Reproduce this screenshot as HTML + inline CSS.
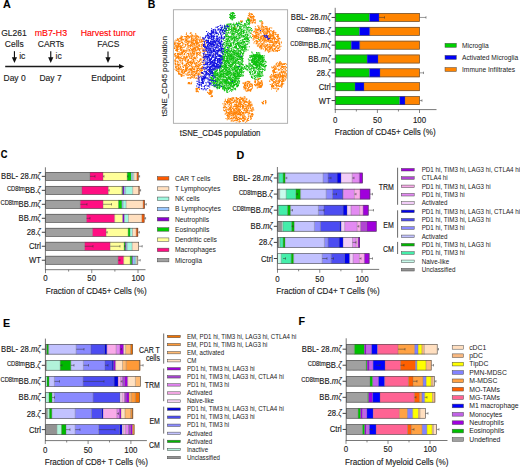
<!DOCTYPE html>
<html><head><meta charset="utf-8"><style>
html,body{margin:0;padding:0;background:#fff;}
svg{display:block;font-family:"Liberation Sans", sans-serif;}
text{stroke:currentColor;stroke-width:0.12px;paint-order:stroke;}
</style></head><body>
<svg width="520" height="467" viewBox="0 0 520 467">
<rect width="520" height="467" fill="#fff"/>
<text transform="matrix(1 0 0 1.0 2.90 7.60)" font-size="10.8" text-anchor="start" fill="#000" color="#000" font-weight="bold" >A</text>
<text transform="matrix(1 0 0 1.06 13.90 35.60)" font-size="8.5" text-anchor="middle" fill="#1a1a1a" color="#1a1a1a" >GL261</text>
<text transform="matrix(1 0 0 1.06 14.30 46.60)" font-size="8.5" text-anchor="middle" fill="#1a1a1a" color="#1a1a1a" >Cells</text>
<text transform="matrix(1 0 0 1.06 50.90 35.60)" font-size="8.85" text-anchor="middle" fill="#ff0000" color="#ff0000" >mB7-H3</text>
<text transform="matrix(1 0 0 1.06 50.90 46.60)" font-size="8.5" text-anchor="middle" fill="#1a1a1a" color="#1a1a1a" >CARTs</text>
<text transform="matrix(1 0 0 1.06 108.20 35.60)" font-size="8.8" text-anchor="middle" fill="#ff0000" color="#ff0000" >Harvest tumor</text>
<text transform="matrix(1 0 0 1.06 108.30 46.60)" font-size="8.5" text-anchor="middle" fill="#1a1a1a" color="#1a1a1a" >FACS</text>
<text transform="matrix(1 0 0 1.06 14.60 81.30)" font-size="8.5" text-anchor="middle" fill="#1a1a1a" color="#1a1a1a" >Day 0</text>
<text transform="matrix(1 0 0 1.06 50.50 81.30)" font-size="8.5" text-anchor="middle" fill="#1a1a1a" color="#1a1a1a" >Day 7</text>
<text transform="matrix(1 0 0 1.06 108.00 81.30)" font-size="8.5" text-anchor="middle" fill="#1a1a1a" color="#1a1a1a" >Endpoint</text>
<text transform="matrix(1 0 0 1.06 19.20 59.00)" font-size="8.5" text-anchor="start" fill="#1a1a1a" color="#1a1a1a" >ic</text>
<text transform="matrix(1 0 0 1.06 55.60 59.00)" font-size="8.5" text-anchor="start" fill="#1a1a1a" color="#1a1a1a" >ic</text>
<line x1="14.45" y1="51.20" x2="14.45" y2="59.00" stroke="#111" stroke-width="1.15"/>
<path d="M11.85,57.30 L17.05,57.30 L14.45,63.00 Z" fill="#111"/>
<line x1="50.75" y1="51.20" x2="50.75" y2="59.00" stroke="#111" stroke-width="1.15"/>
<path d="M48.15,57.30 L53.35,57.30 L50.75,63.00 Z" fill="#111"/>
<line x1="108.00" y1="51.40" x2="108.00" y2="59.00" stroke="#111" stroke-width="1.15"/>
<path d="M105.40,57.30 L110.60,57.30 L108.00,63.00 Z" fill="#111"/>
<line x1="5.20" y1="66.45" x2="119.00" y2="66.45" stroke="#1a1a1a" stroke-width="1.35"/>
<path d="M119.0,64.1 L124.4,66.45 L119.0,68.8 Z" fill="#111"/>
<text transform="matrix(1 0 0 1.0 147.80 7.70)" font-size="10.5" text-anchor="start" fill="#000" color="#000" font-weight="bold" >B</text>
<defs><filter id="tb" x="0" y="0" width="1" height="1"><feGaussianBlur stdDeviation="0.3"/></filter><clipPath id="tc"><rect x="173.9" y="10.2" width="113.3" height="112.6"/></clipPath></defs><g clip-path="url(#tc)"><g filter="url(#tb)" fill="none" stroke-width="1.05" stroke-linecap="square"><path stroke="#ff8000" d="M250.5 108.1h0m-51.8-43.8h0m81.2-19.6h0m-82.3 4.3h0m56.1-29.8h0m-72.3 53h0m-.1-24.7h0m64.2 35.7h0m22-52.4h0m12.2 47.1h0m-41.6 27.2h0m30.1-66.2h0m18.6 35.5h0m-89.4-5.2h0m1.5-19.9h0m78.7 1.1h0m-2.2-8.3h0m-20.6-.5h0m-80 2.7h0m15.1 14.1h0m-14.6-2.8h0m52.3 47.9h0m-38.7-49.5h0m-12.6 12.6h0m10.5-15.4h0m12.7 38.2h0m74.6-40.3h0m-1.9 37.9h0m7.2-4.5h0m-28.9 36.7h0m-65.3-45.2h0m48.6 24h0m-41.4-55.6h0m43.8 72.6h0m25.6-29h0m-18.5 27.2h0m-61.1-42.8h0m14.1 1.4h0m75.4-4.8h0m-77.1-22.8h0m71.6-14.6h0m-14.9 60.2h0m-63.3-19.1h0m80.8-32.5h0m-90.4 19.8h0m82.4 29.5h0m-25.1 28.4h0m-8.2-1h0m17.8-10.5h0m24.4-72.9h0m-38.8 84.3h0m-34.7-24.6h0m-9.1-43.2h0m76.6 53.2h0m13.5-59.7h0m.6 42h0m-46.3 27.3h0m37.8-74.3h0m-42.8 71.2h0m26.9-75.8h0m-67.9 12.6h0m61.8 75h0m-68.7-66.1h0m19.5 20.8h0m-6.4-24.6h0m-14.6 .5h0m8 10.4h0m87.9 17.8h0m-23.6-59.2h0m11.4 67.6h0m18.4-40.7h0m-11.7-12.8h0m-24.4 49.9h0m-55.5-5.1h0m72.8-35.9h0m-24.1 66.5h0m11.1 4.2h0m-49.8-41h0m47.7 10.7h0m27.9-2.6h0m-81.8-42.6h0m1.5 7h0m-15.4 5.2h0m82.2-2.7h0m-5.1-9.9h0m-61.4 34.6h0m-14.9-16.8h0m61.2 46.3h0m43.2-34.2h0m-87.4-2.5h0m47 51.8h0m-63.5-59.3h0m25.2 6.9h0m81.6 9.1h0m-44.8-52.1h0m25.1 27.8h0m-74.9-15.7h0m78.4 9.9h0m-64.7 8h0m-24.9 7.2h0m2.8 1h0m61.7 58.1h0m26.1-37.8h0m-8.6-33.1h0m-16.9 56.2h0m-50.1-27.9h0m40-45.7h0m41.8 56.1h0m-47.6 30.6h0m44.9-27h0m-65.5-17.3h0m47.7-27.3h0m.9 35.7h0m-75.3-20.7h0m88.5 18.6h0m11.9-1.6h0m-6-29h0m-24.2 64.4h0m-25.3 1.8h0m34.7-86.3h0m-10.5-9.2h0m-56.3 40.9h0m76.8-23.2h0m-67.9 20.9h0m-11.2-4.6h0m89.4 20h0m-22.7-30.2h0m23.1 44.9h0m-17.6-38.9h0m-66.8 13.4h0m-15.3-18.5h0m75.8 36.3h0m-60.4-8h0m-23.6-10h0m64.5 43.5h0m33.4-23.5h0m-84.7-12.5h0m53.7 38.3h0m-2.6 3.6h0m-32.4-55.6h0m-9.9-17.6h0m55.8 47.5h0m-3.7 18.1h0m2.3 13.9h0m-65.2-57.1h0m62.5 22.3h0m-7.3 23.7h0m34.5-55.1h0m-23.1 59.8h0m14.7-81.4h0m-5.4 56.9h0m-68-25.7h0m79.4-24.3h0m-71.9 17.1h0m-6.6 14.9h0m54 53h0m15.7-81h0m-66 10.7h0m61.9-2.2h0m12.6-2.2h0m-93.7 21.6h0m92.1-29.9h0m-25.4 60.7h0m-51.3-39.6h0m41 41.6h0m43.5-23.3h0m-32.6 6h0m-62.9-9h0m-.4-1.1h0m6.7-15.5h0m-6.9-14.7h0m21.9 6.8h0m63.3-7.9h0m-34.1-11.3h0m13.7 80.5h0m24.4-36h0m-42.2 39.3h0m19.5-23.8h0m-18.4 9.3h0m52.1-24.4h0m-99.7-31.6h0m79-19.2h0m-72 12.9h0m71.3-9.2h0m14 61h0m-.3-39.3h0m-34.3 64.9h0m-52.6-78.4h0m71.9-2.6h0m-71.1 9.4h0m56.9 58.9h0m1.8-17.7h0m8.5-52.3h0m14.1 9.3h0m-69.9 1.2h0m67.7-13.2h0m-79.2 43.2h0m52.3 31h0m41.1-27.6h0m-32-56.4h0m.9 98.6h0m-61.5-67.5h0m64.2-29.3h0m-7.1 81.3h0m-64.2-48.6h0m94.4-17.2h0m-45.4 74.6h0m44.2-42.4h0m-86.8 13.8h0m14.8-31h0m-27.5 16.3h0m12.6-31.2h0m97.9 30.9h0m-94.2-22.5h0m38.7 68.6h0m27.7-28.6h0m-59.1-31.5h0m-.6-8.1h0m-6.7 22.2h0m66.1 14.3h0m11.2-30.8h0m.8-13h0m10.9 43.4h0m-12.1-41.5h0m-73.5 35.8h0m20.1-6.9h0m61.5 9.3h0m-4.7-39.3h0m8.8 42.5h0m-90.1-42.1h0m40.6 67.9h0m-40.3-66.2h0m-7 15.7h0m46.9 41.6h0m-35.2-8.7h0m-15.2-47.4h0m63.2 42.3h0m25.7-8h0m-38.3 34.8h0m14.4-20.4h0m-57.1-44.9h0m10 6.6h0m45.2 34.8h0m-39.1-36.2h0m45.1 35.3h0m-70.7-45.2h0m83.9 7.6h0m-3.2 34.5h0m-76.2-25.7h0m96.7 27.6h0m-42.6 29.5h0m-5.1-16.1h0m-47.6-61.9h0m11.5 31.8h0m71.3-31.1h0m-34.1 80.3h0m-42.9-72.9h0m44.5 69.7h0m36.1-79.6h0m-89.1 4h0m46.6 69.1h0m43.5-36.5h0m-74.4-6.8h0m52.9-47h0m-48.3 27.7h0m63.4 .7h0m10.2 32.9h0m-16-33.6h0m-21.2 55.3h0m-1.4 9.6h0m38.2-69.1h0m-2.4-5.1h0m-41.3 72.2h0m12.6-7.7h0m-58.2-50.1h0m6.4 2.9h0m6.8 10.7h0m77.8-28.4h0m-49.6 74.4h0m53.4-44h0m-31.9-49.8h0m28.8 65.2h0m-28.6 22.5h0m-67.2-60.5h0m72.7-13.8h0m-77.3 42h0m18.7-8.4h0m42.9 51.6h0m-57.8-67.5h0m14.2 22.8h0m-11.8 2h0m57.4 31.9h0m8.6-20.5h0m-10.4 22.9h0m23.1-60.6h0m-19.2 58.1h0m-42.8-33.7h0m28.5 46.3h0m13.2 4.2h0m32.7-52.2h0m-77.1-30.9h0m-19.8 21.2h0m105.3 7.5h0m-46.5 52.9h0m27.3-72.4h0m13.7 36.3h0m-42 36.8h0m-58.8-48.9h0m72.9 36.5h0m-63.8-33.5h0m11.1-21.7h0m51.6 48.8h0m-74.6-52.9h0m19.4 23h0m80 10.4h0m-27.5 19.6h0m12.7-61.6h0m-11.6 51h0m25.4-45.8h0m-23 45.8h0m-.9-8h0m-54.5-30h0m82 35.2h0m-80.7-51.3h0m-20.2 3.2h0m12 32.5h0m81.7 8.6h0m-15.5-49.4h0m-50.5 28.2h0m46.8-42.3h0m-16.3 96.6h0m-52-50.6h0m3.6-6h0m42.2 61.2h0m44.6-85.2h0m-35.4 65.3h0m-27-4.9h0m43.7-50.9h0m-17.1 55h0m-36.8-23.2h0m26 43.6h0m48.1-81.5h0m-77.4 51.9h0m15.2 7.7h0m33-13.4h0m-39.5-36.5h0m20.6 58.2h0m-50.5-58.9h0m4.7 16.2h0m58 40.6h0m4.9 14.1h0m40.6-48.3h0m-42.7 34.1h0m12.1-63.9h0m20 47.6h0m1.2-54.1h0m-1.8 10.5h0m1.5-5h0m-29.7 64.7h0m-6.5 10.9h0m-37.7-59.4h0m60.8 28.8h0m-2.3-53.1h0m23.9 49.3h0m-34.7 9.8h0m-53.8-53h0m62.4-.8h0m-18.8 67.9h0m13.8-69.5h0m24.1 39.2h0m-4.9-37.7h0m6.9 48.7h0m-3-15.3h0m-93 6.3h0m-4.3-25.7h0m9.3-15.7h0m90.7 55.9h0m-36.5 25.6h0m31.1-67.6h0m.5 20.9h0m1.1-.5h0m-17.4-30.8h0m-59 2.1h0m-13.1 1.3h0m.1 11.3h0m2.5 6.3h0m91.7 19.2h0m-29.9 6.4h0m-67-33.1h0m10.7-12.4h0m46.5 75.9h0m-46.8-39.4h0m83 2.7h0m-63.5 16.4h0m25.3 20h0m12.1-.1h0m-12.5 7h0m10.1-20.6h0m-50-36.6h0m-17.9-7.1h0m7.8 14.6h0m77.2-24.4h0m-17.3 41.4h0m11.7-1.7h0m-9.1-66.6h0m13.4 25.3h0m14.1 6h0m-77-7.7h0m-12.3-6.4h0m-12.4 18.3h0m4.3-9.4h0m100.3 37.4h0m-82.8-46.7h0m73.4-1.7h0m-12.2 4h0m16.7 5.4h0m-92.9 28.4h0m3.3-6.4h0m46.1 42.3h0m1.1-2.3h0m17.2-4.6h0m-62.6-61.9h0m45.3 60.6h0m-31.6-28h0m69.3-27.4h0m-78.8-8.5h0m-14.6 25.9h0m69.4 22.2h0m9.9 1h0m-24.1 22.1h0m39.4-59.1h0m-30.8 64.7h0m-45.5-59.8h0m50 53.4h0m-52.4-71.3h0m80.3 52.4h0m-36.5-60.2h0m13.8 79.6h0m7.8-65.7h0m-78.8 8.1h0m53.7 69.3h0m20.2-84.1h0m-62.8 48.5h0m13-16.3h0m81.5 2h0m-30.1-32h0m-.3-17.8h0m.2 91.2h0m-13.8-8.4h0m2.9-1.2h0m19.4-15.4h0m-11.7 20.9h0m-33.2-61.7h0m-30.8-3.9h0m45.3 71.9h0m12.6 6.5h0m-48.2-67.9h0m28.6 55.2h0m58.7-25.7h0m-43 23.2h0m11.4 2.1h0m5.4-67.2h0m-71.8 19.9h0m86.7 25.6h0m2.7-14.8h0m-77.2-.7h0m-23-26.2h0m77.1 68.5h0m-12.9 3.7h0m4.8 5.7h0m23.5-75.3h0m.5-15.6h0m5.6 3.3h0m-95 12.1h0m53.7 53.4h0m-50-55.6h0m97.9 6.9h0m-43.5 54.7h0m23-63.2h0m18.6 25h0m-27.7 51.2h0m-46.2-47.7h0m-15.2-32.5h0m38.5 65.8h0m38.1-.6h0m-5.1-16.2h0m-2.4-49.5h0m-15.9 72.7h0m38.9-38.7h0m-6.3-32.5h0m-35.1 68.7h0m-4.3-1.7h0m-7.7-5.2h0m31.3-14.3h0m-71.5-21.6h0m72.7-31.4h0m-78.6 20.9h0m-5.7-2.8h0m60.5 66.6h0m21.5-37h0m-75.1-10.2h0m-.3-17.2h0m69.8 63.6h0m-68-44.3h0m91.9 13.2h0m-37.8 34.3h0m-59.9-78.3h0m87.3 61.5h0m-40.6 11.5h0m54.2-63.6h0m-3.5 18.9h0m-17.5-32.5h0m-66.2 5h0m90.9 37.6h0m-25.3 2.6h0m14.7-40.4h0m-37.7 71.3h0m5.1 8.4h0m42.9-44.7h0m-25.6-46.7h0m-53.2 18.6h0m-9.2 8.5h0m83 20.7h0m-83.3-1.9h0m76.8 1.2h0m-31.2 37.1h0m-12.7 1.3h0m8.5-10.5h0m32-63.9h0m-20.5 69.6h0m-59.1-48.4h0m84.6-23.6h0m-93.8 14.9h0m104.1 21.9h0m-83.7-.7h0m31.1 32h0m-38.3-70.5h0m1.1 38.8h0m55.3 38.1h0m-17.9-13.3h0m-28.9-54.2h0m-18.6 21.8h0m-5.7-27.6h0m0 14.6h0m96.7 24.7h0m-22.3 5.7h0m-62.1-19.3h0m7.5-22.4h0m14.6 47.2h0m-18.5-41.2h0m83 37h0m-89.6-17.6h0m7.8-7.6h0m-8.8-20.6h0m-5.9 23.9h0m6.5-.8h0m82.1-27.2h0m-16.1 .1h0m-7.3 76.2h0m-57.4-66.7h0m10.8-.8h0m-14.5 12.2h0m72.6-13.8h0m-12.1 76.4h0m21.4-77.7h0m-37.6 76.2h0m-40.9-75.2h0m80.8-11.3h0m-44.3 75.5h0m11.4 .7h0m-43.3-67.7h0m17.7 51.8h0m-8.2-16.2h0m.8-32.2h0m-18.1 28.7h0m72.3 12h0m-7.2-64.5h0m-19.1 83.1h0m-36.4-63.4h0m63.1 44.9h0m-28.8 24.3h0m-41.1-70.9h0m6.5 10.3h0m67.6-17.4h0m24 35.5h0m-19.3-25.8h0m-76.5 31.2h0m40.9 29.9h0m32.6 1.3h0m-76.3-62.6h0m-11.5 16.1h0m65.7 55.9h0m-61.9-39.4h0m8.9-12.3h0m-4.6-8.6h0m82.6 48.7h0m-24.7 3.6h0m-43.5-33.9h0m70.2-23.3h0m-82.4 22.2h0m8.2-15.6h0"/><path stroke="#ff8000" d="M185.4 39.9h0m91.3 45.3h0m-25.1 28.9h0m-69.6-76.5h0m65.5 48.4h0m-71.9-32.6h0m95.9 33.1h0m1.8-14.7h0m-94.6-27.6h0m64.1 70.1h0m-50.5-47h0m85.7 6.8h0m-84.6-33.4h0m-2.1 3.2h0m.8 33.6h0m65-41.6h0m12.4 10.7h0m-82.9 22.5h0m58 33.8h0m3.6 11.9h0m-60.8-52.7h0m9-18.1h0m-2.3 1.6h0m-1.9-10.2h0m1 4.4h0m61.4-19.8h0m19.5 22.4h0m-25.1-24.1h0m-46.2 33h0m26.3 68h0m-48.1-49.5h0m15.3 20.9h0m32.7 22h0m36.4-79.6h0m-31.2 79.5h0m28.6-68.7h0m-2.8-3.4h0m-9.1 61.6h0m-45.6-48.2h0m54.7-16.4h0m-23.4 80.6h0m4.1-8.9h0m-43.4-51.4h0m74.4-29.8h0m-17.8-7.9h0m7.9 9.3h0m-25.6 92.9h0m31.6-74.4h0m-39.8 66.7h0m-33.9-59.8h0m69.1-24.7h0m10.8 12.6h0m-95.3 4.5h0m65.3 68.3h0m38.6-30.8h0m-91.1-14.1h0m87.6-7h0m-94.3 1.3h0m17.6 4.4h0m-11.1-2.7h0m35.4 40.8h0m50.7-56h0m-23.6-31.2h0m-3.2-3h0m-12.5 89.8h0m-38.5-57h0m-22.7-4.6h0m104.5 35.8h0m-7.1-35.9h0m-46.8 71h0m51.1-67.8h0m-77.3-3.8h0m-9.3 26.6h0m-10.7-35.4h0m74.9 2.1h0m16.4-1.3h0m-80.3 12.6h0m2.5 25.2h0m57.7-57.7h0m-54.7 71.6h0m4.3-41.2h0m52.3-10.6h0m23.5 8.9h0m-97.6 29h0m23.3-19.5h0m-21 11.2h0m91.4 20.7h0m-39.3 14h0m38.1-19.9h0m-42.6 27.8h0m-46.4-35.3h0m-8.6-10.3h0m7.2-9.9h0m17.1 12.5h0m46.8 17.1h0m-57.8-28.6h0m6.1 13.9h0m5.1-19.6h0m69.8-19h0m-32.8 72.9h0m34.6-64.1h0m-30.8 63.5h0m7.4 5.1h0m30.4-26.7h0m-95.6-25.4h0m41.5 51.8h0m41.4-4.2h0m-40.3 2h0m-31.2-65.7h0m91.9 37.8h0m-12.2-34.3h0m-92.7 10.6h0m101 12.4h0m-101.6-17h0m16.7 40.9h0m31.1 9.1h0m19.7-8.6h0m-33.8-35.5h0m-32.4-17h0m70.9-14.5h0m-.5 65.5h0m10-5h0m-37.6-22.9h0m42.6-31h0m-78.3 40.1h0m54.4 43.5h0m32-31.1h0m-78.9 9.5h0m60.7-52.8h0m-33 66.6h0m48.7-71h0m-11.4 11.5h0m-70.2 12.2h0m67.4-30.2h0m-28.5 83.4h0m42.8-60.6h0m-7.3-.3h0m13 25.5h0m-99.1-34.3h0m82.6 5.9h0m-69.9 9.6h0m52.8 31.6h0m-45-22.9h0m-6.6 6.3h0m-4.5-34.3h0m58.9 72.7h0m10.4-71.6h0m-78.5 29.6h0m13 .4h0m66.5 15.9h0m-47.3 11.2h0m56.1-64.5h0m-92.1 27.2h0m81.7-32.4h0m-75 38.2h0m50.4 49.3h0m4.3 6.9h0m-47.2-74.8h0m71.7-9.5h0m-81.3 11.5h0m56 59h0m33.2-57.3h0m-81.9 18.3h0m72.7 15.4h0m-83.1-39.4h0m13.8 30.1h0m4.7-27.9h0m-9.9 19.9h0m84.8-16.4h0m-70.9 18.8h0m-12-26.3h0m95.9 33.5h0m-75.4 17.6h0m47.9-60.3h0m-10.7 54.2h0m-11.2 14.4h0m4.1-2.6h0m-57.7-49.8h0m93.7 20.5h0m-77.6-22h0m71.6-9.1h0m-80.3 .5h0m86.9-4.1h0m1.5 16h0m-84.4-.3h0m56.8 39.7h0m-59.3-34h0m66.7-20.6h0m-20.2 62.9h0m-50.4-58.4h0m45.6 73.5h0m-40.9-66.7h0m79.5-.5h0m-73.6 31.8h0m-3.7-1.8h0m-1.4-2.1h0m54.1 8.2h0m20.1-44.2h0m-19.8 50.5h0m-10.5 22.5h0m-37.8-19.6h0m46.3-4.6h0m-50.3-25.3h0m83.3 15.1h0m-86.1-28.2h0m65.7-7.9h0m6.4-9.7h0m-80.5 31.7h0m60.7 50h0m-56.2-63.6h0m7.4-4.3h0m87.1 26.7h0m-102.1-26.1h0m6 1.2h0m73-.7h0m-69.5 16.9h0m-4.5-3.4h0m40.6 43.9h0m-30.2-26.1h0m-5.6 5.6h0m6.4-9.3h0m74.8-45.6h0m-14.1 8.3h0m-60.9 15.1h0m78.9 31.1h0m5.5-19.4h0m-20.8-34h0m-10.7 61.5h0m-58.9-49.1h0m.6 41.7h0m10.9-22.9h0m63.8-23.6h0m-75.4 27.4h0m-2.7-29.4h0m83.4-.6h0m-8.6-12.2h0m-17.5 83.8h0m-12.3-4.7h0m23.7-19.9h0m-74.2-26h0m10.4 8.2h0m-6.8-9.7h0m15.1-13.2h0m45.3 45h0m37-12.6h0m-89.7-34.2h0m74.9 7h0m-80.7-7.6h0m64.9-17.4h0m-56.4 43.2h0m54 53h0m-70.9-51.3h0m76-48.9h0m-70.6 35.1h0m96.8-12.7h0m-17.7-3.2h0m-5 45.2h0m-26.7 30.3h0m21.5 4h0m-60.9-69.5h0m10.4 18.8h0m-21 2.5h0m16.1-14.4h0m-9.4-11.6h0m-.5 28.5h0m14.7-2.2h0m-13.1-2.7h0m83.8-15.8h0m-72.7-7.6h0m-12.6 .4h0m68.1-4.1h0m29.9 37.3h0m-105.4-6h0m46.5 38.8h0m47.9-28h0m-36.9 32.7h0m43.9-43.8h0m-19.4-21.5h0m-14.5 34.6h0m-13.5 16.6h0m38.3-19.1h0m-27.9 9.9h0m-34.6 1.5h0m70.7-4.4h0m-94-21.4h0m-5-6.2h0m12.8-7h0m84.2-9.4h0m3.3 21.3h0m-6-21.7h0m3.8 28.3h0m-100.5-14h0m12.8 8.5h0m-13.2-18.2h0m.3-3.1h0m53.4 77.7h0m17.5-20.5h0m-49.7-50.6h0m53.1-32.6h0m-73.9 39.9h0m66.4 32.9h0m9.7-9.1h0m-74.7-26.3h0m13.6 22.7h0m-8-10.7h0m59.9 39.7h0m33.5-61.6h0m-89.3 5.6h0m-11.9-3.6h0m98.8 35.1h0m-100.6-32.1h0m20.6 17.3h0m88.1 8.8h0m-17-34.3h0m-79.6 19.2h0m-4.4-16.7h0m2.2 6.8h0m85.9 29.5h0m-93.7-12.1h0m87.4-37h0m-13.4 56.7h0m-73.8-18.2h0m104.9 6.1h0m-24.9-47.9h0m-68.9 29h0m85.9 20.3h0m-28.5 43h0m-15.5-17.4h0m-31.9-47.2h0m78.5 9.8h0m-31.5 33.6h0m-2.7 16.6h0m-55.2-74.7h0m43.4 71.3h0m-26.7-70.7h0m66.1 44h0m-15.4-43.8h0m19.5 32.8h0m-6.4-27.9h0m14.6 31.9h0m-99.6-13.5h0m45.6 33.9h0m19.3-79.2h0m10.8 19.7h0m-80.4 7.3h0m68.7 62h0m26.2-33.2h0m-38.4 22h0m-40.4-23.7h0m82.9-35.2h0m-24.5-1.7h0m-3.6 68.1h0m29.8-28.5h0m-102.2-12.2h0m67.9 37.6h0m-68.8-51.4h0m17.5-13.7h0m-14.5 33h0m98.5-28.9h0m-84.8 16.7h0m-12.9-11.3h0m77.9-11.1h0m-84.6 9h0m100.5 31h0m-4.3-26.7h0m-90.2 9h0m63.3 42.7h0m-20.3 7.7h0m-32.4-62.1h0m74.3-19.3h0m-20.9 59.1h0m9.3-47.6h0m25.7 .6h0m-87.6 4.6h0m61.4-3.2h0m29.3 41.5h0m-84.1-1.6h0m66.7-28.8h0m16.1 15.9h0m-5.4 21h0m-30.8 .3h0m-1.7-5h0m36.2-2.3h0m-82.4-27.3h0m29.3 59.2h0m3.6-7.4h0m34.1-59.8h0m11.1 37.5h0m-31.7 37.8h0m17.4-89h0m-59.6 27h0m48.5 23.1h0m-7.2 38.5h0m23.6-78.8h0m-15 42.8h0m32.5-20.4h0m-42.7 33.8h0m27.4-62.4h0m-78.3 15.1h0m46.9 58.6h0m-33.8-47.2h0m70.4-29.2h0m-24.9-13.4h0m-55.1 40.2h0m49.1 56.1h0m10.2-6.8h0m24.6-71.1h0m-88.8-1.7h0m83.5 48h0m-16.7-62h0m9.9 26.1h0m.5-10h0m9.7 .2h0m-11.9-3h0m-62.6 5.9h0m66.8 5h0m-89 23.6h0m63.3-48.8h0m21.1 18.6h0m-1.3 4h0m-22.9 67.5h0m-9.9-12.1h0m36.2-50h0m4.8-3.7h0m-41.2 68.3h0m8.3-6.7h0m-51.8-36.2h0m8.8-7.5h0m-17.7-14.2h0m64.5 52.9h0m29.8-53.1h0m-35.6 63.7h0m1.2-7.9h0m32.4-74.9h0m-34.1 84.4h0m-43.1-73.1h0m61.4-19.3h0m-73.1 37.7h0m8.9-9.6h0m63.4 65.2h0m25-66.2h0m-17.6 37.6h0m-62.5-44.3h0m36.2 64.8h0m18.7-84.6h0m25.9 63.8h0m-24.9-50.9h0m7.2 11.2h0m-83.8 2.6h0m106.1 27.5h0m-45.2 41.7h0m17.7-87.3h0m6.1-5.8h0m-1.4 6.1h0m-4.9-11h0m-59.7 28.4h0m-19.8 17.4h0m59.2 54.6h0m-32.7-72h0m.1 8h0m-15.5-.1h0m-4.8-16.7h0m91 46.2h0m5.4-17h0m-100-11h0m67.8 50.6h0m-48.8-67.6h0m37.9 69h0m15.8-5.4h0m16.7-64.9h0m-19.2 78.6h0m-49-45.2h0m-.1 15.6h0m45.5 21.4h0m-53.3-26.4h0m59 18.3h0m33.7-25.9h0m-83.8-3.5h0m-17.6-36.2h0m-2.6 31.3h0m19.9-29.9h0m33.6-8.8h0m11.5 90.1h0m18.8-90.9h0m-67.1 42.4h0m57.2-50.5h0m-60 46.2h0m-7.1-.6h0m9.7-.2h0m54.8 20.6h0m28-7h0m-77.5-37.7h0m-25.5 8.7h0m23.8 8.8h0m61.1-36.8h0m-19.8 89.4h0m-43.1-63h0m40.5 68.7h0m7.3-5.9h0m4.2-95h0m-61.9 43.1h0m73.2-11.3h0m-6.3 34.5h0m-16.4 30.3h0m-50-29.6h0m97.5-8.1h0m-89.8-3.4h0m-10.9-4.7h0m-1.4-15.4h0m45.1 49.3h0m-27.8-39h0m70.9-11.3h0m-75.3 4.1h0m2.4 5h0m68-12.3h0m-18.4 39.6h0m-57.7-28.8h0m12.4 .9h0m-18.2 9.2h0m97.3 8.9h0m-13.7-42.2h0m-7.1 49.6h0m-79.5-24.6h0m95.5-25.7h0m4.3 46.2h0m-29.7-64.2h0m-15.6 82.6h0m-59.4-37.8h0m18.2-23.8h0m46.4 75.8h0m-60.7-71.2h0m52.1 70.3h0m28.5-9.8h0m-30.9 8.9h0m42.8-72.5h0m-50 71.5h0m4.9 6.5h0m43-85.4h0m-11.9 4.6h0m-67 39.6h0m7-27.1h0m84.7 24.2h0m-76.3 20.9h0m-9-47.6h0m-1.5 20.5h0m-16.9-16.5h0m82.2 51.3h0m-86.2-54h0m88.2-10.1h0m-59.8 7.7h0m20.1 68.2h0m54.3-40.3h0m-91.9-34.3h0m61.4 64h0m23.8-71.2h0m-77.1 14.8h0m34 68.5h0m-31.3-36.7h0m31 24.9h0m-52.1-46.6h0m96.5-7.3h0m-77-6.2h0m5.7 1.7h0m54.3 38.7h0m-63.5-5.3h0m62 7.8h0m-24.1 29.7h0m46.2-67h0m-44.6 69.1h0m48.8-34.7h0m-92.9-33.4h0m55.2 59.3h0m16.5-23.1h0m-31.7 31.6h0m35.1-83h0m-15.1 69.5h0m-13.3 14.1h0m-39-29h0m-1.8-39.3h0m70.8-17.6h0m-29.8 88.4h0m16.2-6.2h0m-56.9-47.8h0m28.9 35.4h0m-44.3-44h0m17.3-21.6h0m-21.2 34.3h0m22.4-16.1h0m78.4-19.9h0m-5 6.4h0m-29.4 57.3h0m-31.7-6.9h0m-35.8-36.5h0m1 2.8h0m83.8 29.2h0m19.1-20h0m-15.2-28.4h0m-61 19.4h0m-20.6 13.6h0m87.1-29.5h0m-36.5 58.3h0"/><path stroke="#ff8000" d="M273.8 37.4h0m-86.4 22.5h0m51.3 47.1h0m31.8-66.6h0m-89.5-3.5h0m10.3 19.8h0m51.8 49.9h0m-15-80.6h0m-31.3 18.6h0m-2.4-.7h0m-3.5 24.6h0m-10.3-27.6h0m71.8-26.6h0m-15.9 97.7h0m-35.3-71.1h0m44.5 44.1h0m24.3-45.5h0m-19.1 45.5h0m-64.4-15h0m6.4-19.8h0m35.9 62.4h0m-36.6-44.1h0m-8-13.9h0m62.6 57.5h0m-65.5-51.1h0m47.6 38.9h0m15.3-12.5h0m-.2-1h0m-53.3-23h0m90.7 18.1h0m-3.4-40.8h0m-21.2 44.1h0m-11.5 17.1h0m32.9-65.9h0m-20.5-5.7h0m-76.9 8.6h0m90.7 50h0m-13.8-5.1h0m22.3-6.9h0m-4.6-32.9h0m-18.2-7.4h0m-56.1 5.8h0m-23.8 7.2h0m1.8 8.7h0m14-14.3h0m56.9 69.7h0m-54.4-79.9h0m62.2 .6h0m17.4 11.7h0m-82.8 6.2h0m71.5-23h0m-24 72.3h0m-46.9-48.4h0m80.6 32.6h0m-15-55.7h0m-68.7 53.3h0m16.3-31.9h0m26.6 46.3h0m48.2-25h0m-15.5-33.5h0m-69.5 49.8h0m57.2 25.6h0m7.1-69.2h0m-2.3-3.8h0m15.3-3.2h0m-83.7 24h0m-1.2 .5h0m94.3 11.8h0m-2.3-9.8h0m-102.8-.9h0m24.8 6.5h0m75-27.9h0m-80.6 10.7h0m45.9 48.7h0m-2.9 3.9h0m-46.8-46.6h0m80.1-13.1h0m-25.7 63.9h0m19-64.7h0m-72.5 22.7h0m-5.9-22h0m73.3 40.7h0m-86.8-38.3h0m70.7 70.7h0m10.6-85.6h0m-58.2 19.9h0m76.8-8.4h0m-92-5.5h0m-4.2 14.3h0m16.1-6.5h0m16.2 43.2h0m75.7-12.8h0m-12.7-27.2h0m-79 21.4h0m-.8-22.7h0m71.7-20.6h0m-22 77.4h0m4.6-22.4h0m-10.7 23.2h0m35.4-36.5h0m3.8 13.3h0m-65.3 8.4h0m-15.4-20.5h0m69.8-45h0m-90.4 34.5h0m61.1 36.5h0m10.6-6.5h0m15.1-42.4h0m.1 53.6h0m-67.8-58.5h0m-3.4-1.2h0m86.8 34.6h0m-4.2-39.6h0m-29.6 83.3h0m-11.7-12.5h0m41.6-39h0m-26.3 15.9h0m-.6 27h0m-54.2-61.6h0m-11.5 3.8h0m15.3 33.6h0m54.9-68h0m-72.1 31.8h0m20.3 8.9h0m40.8 49.5h0m-37.2-64.8h0m66.1-13.8h0m-39.2 79.9h0m10.6 1.2h0m10.4-93.5h0m-52.7 49h0m-12.8-2.5h0m81.5-16.5h0m-23.6 63.5h0m32.3-27.7h0m-95-46.9h0m74.7 43.8h0m-58.2-42h0m67-2.4h0m-1.8 2.8h0m-13.6-26.7h0m-10.2 98h0m-51.3-58.3h0m-5.1 9.7h0m65.6 55.3h0m-72.5-57.6h0m15.3-12.7h0m2.7 1.5h0m82.5-15.3h0m-20.3 51h0m-57.8-48.4h0m46.3 64.5h0m16.7-15.2h0m-9.8-65h0m-2.2 83.4h0m-4.6-6.3h0m-4.9 22.3h0m-54.8-48.3h0m9.4-22.8h0m32.5 51.9h0m41.2-70.9h0m3.6 47.6h0m-10.1-29.3h0m-18.5 68.8h0m-66.7-61.6h0m98.5-15.2h0m-78.7 37.4h0m56.8-63.9h0m-77.1 49.1h0m104.2 1.9h0m4.1 18.4h0m-99-26.9h0m8.1-16.8h0m40.4-11h0m-1.9 75.7h0m50.7-20.9h0m-.7-40.8h0m-48.4 70.3h0m43.9-37.6h0m-1.6 1.2h0m-43 22.7h0m22.9-62.1h0m-57.9 28.8h0m35.8 49.3h0m41.2-66.9h0m-2.5-1.9h0m-38.3 71.9h0m22.9-87.1h0m-63.8 21h0m66.7-9.1h0m-82.8 26.9h0m66.3 47h0m36.2-74h0m-41.1 66.2h0m4.9 9h0m-46.8-60.4h0m35.2 54.9h0m42.2-42.6h0m-80-20.6h0m62-21.3h0m-2.8 79.2h0m25.4-18.2h0m-77.5-30.7h0m-18.3 15.9h0m-4.3-35.1h0m10.5 3.9h0m76.1-9.2h0m-15.1 48.1h0m-51.1-20.4h0m72.2-25.8h0m-80.4 47.6h0m-.7-11.3h0m89.3 13.4h0m-55.7 17.7h0m20.7 14.1h0m25.9-89.5h0m2.6 56.3h0m-39 32.4h0m-49.6-47.5h0m85.4-29h0m-87.7 28.2h0m68.4 12.9h0m-5.9 35.6h0m7.9-8.2h0m-2.1 4.2h0m-51.9-77.3h0m76.4 5.8h0m-83 16.6h0m93.7 14.3h0m-54.5 30.9h0m-47.2-51.8h0m16.5-6.8h0m-13.4 19.1h0m57.1 36.7h0m-48.2-52.6h0m45 56.3h0m-50.1-39.7h0m-1.7 10.6h0m59.4 29.8h0m-9.2 3.8h0m-46.5-55.8h0m81.3 30.3h0m-25.8 27.3h0m28.8-46.8h0m-19.8-27.1h0m2.1 50.2h0m-65.3-49.1h0m87.4 42.5h0m-91-43.2h0m72.1 44.6h0m-2.5 .3h0m-60.8-14.3h0m-15.9-7.6h0m-.4 15.5h0m62.4 9.9h0m30-46.9h0m-87.1 4.9h0m-7.9 .4h0m72.4-27.5h0m-64.6 46.4h0m92.1-19.5h0m-17.8-6.8h0m-59.4 12.1h0m34.1 64.4h0m3 7.5h0m28.3-89h0m-28.7 74.4h0m-9 7.8h0m23.8-96.7h0m-73.7 31.8h0m1.3-8.9h0m10.4 20.1h0m-16.9-14.1h0m59.3-18.7h0m14.3 54.2h0m-10.7 17.8h0m-60.9-58.9h0m15.9 25.8h0m8.6 7.2h0m74.8-8.4h0m-99.3-18h0m51.3 57.7h0m-36.9-32.4h0m62.1-37.2h0m-57.2 53.4h0m88.8-17.3h0m-40.9 28.8h0m22-59.7h0m1-11.4h0m.4 15.6h0m-74.6 18.7h0m-11.9 11.9h0m14.5-11.3h0m50.9 37.4h0m-71.1-47.8h0m86.8-24.8h0m15.5 37.8h0m-88.9-12.9h0m6.7-15.2h0m-11.8 27.6h0m17.7-19.4h0m-16.3 24.9h0m10.6-5.8h0m41.7 45.1h0m-45.6-61h0m-12.4-6.5h0m94.2 32.5h0m5.4-1.4h0m-18.6-28.4h0m-68.1 16.1h0m8.1-25.1h0m-6.2 10.7h0m-9.5 17.8h0m12.6 4.9h0m85.6-3.1h0m-28.2-36h0m-67 7.7h0m93.7 24.1h0m-13.3-23.7h0m-28.6 63h0m12.9-79.4h0m-59.9 47.3h0m48.1 43h0m9.5-99h0m7.4 73.6h0m22.1-45.8h0m-87.9-5.3h0m79.5 14.1h0m-27 61.1h0m-47.9-52h0m1.7 9h0m76.7 2h0m-83.1-28.4h0m55.5 78.4h0m-48.5-43.9h0m32.9 26.9h0m17.5 3.9h0m0-4.3h0m15.7-62.5h0m-87.5 5h0m105.8 18.4h0m-5.3-27.9h0m1.7 10.7h0m-2.3 33.9h0m-96-20.1h0m83.2-33.8h0m-66.9 16.3h0m40.6 67.7h0m15.8-90.9h0m-20.1 89.9h0m13.8-23.9h0m38-7h0m-7.9-33.3h0m-99.9 15.6h0m56.4 44.9h0m-36.6-66.7h0m1.2 3.4h0m-2.3 29.8h0m69.7 28.8h0m-84.6-25.3h0m51.1 37.6h0m8.8 5.4h0m22.1-83.4h0m-3.9 42.6h0m-31.3 23.6h0m-49.5-37h0m86.6-19h0m-3.7-9.1h0m2.3 1.6h0m-18.7 79.6h0m23.3-77.7h0m-82.6 10.4h0m10.8 4.7h0m83.8 18.3h0m-1.9 14.5h0m-52.7 20.8h0m24.8-18.7h0m19.3-57.1h0m9.7 43.2h0m4.2 .3h0m-45.4 29.3h0m-49.6-64.7h0m4.5 18.6h0m80.7 8.6h0m-34.8 34.9h0m-52.4-35.8h0m9.5 3.6h0m74.6-27.2h0m-12.8-12.5h0m-12 80.7h0m35.5-29.7h0m-50.7 16.8h0m10.2 18.6h0m22.9-87.2h0m-29.1 86.7h0m41-73.9h0m-18.5 2h0m-70.7-9.4h0m-2.4 14.6h0m88.4 34.3h0m-.4-53.2h0m-32 82.5h0m-1.4-4.7h0m28.6-79.5h0m-8.4-3.7h0m10.5 24.8h0m-27.5 54.7h0m31.8-55h0m-31 66.7h0m4.4-11.9h0m-11-.6h0m30.9-68.3h0m-87.5 26.9h0m83.7-33.9h0m-68.1 12.1h0m41.5 75.3h0m39.8-26.6h0m-4.7-52.9h0m-13.2-3.4h0m15.6 35.7h0m-40.1-42.6h0m33.1 5.1h0m8.7 34.5h0m-72-26h0m65.9 5.7h0m-81.2 19.2h0m-10.5-27.4h0m97.6 28.1h0m-.9 17.3h0m-97.5-45.6h0m14.4-4.6h0m34.7 77.3h0m-37.5-41.7h0m14.6-15.4h0m-5.5 11.7h0m37.6-36.5h0m-6.1 77.7h0m31.6-26.6h0m-70.4-25.4h0m57.2-37.8h0m-69.4 55.8h0m104 0h0m-15.9-24.9h0m-76 29.6h0m-3.5-33.8h0m79.8-4.1h0m-27.1 57.8h0m-1.8 7.3h0m-47.4-51.6h0m84.6 23h0m-90-7.2h0m50 35.2h0m-25.6-11.5h0m-24-24.8h0m-2.3-17.9h0m64.6 30.8h0m5.1 28.6h0m-12.9 1.2h0m39.8-36.3h0m-98.4-22.6h0m45.7 60.6h0m53.8-35.8h0m-101.4-38.1h0m103.2 41.5h0m-106.9-38h0m20.4 .2h0m1.7 5.8h0m68.1-14.8h0m-86.5 4.9h0m82.2 45.2h0m-3.8-39.4h0m-67.8 17.1h0m87.4-21.2h0m-79.4 33.8h0m48.7 34.4h0m0-17.3h0m.7 11.8h0m-53.9-33.4h0m-16.9 .4h0m68.6 15.7h0m-11.2 34.7h0m-35.5-53.8h0m-6.8-3.7h0m33.6 41.1h0m53.1-18.4h0m-15.4-48h0m-29.8 65h0m13.8 3.7h0m9.7-76.8h0m-81.3 35.2h0m51 37.2h0m9.3 16.8h0m50.6-54.2h0m-27.4-37.1h0m11.1 57.4h0m-40.3 27.4h0m55.5-35.2h0m-107.4-14.2h0m68.3 46.3h0m-2.7-5.5h0m33.6-40.7h0m-48 46.7h0m36.7-74.1h0m-77 42.7h0m93 7h0m-42.4 14.5h0m-47.8-29.6h0m58.9 35.7h0m-17.3 11.7h0m9.5 3.7h0m-8.6-20h0m-56.8-52.3h0m15 13.5h0m68.5-26h0m-21.8 64.3h0m-51.1-22.8h0m81.9-40.4h0m5.9 10.2h0m-15.6-7.6h0m-81.9 29.1h0m5.2-10.3h0m86-26.1h0m-25.5 64.5h0m39.5-17.1h0m-85.1-6.1h0m36.9 39.8h0m-29.9-69.6h0m19.4 66.8h0m52.4-75.1h0m-94.4 27.5h0m74.7-21.9h0m-.5-11.5h0m-70.6 41h0m89.3-38.3h0m-39.8 68.2h0m10.9 1.3h0m-51-62.2h0m44.2 61h0"/><path stroke="#10c010" d="M255.6 59.7h0"/><path stroke="#ff8000" d="M176.4 57.0h0"/><path stroke="#10c010" d="M240.1 54.4h0m-20.1 22.2h0m6-7.4h0"/><path stroke="#ff8000" d="M261.9 23.7h0"/><path stroke="#10c010" d="M254.5 79.0h0m-25.6 .5h0m25.7-18.1h0"/><path stroke="#ff8000" d="M276.7 75.0h0"/><path stroke="#10c010" d="M246.4 31.9h0m-8.7 23h0"/><path stroke="#ff8000" d="M259.9 28.8h0"/><path stroke="#10c010" d="M258.3 64.7h0m-32.9 19.1h0"/><path stroke="#ff8000" d="M249.2 105.2h0"/><path stroke="#10c010" d="M238.5 25.1h0"/><path stroke="#ff8000" d="M249.2 112.1h0"/><path stroke="#10c010" d="M232.8 34.9h0m31.6 24.9h0m-22.1 8.5h0m19.9 .3h0"/><path stroke="#ff8000" d="M193.7 55.1h0"/><path stroke="#10c010" d="M229.2 87.8h0m14.3-15h0m-19.6-14.9h0m15.9-21.9h0m14 21.1h0"/><path stroke="#ff8000" d="M282.6 64.2h0m-4.7-25.1h0m-52.6 61.7h0"/><path stroke="#10c010" d="M247.2 20.2h0m-32.5 56.5h0m19.6-47.4h0"/><path stroke="#ff8000" d="M260.6 86.9h0m22.7-16h0"/><path stroke="#10c010" d="M235.1 58.3h0m17.8 2.7h0m-22.3-5.2h0m.5 20h0"/><path stroke="#ff8000" d="M273.5 73.2h0m6.4-26.3h0m-85.3 22.7h0"/><path stroke="#10c010" d="M264.3 63.3h0m-32 .5h0m-16.6 11.6h0m5.1-8.3h0m40.9-3.9h0m-34.1-11.5h0"/><path stroke="#ff8000" d="M230.1 110.0h0m50.1-34.6h0m-32.3 35.3h0m-53.1-53h0m-7.3-22h0"/><path stroke="#10c010" d="M240.6 69.4h0"/><path stroke="#ff8000" d="M257.7 84.2h0"/><path stroke="#10c010" d="M249.5 69.7h0"/><path stroke="#ff8000" d="M256.9 32.4h0"/><path stroke="#10c010" d="M238.3 53.6h0m-.2 20.1h0m-3.6-55.6h0m-.6 57.4h0m-.7-19.6h0m-.3 26.6h0"/><path stroke="#ff8000" d="M266.0 40.3h0m1.8 10.1h0m-75.4 4.6h0m4.3 36.7h0"/><path stroke="#10c010" d="M225.8 77.8h0"/><path stroke="#ff8000" d="M241.1 21.7h0"/><path stroke="#10c010" d="M245.9 27.9h0m-15.8 54h0"/><path stroke="#ff8000" d="M231.6 117.8h0m-56.6-48.5h0"/><path stroke="#10c010" d="M251.8 51.9h0"/><path stroke="#ff8000" d="M198.5 70.5h0m-15.5-26.6h0m49 70.3h0m-34.9-59.2h0"/><path stroke="#10c010" d="M258.1 69.8h0m-31.9-16.6h0m1.2 7h0m4-43.5h0"/><path stroke="#ff8000" d="M272.1 76.2h0m-72.8-11.1h0m85.8 6.2h0m-50.7 46.1h0"/><path stroke="#10c010" d="M250.4 27.8h0"/><path stroke="#ff8000" d="M179.7 73.7h0m13.8-3.9h0"/><path stroke="#10c010" d="M243.8 44.3h0m-20.8 19.4h0"/><path stroke="#ff8000" d="M174.9 44.0h0m15.4 17.4h0m-4.6-2.2h0"/><path stroke="#10c010" d="M235.0 31.1h0m4.8 24.9h0m15.9 19.8h0m-29.7 7.1h0"/><path stroke="#ff8000" d="M277.3 45.4h0m-7.2 1.6h0m-74.8 2.2h0"/><path stroke="#10c010" d="M252.6 77.3h0"/><path stroke="#ff8000" d="M278.0 36.5h0m-79 13.2h0"/><path stroke="#10c010" d="M234.3 26.5h0"/><path stroke="#ff8000" d="M196.5 39.4h0"/><path stroke="#10c010" d="M260.5 75.8h0"/><path stroke="#ff8000" d="M279.4 72.8h0"/><path stroke="#10c010" d="M254.9 59.6h0m-27.1 27.5h0m-11-3.7h0"/><path stroke="#ff8000" d="M201.3 44.8h0"/><path stroke="#10c010" d="M232.0 30.7h0"/><path stroke="#ff8000" d="M180.6 50.2h0m91.3-2.6h0"/><path stroke="#10c010" d="M212.7 70.7h0"/><path stroke="#ff8000" d="M276.9 74.8h0m-38.4 42.8h0"/><path stroke="#10c010" d="M252.6 62.0h0m-6.6 6.7h0m-13.9-30.2h0"/><path stroke="#ff8000" d="M267.9 28.5h0m14.4 55.5h0m-87.7-8.5h0m89.5 .6h0m-13.3-39.9h0m9.6 25.5h0"/><path stroke="#10c010" d="M227.6 74.2h0m7.5-13h0"/><path stroke="#ff8000" d="M252.0 18.0h0"/><path stroke="#10c010" d="M223.3 86.7h0m-1.1-2.6h0m11.2-33.2h0m-16.2 19.2h0m1.8 18.3h0m3.9-29.2h0m29.7-1.9h0m-28-.7h0m28.3-2.5h0"/><path stroke="#ff8000" d="M263.3 103.7h0m-66.4-62.1h0"/><path stroke="#10c010" d="M247.4 37.8h0m-21.9 30.3h0"/><path stroke="#ff8000" d="M202.6 38.8h0"/><path stroke="#10c010" d="M258.7 55.7h0m-3.6 5.5h0m-20.6-21.8h0"/><path stroke="#ff8000" d="M237.8 108.4h0m8.2 9.4h0"/><path stroke="#10c010" d="M230.9 44.7h0"/><path stroke="#ff8000" d="M234.1 109.7h0"/><path stroke="#10c010" d="M242.5 56.2h0m-11.2-30.1h0m-9.7 48.4h0m-6.1 5.2h0m39.5-19.9h0m-39.6 20.9h0m27.6-22.2h0"/><path stroke="#ff8000" d="M189.6 62.1h0m66.6-29.5h0"/><path stroke="#10c010" d="M233.2 70.3h0"/><path stroke="#ff8000" d="M246.7 109.8h0"/><path stroke="#10c010" d="M231.0 84.9h0m2.1-37.4h0"/><path stroke="#ff8000" d="M250.8 106.1h0m-57.6-53h0"/><path stroke="#10c010" d="M247.1 66.4h0m9.6-4.3h0"/><path stroke="#ff8000" d="M255.4 26.8h0m-69.9 40.2h0"/><path stroke="#10c010" d="M236.1 39.1h0m-17 28.1h0m5.1 16.2h0"/><path stroke="#ff8000" d="M175.0 41.0h0"/><path stroke="#10c010" d="M259.9 58.2h0m-27.2-44.5h0"/><path stroke="#ff8000" d="M246.7 107.1h0m-9.4-5.6h0m-5-.8h0"/><path stroke="#10c010" d="M233.8 13.2h0"/><path stroke="#ff8000" d="M195.6 49.0h0m41.3 51h0m21.8-73.9h0m-10.5 80.7h0m33.8-23.5h0"/><path stroke="#10c010" d="M225.3 72.7h0m12.1-5.8h0"/><path stroke="#ff8000" d="M199.9 54.0h0"/><path stroke="#10c010" d="M228.8 39.3h0m-5.1 15h0"/><path stroke="#ff8000" d="M271.1 41.7h0m-36.2 69.9h0"/><path stroke="#10c010" d="M260.3 61.9h0"/><path stroke="#ff8000" d="M194.6 48.3h0"/><path stroke="#10c010" d="M233.4 13.1h0m4.1 44.8h0m-6.6 17.4h0m-6.9-18.5h0"/><path stroke="#ff8000" d="M245.8 110.5h0"/><path stroke="#10c010" d="M249.3 20.5h0"/><path stroke="#ff8000" d="M262.7 26.8h0"/><path stroke="#10c010" d="M250.2 72.5h0"/><path stroke="#ff8000" d="M258.8 83.7h0"/><path stroke="#10c010" d="M236.0 45.7h0m1.7 32.9h0m-6.5-19.5h0"/><path stroke="#ff8000" d="M281.6 79.2h0m-92.5-32h0m84.3 20.1h0m-76.2-19.8h0m49.5 51.6h0"/><path stroke="#10c010" d="M229.3 77.7h0"/><path stroke="#ff8000" d="M198.0 42.4h0"/><path stroke="#10c010" d="M217.4 74.6h0"/><path stroke="#ff8000" d="M186.3 54.9h0"/><path stroke="#10c010" d="M231.3 66.4h0"/><path stroke="#ff8000" d="M262.4 36.7h0m-60.9 34.6h0"/><path stroke="#10c010" d="M229.0 74.6h0m-2.5 11.3h0"/><path stroke="#ff8000" d="M256.0 38.2h0"/><path stroke="#10c010" d="M217.1 83.3h0"/><path stroke="#ff8000" d="M180.7 47.0h0m16.3 28.1h0"/><path stroke="#10c010" d="M240.5 54.1h0m8-26.8h0"/><path stroke="#ff8000" d="M190.4 62.5h0"/><path stroke="#10c010" d="M254.2 60.3h0m2.7 1.3h0m-17-26.1h0m-19.8 42.4h0"/><path stroke="#ff8000" d="M282.7 77.0h0"/><path stroke="#10c010" d="M217.8 73.1h0"/><path stroke="#ff8000" d="M240.7 115.4h0m-44.5-79.4h0"/><path stroke="#10c010" d="M232.6 14.9h0m2.5 58.3h0"/><path stroke="#ff8000" d="M279.2 38.4h0m5.9 41.9h0m-93-30.2h0"/><path stroke="#10c010" d="M220.3 63.4h0"/><path stroke="#ff8000" d="M195.3 47.3h0"/><path stroke="#10c010" d="M236.3 78.6h0m-9.3-25.7h0"/><path stroke="#ff8000" d="M262.5 31.6h0m21.9 32.9h0"/><path stroke="#10c010" d="M235.1 15.4h0"/><path stroke="#ff8000" d="M234.3 115.0h0"/><path stroke="#10c010" d="M223.4 87.1h0"/><path stroke="#ff8000" d="M259.0 84.8h0"/><path stroke="#10c010" d="M230.5 71.7h0m10.7-4.5h0m20.9 6h0"/><path stroke="#ff8000" d="M249.6 104.0h0"/><path stroke="#10c010" d="M239.7 53.7h0m-9.8 11h0"/><path stroke="#ff8000" d="M250.3 89.5h0"/><path stroke="#10c010" d="M214.9 77.0h0"/><path stroke="#ff8000" d="M181.3 38.2h0m-3 29.9h0m70 20.2h0"/><path stroke="#10c010" d="M238.7 37.0h0"/><path stroke="#ff8000" d="M231.0 106.2h0"/><path stroke="#10c010" d="M230.4 23.8h0"/><path stroke="#ff8000" d="M274.6 71.9h0m-22.7 42.6h0m-1.4-93.3h0m31.8 57.8h0"/><path stroke="#10c010" d="M244.5 67.0h0m-24.1 8.5h0"/><path stroke="#ff8000" d="M250.5 107.9h0m22.8-70.7h0"/><path stroke="#10c010" d="M233.8 60.5h0m17.8 8.2h0m-10.9-11.2h0"/><path stroke="#ff8000" d="M260.5 46.1h0m14.1-6.6h0"/><path stroke="#10c010" d="M237.4 86.6h0m-3.8-28.8h0"/><path stroke="#ff8000" d="M273.7 85.6h0m-8.9-50.8h0"/><path stroke="#10c010" d="M221.3 73.2h0m10.7-17.2h0m-6.2 17.6h0"/><path stroke="#ff8000" d="M251.7 104.2h0m-66.7-54h0m9 4h0m56.2 56.2h0"/><path stroke="#10c010" d="M232.8 57.8h0"/><path stroke="#ff8000" d="M184.2 47.3h0m92.3-.4h0m-98 26.3h0"/><path stroke="#10c010" d="M238.9 57.1h0m-27.3 24.7h0m23.1-64.3h0m-8.3 50.1h0"/><path stroke="#ff8000" d="M196.3 54.3h0m46.4 44.1h0"/><path stroke="#10c010" d="M265.1 66.5h0m-34.7-2.2h0m-.6-47.1h0"/><path stroke="#ff8000" d="M275.8 80.5h0"/><path stroke="#10c010" d="M223.3 65.6h0"/><path stroke="#ff8000" d="M249.7 102.3h0"/><path stroke="#10c010" d="M257.6 65.3h0m-8.8-23.6h0"/><path stroke="#ff8000" d="M201.5 68.2h0m-14-11.3h0"/><path stroke="#10c010" d="M258.6 52.8h0m-35.9 26.3h0m20-18.8h0"/><path stroke="#ff8000" d="M183.4 51.0h0m17.9 17.8h0m-9.6-29.8h0m77.2-7.6h0"/><path stroke="#10c010" d="M241.0 69.1h0"/><path stroke="#ff8000" d="M251.2 88.7h0m-16.6-60.4h0m-44.8 42.7h0m81.8-24.8h0"/><path stroke="#10c010" d="M259.7 56.7h0"/><path stroke="#ff8000" d="M245.8 106.3h0"/><path stroke="#10c010" d="M250.2 29.9h0"/><path stroke="#ff8000" d="M262.7 23.4h0"/><path stroke="#10c010" d="M237.7 25.7h0"/><path stroke="#ff8000" d="M249.5 13.0h0m-62.3 45h0m8.2-16.7h0"/><path stroke="#10c010" d="M226.6 44.1h0"/><path stroke="#ff8000" d="M237.1 106.9h0m21.9-62.1h0m-73.9-6h0m41.7 63.9h0m-28.8-29.6h0m31.6 28h0m5.2 16.3h0m-40.6-76.8h0"/><path stroke="#10c010" d="M229.6 69.0h0"/><path stroke="#ff8000" d="M282.8 63.9h0m-4.6-23.2h0"/><path stroke="#10c010" d="M234.0 69.6h0"/><path stroke="#ff8000" d="M242.6 107.6h0"/><path stroke="#10c010" d="M241.0 34.5h0"/><path stroke="#ff8000" d="M194.2 53.8h0m85.3 27.7h0"/><path stroke="#10c010" d="M241.1 29.2h0"/><path stroke="#ff8000" d="M234.8 27.5h0"/><path stroke="#10c010" d="M249.7 64.9h0"/><path stroke="#ff8000" d="M274.5 66.0h0m-27 44.1h0"/><path stroke="#10c010" d="M237.4 26.7h0"/><path stroke="#ff8000" d="M201.4 70.2h0"/><path stroke="#10c010" d="M228.8 28.1h0m13.3 28.5h0m-19.7-4.6h0m9.5 37.7h0"/><path stroke="#ff8000" d="M244.7 85.6h0"/><path stroke="#10c010" d="M253.0 74.1h0"/><path stroke="#ff8000" d="M253.0 20.7h0m-14.9 101.2h0m-46.5-83.2h0m49.3 60.8h0"/><path stroke="#10c010" d="M223.5 43.9h0m14.1 19h0m-10.7-34.5h0"/><path stroke="#ff8000" d="M282.1 69.4h0m-33.7-53.8h0"/><path stroke="#10c010" d="M247.2 24.7h0m-22.9 42.5h0m2.2-30.7h0"/><path stroke="#ff8000" d="M273.6 33.0h0m-34.6 81.3h0"/><path stroke="#10c010" d="M239.1 30.2h0m-6.9 28.8h0m-14.6 23h0m.5 .1h0m10.4-46h0m30.2 24.7h0"/><path stroke="#ff8000" d="M279.9 79.0h0m-80.2-39.1h0m73.7 4h0m-44.6 56.7h0"/><path stroke="#10c010" d="M225.4 87.7h0m26.5-20.9h0m3.5-2.8h0"/><path stroke="#ff8000" d="M198.0 46.1h0"/><path stroke="#10c010" d="M223.4 77.3h0"/><path stroke="#ff8000" d="M269.8 81.3h0"/><path stroke="#10c010" d="M232.4 14.9h0"/><path stroke="#ff8000" d="M258.1 87.0h0"/><path stroke="#10c010" d="M261.7 65.0h0"/><path stroke="#ff8000" d="M242.1 112.7h0m-43.6-76h0m81.9 38.2h0"/><path stroke="#10c010" d="M252.3 30.3h0"/><path stroke="#ff8000" d="M271.2 47.7h0m-54.2 39.4h0m41.2-41.1h0m-28.7 58.5h0m-26.9-31.6h0m-17.8-36.4h0"/><path stroke="#10c010" d="M237.3 60.4h0"/><path stroke="#ff8000" d="M246.7 111.3h0"/><path stroke="#10c010" d="M232.2 29.1h0m-1.5-15.8h0"/><path stroke="#ff8000" d="M264.2 29.8h0"/><path stroke="#10c010" d="M243.0 50.3h0m3.6 15.1h0m-12-22.6h0m-6.9 30h0"/><path stroke="#ff8000" d="M248.3 117.0h0m25.3-83.3h0"/><path stroke="#10c010" d="M236.0 81.1h0"/><path stroke="#ff8000" d="M275.6 41.5h0"/><path stroke="#10c010" d="M258.6 39.3h0"/><path stroke="#ff8000" d="M272.7 39.1h0m-62.4 55.2h0"/><path stroke="#10c010" d="M229.2 50.9h0"/><path stroke="#ff8000" d="M253.3 19.1h0"/><path stroke="#10c010" d="M253.8 68.8h0"/><path stroke="#ff8000" d="M235.9 118.6h0"/><path stroke="#10c010" d="M243.4 49.7h0"/><path stroke="#ff8000" d="M185.0 58.8h0m82.7-25.9h0m-5.6 10.7h0"/><path stroke="#10c010" d="M224.8 49.0h0m-8.6 24.9h0m31.3-30h0m-20.8 21.4h0"/><path stroke="#ff8000" d="M181.7 69.2h0"/><path stroke="#10c010" d="M251.4 76.3h0m-10.3-49.7h0"/><path stroke="#ff8000" d="M252.0 116.5h0"/><path stroke="#10c010" d="M233.6 49.1h0"/><path stroke="#ff8000" d="M177.2 64.0h0m50.8 49.1h0m-48.1-47.2h0"/><path stroke="#10c010" d="M228.4 56.9h0"/><path stroke="#ff8000" d="M232.2 119.3h0"/><path stroke="#10c010" d="M257.6 74.0h0m-31.8-38.5h0m-3.7 40.9h0m33-5h0"/><path stroke="#ff8000" d="M250.6 23.0h0"/><path stroke="#10c010" d="M226.6 88.9h0"/><path stroke="#ff8000" d="M174.7 54.3h0m104.5 15.3h0m-11.9-33.6h0"/><path stroke="#10c010" d="M263.9 64.7h0m-40.9-3.8h0"/><path stroke="#ff8000" d="M250.0 105.7h0m-7-6.7h0m-40.4-31.6h0m53.9-31.3h0"/><path stroke="#10c010" d="M220.7 75.2h0m26.1-46.2h0"/><path stroke="#ff8000" d="M241.9 99.4h0m-37.7-36.4h0m-9.3-17.1h0m-17.3 .5h0"/><path stroke="#10c010" d="M211.7 84.7h0"/><path stroke="#ff8000" d="M268.0 31.0h0"/><path stroke="#10c010" d="M217.5 73.4h0"/><path stroke="#ff8000" d="M185.0 50.4h0"/><path stroke="#10c010" d="M220.8 74.4h0m22.8-46.5h0"/><path stroke="#ff8000" d="M224.1 108.0h0"/><path stroke="#10c010" d="M226.0 82.1h0m1.5-1.3h0m11.6-45.4h0m-5.8-7.6h0m-4 19.5h0"/><path stroke="#ff8000" d="M245.8 108.4h0"/><path stroke="#10c010" d="M230.8 64.9h0m-9.5 12.2h0m10.3 14.2h0"/><path stroke="#ff8000" d="M267.2 30.6h0"/><path stroke="#10c010" d="M212.8 78.9h0m19.3 3.8h0"/><path stroke="#ff8000" d="M279.0 43.3h0m-51.3 57.1h0m-41-32.5h0m16.2-28.1h0m69.8-4.3h0"/><path stroke="#10c010" d="M223.3 44.2h0"/><path stroke="#ff8000" d="M219.5 50.7h0m38-8.4h0"/><path stroke="#10c010" d="M238.2 63.7h0"/><path stroke="#ff8000" d="M279.1 64.8h0"/><path stroke="#10c010" d="M262.1 57.0h0"/><path stroke="#ff8000" d="M244.8 96.7h0m-49.5-38.1h0m49.1 51.3h0"/><path stroke="#10c010" d="M230.3 79.4h0m13.6-7.9h0"/><path stroke="#ff8000" d="M252.0 111.3h0"/><path stroke="#10c010" d="M236.6 23.1h0"/><path stroke="#ff8000" d="M240.2 121.4h0m31.3-73.6h0"/><path stroke="#10c010" d="M237.8 67.2h0"/><path stroke="#ff8000" d="M285.7 68.1h0m-21.1-35h0m-80.6 24.7h0"/><path stroke="#10c010" d="M241.3 22.4h0"/><path stroke="#ff8000" d="M181.3 37.3h0m14.5 10.5h0m66.4 34.5h0"/><path stroke="#10c010" d="M246.2 49.4h0"/><path stroke="#ff8000" d="M175.3 43.7h0m74.9 42.7h0m-21.9 19.8h0m-38.3-40.7h0m2.4 6.5h0m35.2 45.8h0"/><path stroke="#10c010" d="M220.9 83.2h0"/><path stroke="#ff8000" d="M201.6 39.7h0m43.2 44.2h0"/><path stroke="#10c010" d="M227.8 54.2h0m12.3 18h0"/><path stroke="#ff8000" d="M211.9 92.0h0m27.6 19.3h0m42.8-33.2h0m-43.5 25.7h0"/><path stroke="#10c010" d="M244.0 47.1h0m-11.3 17.4h0"/><path stroke="#ff8000" d="M194.4 43.6h0"/><path stroke="#10c010" d="M262.0 64.7h0"/><path stroke="#ff8000" d="M230.3 118.5h0"/><path stroke="#10c010" d="M217.8 75.2h0"/><path stroke="#ff8000" d="M247.8 85.8h0m32.1-21.6h0m-102.6-6.7h0m14.1-2.7h0m42.8 51.3h0m49.5-34.4h0"/><path stroke="#10c010" d="M228.6 83.1h0m-.8-12.3h0m3.8-6.3h0m28.7 14.1h0"/><path stroke="#ff8000" d="M193.0 42.6h0m57.2-22h0"/><path stroke="#10c010" d="M259.7 71.7h0"/><path stroke="#ff8000" d="M234.6 109.9h0"/><path stroke="#10c010" d="M226.7 57.3h0m-2.5 16.6h0m13.1-14.7h0m-10.5-7.6h0m27.8 13.2h0"/><path stroke="#ff8000" d="M237.5 114.2h0m38.7-45.6h0"/><path stroke="#10c010" d="M238.3 80.2h0m-24.1 6.2h0"/><path stroke="#ff8000" d="M257.2 32.7h0m8.4 71.1h0"/><path stroke="#10c010" d="M263.4 64.4h0"/><path stroke="#ff8000" d="M286.8 73.5h0"/><path stroke="#10c010" d="M225.7 28.4h0m8.5 11.9h0"/><path stroke="#ff8000" d="M251.7 110.3h0m24.1-33.7h0"/><path stroke="#10c010" d="M231.0 36.8h0m17 13.1h0"/><path stroke="#ff8000" d="M276.9 72.1h0m-34.9-50.8h0"/><path stroke="#10c010" d="M242.2 29.2h0m-10.6-1.5h0m-1.6 18.1h0m1.8-28.6h0m-2.5 8.8h0m20.5 34.1h0m-11.3 8.7h0"/><path stroke="#ff8000" d="M192.6 46.3h0"/><path stroke="#10c010" d="M263.0 59.5h0m-37.8-13.5h0"/><path stroke="#ff8000" d="M190.2 33.4h0m-5.1 3.2h0m43.4 79.6h0"/><path stroke="#10c010" d="M240.3 24.1h0"/><path stroke="#ff8000" d="M191.3 39.7h0"/><path stroke="#10c010" d="M226.6 39.5h0m1.7 37.1h0m25.7-21.7h0"/><path stroke="#ff8000" d="M265.1 34.7h0"/><path stroke="#10c010" d="M263.4 60.2h0"/><path stroke="#ff8000" d="M262.3 44.8h0m-33.5 73.5h0m-29.3-67.7h0"/><path stroke="#10c010" d="M229.7 25.3h0"/><path stroke="#ff8000" d="M175.2 59.5h0"/><path stroke="#10c010" d="M224.5 66.3h0m12.6-34h0"/><path stroke="#ff8000" d="M193.2 71.7h0m70.3 31.5h0"/><path stroke="#10c010" d="M231.4 86.2h0"/><path stroke="#ff8000" d="M251.6 14.6h0m22.8 62.1h0"/><path stroke="#10c010" d="M223.9 78.9h0"/><path stroke="#ff8000" d="M233.0 98.7h0m39.6-53.8h0m-4.6 6.2h0"/><path stroke="#10c010" d="M245.3 68.6h0m5.2-3.6h0"/><path stroke="#ff8000" d="M191.4 83.5h0m48.2 25.9h0m-.2 3.7h0m29-77.7h0m-71.7 42.5h0"/><path stroke="#10c010" d="M224.0 88.1h0m22.3-20.3h0"/><path stroke="#ff8000" d="M279.4 62.1h0m-19.9 22.4h0m-78.7-39h0m53.9 60.5h0m39.1-24.2h0m-33.1 31.6h0m40.7-49.1h0"/><path stroke="#10c010" d="M246.5 27.0h0"/><path stroke="#ff8000" d="M270.2 36.2h0m9 6.7h0"/><path stroke="#10c010" d="M227.0 42.6h0m29.9 10.3h0m-18.6 27.3h0"/><path stroke="#ff8000" d="M201.7 40.3h0m29.4 80.7h0"/><path stroke="#10c010" d="M241.6 72.2h0"/><path stroke="#ff8000" d="M234.2 112.3h0m-42.8-50.3h0"/><path stroke="#10c010" d="M225.3 40.7h0m22.1 25.5h0"/><path stroke="#ff8000" d="M177.9 51.8h0m11.1 0h0m60.7 33.8h0"/><path stroke="#10c010" d="M234.2 33.7h0"/><path stroke="#ff8000" d="M285.3 69.6h0m-85.5-4.4h0m-6.2-21.8h0m57.8 45.8h0"/><path stroke="#10c010" d="M236.0 43.5h0"/><path stroke="#ff8000" d="M187.6 65.9h0m65.9 42.1h0"/><path stroke="#10c010" d="M224.5 66.3h0"/><path stroke="#ff8000" d="M269.5 49.3h0"/><path stroke="#10c010" d="M212.5 82.9h0"/><path stroke="#ff8000" d="M236.5 117.0h0"/><path stroke="#10c010" d="M220.9 73.0h0"/><path stroke="#ff8000" d="M249.9 90.6h0"/><path stroke="#10c010" d="M231.7 82.1h0m26-5.1h0m-12.8-29.4h0"/><path stroke="#ff8000" d="M210.1 93.6h0m-13.6-20.2h0"/><path stroke="#10c010" d="M262.9 56.1h0m-33.9-2.8h0"/><path stroke="#ff8000" d="M236.2 111.3h0"/><path stroke="#10c010" d="M224.4 90.6h0"/><path stroke="#ff8000" d="M177.2 47.7h0m100 35.3h0m-5.2-42.2h0m-89.7 9.1h0"/><path stroke="#10c010" d="M260.3 65.0h0m-31.7-14h0"/><path stroke="#ff8000" d="M273.7 82.5h0"/><path stroke="#10c010" d="M249.7 71.8h0m-35.8 10.6h0m28.5-28.3h0"/><path stroke="#ff8000" d="M175.9 45.3h0m76.5 40.1h0m-70.4-32.5h0m60.6 52.5h0m-51.1-28.7h0"/><path stroke="#10c010" d="M259.2 55.1h0"/><path stroke="#ff8000" d="M190.0 54.2h0"/><path stroke="#10c010" d="M247.9 19.8h0"/><path stroke="#ff8000" d="M279.9 62.6h0m-20.5 23.3h0m-59.7-16.5h0"/><path stroke="#10c010" d="M247.7 18.9h0m-10 25.8h0"/><path stroke="#ff8000" d="M264.6 39.1h0m-28.6 64.9h0"/><path stroke="#10c010" d="M246.8 69.6h0m-6 2.5h0"/><path stroke="#ff8000" d="M245.5 122.4h0"/><path stroke="#10c010" d="M253.4 56.5h0m-31.5 13.4h0m-8.4 8.6h0"/><path stroke="#ff8000" d="M244.8 109.1h0m-14 9.9h0m.9-.5h0m43.1-46.4h0"/><path stroke="#10c010" d="M226.1 35.0h0"/><path stroke="#ff8000" d="M259.6 87.5h0m-73.7-25.9h0"/><path stroke="#10c010" d="M231.1 31.8h0"/><path stroke="#ff8000" d="M251.4 14.0h0m-3.9 106h0"/><path stroke="#10c010" d="M238.1 84.7h0m-3.2-56.2h0m-2.4 45.5h0"/><path stroke="#ff8000" d="M280.8 63.6h0"/><path stroke="#10c010" d="M252.1 61.9h0m-25.8 13.6h0m7.3-13.3h0m-7.7 20.7h0m-6.4 1.7h0m10.3-39.2h0"/><path stroke="#ff8000" d="M231.4 103.3h0m2.6 10.3h0m22-73.3h0m-73.5 23.1h0"/><path stroke="#10c010" d="M227.0 82.5h0m2.1-36.9h0"/><path stroke="#ff8000" d="M259.1 83.3h0"/><path stroke="#10c010" d="M238.9 43.9h0m23 20.8h0m-.7-7.2h0"/><path stroke="#ff8000" d="M188.2 83.6h0m-9-12.3h0m83.5-48.4h0"/><path stroke="#10c010" d="M217.5 75.0h0"/><path stroke="#ff8000" d="M275.3 82.3h0m-14.6-44.7h0m-79 8.7h0"/><path stroke="#10c010" d="M255.0 56.7h0"/><path stroke="#ff8000" d="M187.6 68.1h0"/><path stroke="#10c010" d="M235.4 88.3h0m-18.1-15h0"/><path stroke="#ff8000" d="M240.3 107.5h0"/><path stroke="#10c010" d="M226.9 73.4h0"/><path stroke="#ff8000" d="M211.6 94.0h0"/><path stroke="#10c010" d="M222.5 57.1h0m17.1-19.1h0"/><path stroke="#ff8000" d="M212.1 96.2h0"/><path stroke="#10c010" d="M236.6 54.7h0"/><path stroke="#ff8000" d="M254.1 39.1h0m-42.1 52.1h0m16.8 18.1h0"/><path stroke="#10c010" d="M245.7 34.9h0"/><path stroke="#ff8000" d="M230.3 112.7h0"/><path stroke="#10c010" d="M243.4 33.5h0m-10.8 22.4h0m-4.8-19.7h0"/><path stroke="#ff8000" d="M191.1 62.3h0"/><path stroke="#10c010" d="M233.4 35.1h0"/><path stroke="#ff8000" d="M276.3 43.4h0m-.1 41.8h0m-36.5 29.3h0"/><path stroke="#10c010" d="M259.3 57.3h0"/><path stroke="#ff8000" d="M227.9 101.5h0"/><path stroke="#10c010" d="M222.1 65.2h0m-8.3 9.4h0"/><path stroke="#ff8000" d="M180.9 74.0h0m94.9-22.8h0m-24.6 64.8h0"/><path stroke="#10c010" d="M231.0 39.5h0m5.8 23.7h0m-4.4 17.8h0"/><path stroke="#ff8000" d="M270.7 47.8h0m-13.5-15.5h0"/><path stroke="#10c010" d="M251.8 62.1h0m-24.2-.3h0"/><path stroke="#ff8000" d="M285.0 63.8h0m-82.4 9.7h0m-15.9-31.3h0m65.8 44.1h0m10.9-43.6h0m13.5 34.9h0m-96.4-10.9h0"/><path stroke="#10c010" d="M222.6 66.6h0"/><path stroke="#ff8000" d="M286.5 70.7h0m-15.8-35.3h0"/><path stroke="#10c010" d="M212.6 80.6h0m17.2-3.2h0"/><path stroke="#ff8000" d="M266.5 45.5h0m-83.1-6.1h0"/><path stroke="#10c010" d="M221.1 55.6h0"/><path stroke="#ff8000" d="M193.2 41.1h0m56.7 69.9h0"/><path stroke="#10c010" d="M257.4 69.2h0"/><path stroke="#ff8000" d="M263.4 26.7h0"/><path stroke="#10c010" d="M241.9 49.7h0m-12-35.3h0m.7 52.7h0"/><path stroke="#ff8000" d="M201.8 60.0h0"/><path stroke="#10c010" d="M238.1 50.3h0"/><path stroke="#ff8000" d="M266.3 35.9h0"/><path stroke="#10c010" d="M229.3 68.5h0m25.8-10.8h0m3.8 19.1h0m0-12.8h0"/><path stroke="#ff8000" d="M258.4 37.4h0"/><path stroke="#10c010" d="M251.7 67.2h0"/><path stroke="#ff8000" d="M183.9 75.6h0"/><path stroke="#10c010" d="M217.5 80.0h0m42.2-26.9h0"/><path stroke="#ff8000" d="M174.6 47.7h0"/><path stroke="#10c010" d="M226.0 51.8h0m3.9 3.2h0m-5.1-17.1h0"/><path stroke="#ff8000" d="M271.8 34.9h0m4.9 4.5h0m-92.6 32.9h0m58.6 34.1h0m-5.8-7.8h0"/><path stroke="#10c010" d="M257.1 74.1h0"/><path stroke="#ff8000" d="M283.9 81.1h0m-56.1 21h0m26.7-17.5h0m4.3-.3h0m22.4 .5h0m-6-9.7h0m-20.6 6.8h0"/><path stroke="#10c010" d="M242.0 41.0h0"/><path stroke="#ff8000" d="M275.2 38.0h0"/><path stroke="#10c010" d="M229.2 88.5h0"/><path stroke="#ff8000" d="M193.1 59.4h0m52.7 27.5h0"/><path stroke="#10c010" d="M260.0 55.0h0"/><path stroke="#ff8000" d="M281.4 72.3h0m-22.4-42.7h0"/><path stroke="#10c010" d="M217.8 81.2h0m12.3-34.9h0"/><path stroke="#ff8000" d="M185.6 40.9h0m88.4 26.4h0"/><path stroke="#10c010" d="M247.0 34.7h0m-8.4 20.6h0m-5 18.5h0m-2-47.8h0"/><path stroke="#ff8000" d="M183.7 47.3h0m90.3 30.4h0"/><path stroke="#10c010" d="M219.4 87.5h0"/><path stroke="#ff8000" d="M225.9 108.0h0m-41.2-66.3h0"/><path stroke="#10c010" d="M260.1 74.7h0m-39.3-16.6h0"/><path stroke="#ff8000" d="M174.9 42.9h0m23.5 32.2h0"/><path stroke="#10c010" d="M228.2 82.6h0"/><path stroke="#ff8000" d="M279.7 63.2h0m-89.2 6.4h0m-10.8 4.1h0"/><path stroke="#10c010" d="M256.3 62.6h0"/><path stroke="#ff8000" d="M229.3 114.8h0"/><path stroke="#10c010" d="M231.8 16.9h0"/><path stroke="#ff8000" d="M271.4 40.9h0"/><path stroke="#10c010" d="M232.0 53.3h0m10.9 8.2h0m-14.8-8.7h0m-3.4 23.3h0"/><path stroke="#ff8000" d="M198.3 74.4h0"/><path stroke="#10c010" d="M231.7 59.6h0m-9.4-6.4h0"/><path stroke="#ff8000" d="M262.9 103.8h0"/><path stroke="#10c010" d="M234.1 89.0h0m-1.7-19.5h0"/><path stroke="#ff8000" d="M200.4 51.9h0"/><path stroke="#10c010" d="M239.4 28.2h0"/><path stroke="#ff8000" d="M229.5 102.1h0m-31.4-40.2h0m82.8 24.3h0"/><path stroke="#10c010" d="M238.8 22.1h0m-11.6 55.8h0m3.4 2.2h0m-12.7-2.2h0"/><path stroke="#ff8000" d="M282.3 69.6h0m-103.8-29.7h0m85.9 .3h0"/><path stroke="#10c010" d="M241.6 69.3h0"/><path stroke="#ff8000" d="M192.6 75.0h0"/><path stroke="#10c010" d="M233.1 63.2h0"/><path stroke="#ff8000" d="M273.4 35.5h0"/><path stroke="#10c010" d="M219.8 73.7h0"/><path stroke="#ff8000" d="M270.2 42.5h0"/><path stroke="#10c010" d="M238.4 53.1h0"/><path stroke="#ff8000" d="M235.4 106.5h0m25.8-64.9h0"/><path stroke="#10c010" d="M246.8 38.3h0"/><path stroke="#ff8000" d="M243.8 106.9h0m-6.5 7.5h0m44-47.4h0m-93.9-31h0m16.3 4h0m65.1 10h0"/><path stroke="#10c010" d="M234.9 79.9h0"/><path stroke="#ff8000" d="M196.5 62.4h0m-18.3 8.8h0"/><path stroke="#10c010" d="M246.3 41.0h0m-3.9 9h0m-25.6 35.3h0m27.8-48.8h0m-19.3 51.8h0"/><path stroke="#ff8000" d="M256.2 84.0h0m-79.2-15.2h0"/><path stroke="#10c010" d="M256.8 58.2h0"/><path stroke="#ff8000" d="M182.1 48.1h0"/><path stroke="#10c010" d="M240.5 63.8h0m2.7-18.6h0"/><path stroke="#ff8000" d="M237.0 118.4h0m-35.2-78.3h0"/><path stroke="#10c010" d="M226.0 60.4h0"/><path stroke="#ff8000" d="M193.9 62.1h0"/><path stroke="#10c010" d="M212.5 79.9h0"/><path stroke="#ff8000" d="M277.9 65.2h0"/><path stroke="#10c010" d="M233.7 23.2h0m-3.7 55.8h0"/><path stroke="#ff8000" d="M177.9 66.6h0"/><path stroke="#10c010" d="M235.2 78.7h0"/><path stroke="#ff8000" d="M188.4 56.0h0m87.2 26.5h0"/><path stroke="#10c010" d="M258.5 57.3h0"/><path stroke="#ff8000" d="M284.8 73.2h0m-11.3-39.1h0m-86.3 10.5h0"/><path stroke="#10c010" d="M228.9 82.3h0m1.3-36.3h0m-8.2 37.2h0m2.9-6.1h0m8.9-15.1h0m24.8 13.3h0"/><path stroke="#ff8000" d="M274.4 46.1h0m-34.4 57.5h0m33.9-60.1h0m-39.7 66.9h0m48.2-32.9h0m-34.6 6.2h0"/><path stroke="#10c010" d="M234.5 54.6h0"/><path stroke="#ff8000" d="M231.0 112.7h0"/><path stroke="#10c010" d="M221.9 76.1h0"/><path stroke="#ff8000" d="M247.3 110.2h0"/><path stroke="#10c010" d="M238.2 33.2h0"/><path stroke="#ff8000" d="M251.0 13.5h0"/><path stroke="#10c010" d="M259.2 76.2h0"/><path stroke="#ff8000" d="M281.6 87.1h0"/><path stroke="#10c010" d="M217.4 74.2h0"/><path stroke="#ff8000" d="M180.3 60.5h0m93.1 12.2h0"/><path stroke="#10c010" d="M229.2 55.1h0m15.6-27.4h0m-30.5 52.8h0"/><path stroke="#ff8000" d="M186.9 36.9h0"/><path stroke="#10c010" d="M240.1 53.9h0m-2 9.6h0m18.3-.9h0m-36.5 4.2h0"/><path stroke="#ff8000" d="M177.7 69.3h0m4.7-8.4h0"/><path stroke="#10c010" d="M230.9 55.1h0m1.3 12.5h0"/><path stroke="#ff8000" d="M266.9 28.9h0m-31.8 87.5h0"/><path stroke="#10c010" d="M231.9 62.9h0"/><path stroke="#ff8000" d="M248.5 105.4h0"/><path stroke="#10c010" d="M247.6 38.5h0m-30.1 47.5h0"/><path stroke="#ff8000" d="M189.5 65.7h0"/><path stroke="#10c010" d="M237.1 67.5h0"/><path stroke="#ff8000" d="M266.8 26.6h0"/><path stroke="#10c010" d="M247.1 69.8h0"/><path stroke="#ff8000" d="M190.5 44.7h0"/><path stroke="#10c010" d="M214.0 73.3h0"/><path stroke="#ff8000" d="M255.2 28.9h0"/><path stroke="#10c010" d="M262.8 57.9h0m-22.6-14.4h0m15.5 18.6h0"/><path stroke="#ff8000" d="M243.2 108.7h0"/><path stroke="#10c010" d="M238.7 69.3h0m16.2-6.7h0m-5.9 1.5h0"/><path stroke="#ff8000" d="M177.3 43.1h0"/><path stroke="#10c010" d="M237.6 75.7h0m10.3-34.2h0m-13.3 43.1h0"/><path stroke="#ff8000" d="M191.0 74.8h0m48.3 35.9h0m-28.7-19.9h0"/><path stroke="#10c010" d="M258.0 55.8h0"/><path stroke="#ff8000" d="M234.1 101.6h0m3.4 3.7h0m-39.9-15h0"/><path stroke="#10c010" d="M225.0 44.8h0m10.7 40h0"/><path stroke="#ff8000" d="M279.4 80.3h0m-40.3 28.2h0m31.6-74.4h0"/><path stroke="#10c010" d="M235.0 46.6h0"/><path stroke="#ff8000" d="M200.9 55.7h0m47.3-37.5h0m-61.1 42.8h0m81.1-29.9h0m-7.2 7.7h0"/><path stroke="#10c010" d="M254.2 69.9h0"/><path stroke="#ff8000" d="M210.9 91.3h0m-14.9-23.6h0m-11.4 3h0m19.6-1.5h0m32.8 42.4h0"/><path stroke="#10c010" d="M241.0 59.5h0"/><path stroke="#ff8000" d="M276.6 63.7h0m-81.7-15.4h0m48.3 51h0m-66.1-55.3h0m11.1 30.1h0"/><path stroke="#10c010" d="M241.7 70.6h0m-7.5-17.3h0"/><path stroke="#ff8000" d="M184.4 72.4h0m10.9-28.6h0"/><path stroke="#10c010" d="M229.2 63.4h0"/><path stroke="#ff8000" d="M174.7 43.2h0m74.8-22.4h0"/><path stroke="#10c010" d="M229.5 71.0h0m3.9-29.9h0m-5.7 46.8h0m-11.1-4.1h0"/><path stroke="#ff8000" d="M190.3 40.9h0m20.2 50.7h0m33.4 18.8h0"/><path stroke="#10c010" d="M257.1 75.4h0m-28-28.1h0m22.7 8.5h0m-32.6 10.4h0"/><path stroke="#ff8000" d="M223.5 110.0h0m-34.6-67.3h0"/><path stroke="#10c010" d="M211.5 81.7h0"/><path stroke="#ff8000" d="M184.5 54.3h0m1.2-9.3h0"/><path stroke="#10c010" d="M235.6 64.6h0m-10.4 5.5h0m5.7-25.5h0m-4.9 39.5h0m35.5-18.9h0m-34-4.8h0m28.6-4.9h0"/><path stroke="#ff8000" d="M191.9 55.9h0"/><path stroke="#10c010" d="M255.3 57.3h0"/><path stroke="#ff8000" d="M262.3 39.3h0m11 47h0m-9-55.1h0m2.9 13.1h0m6.9 31.1h0m-4.9-25.6h0m-76.2-3.6h0"/><path stroke="#10c010" d="M233.1 17.3h0m-20.5 62.4h0"/><path stroke="#ff8000" d="M200.6 63.0h0m46.4 21.8h0"/><path stroke="#10c010" d="M234.0 74.9h0m-1.9-35.9h0m26.9 24.4h0"/><path stroke="#ff8000" d="M251.7 84.1h0m-16.4 18.2h0"/><path stroke="#10c010" d="M250.2 35.9h0m-27 3.5h0"/><path stroke="#ff8000" d="M183.4 51.4h0m-5.5 6.2h0m83.2-10.6h0m-32.9 54.7h0"/><path stroke="#10c010" d="M245.1 37.4h0m-26.8 41.8h0m10.9-27.9h0"/><path stroke="#ff8000" d="M226.7 102.5h0"/><path stroke="#10c010" d="M233.1 36.3h0m-15.1 37.6h0"/><path stroke="#ff8000" d="M230.2 107.6h0m44-35h0m-92.5-23.1h0"/><path stroke="#10c010" d="M234.1 58.6h0m.9-8h0m1.2-4h0m23.3 16.6h0"/><path stroke="#ff8000" d="M283.0 72.0h0m-16.5-39.7h0"/><path stroke="#10c010" d="M242.1 71.8h0m4.5-39.5h0"/><path stroke="#ff8000" d="M254.3 35.4h0"/><path stroke="#10c010" d="M230.6 37.0h0"/><path stroke="#ff8000" d="M188.4 82.5h0"/><path stroke="#10c010" d="M221.5 71.4h0m.8-.6h0"/><path stroke="#ff8000" d="M226.9 115.3h0m5.7-12.6h0"/><path stroke="#10c010" d="M238.1 52.8h0"/><path stroke="#ff8000" d="M198.2 47.4h0m30.3 65.7h0"/><path stroke="#10c010" d="M217.2 87.4h0"/><path stroke="#ff8000" d="M187.6 61.8h0m53.3 40.2h0"/><path stroke="#10c010" d="M237.3 40.7h0m-9.9 28.2h0"/><path stroke="#ff8000" d="M251.5 118.8h0"/><path stroke="#10c010" d="M227.8 67.9h0m-4.2 1.9h0"/><path stroke="#ff8000" d="M249.1 104.7h0m-62.5-34.2h0m49.4 33.9h0m40.3-61.9h0"/><path stroke="#10c010" d="M250.2 36.9h0m-10.2 32.7h0m-12.7-14.9h0"/><path stroke="#ff8000" d="M199.3 45.0h0m64.5-12h0"/><path stroke="#10c010" d="M226.7 77.8h0"/><path stroke="#ff8000" d="M194.4 75.9h0"/><path stroke="#10c010" d="M223.7 60.4h0"/><path stroke="#ff8000" d="M276.3 42.8h0m-71.7 16.9h0"/><path stroke="#10c010" d="M226.2 88.6h0"/><path stroke="#ff8000" d="M178.5 56.2h0m11.6 21.4h0m83.7-47h0"/><path stroke="#10c010" d="M227.7 40.4h0m15 .2h0"/><path stroke="#ff8000" d="M251.5 17.0h0"/><path stroke="#10c010" d="M226.5 81.5h0m25.5-19.1h0"/><path stroke="#ff8000" d="M248.5 87.6h0m3.6-66.5h0m-63.9 26.8h0m95.4 33.4h0"/><path stroke="#10c010" d="M234.1 81.0h0m1.6-10.7h0"/><path stroke="#ff8000" d="M190.7 32.9h0m80.7 9.5h0m-44.7 67.7h0m26.4-91h0m29 47.7h0"/><path stroke="#10c010" d="M228.8 28.5h0m29.9 27.2h0"/><path stroke="#ff8000" d="M235.6 113.2h0"/><path stroke="#10c010" d="M227.1 38.4h0m-7.5 32h0m-4.7 14.4h0"/><path stroke="#ff8000" d="M273.3 44.9h0"/><path stroke="#10c010" d="M210.4 72.6h0m42.6-4h0"/><path stroke="#ff8000" d="M193.0 58.0h0"/><path stroke="#10c010" d="M231.3 56.2h0m12-5.4h0"/><path stroke="#ff8000" d="M210.9 93.3h0m-33.5-39.8h0"/><path stroke="#10c010" d="M227.4 53.8h0m-5.9 12h0"/><path stroke="#ff8000" d="M283.0 77.6h0m-26.3-48.5h0"/><path stroke="#10c010" d="M229.5 30.0h0m29.7 37.6h0m-31.1-14h0"/><path stroke="#ff8000" d="M229.4 112.0h0m-50.5-38.9h0m99.8 10.8h0m-13.3 16.6h0m-19.9 11.4h0m-58.9-74.7h0"/><path stroke="#10c010" d="M241.9 70.1h0m16.8-14.9h0"/><path stroke="#ff8000" d="M259.7 83.1h0m-26.6 25.7h0m.4 5.3h0"/><path stroke="#10c010" d="M234.5 82.5h0"/><path stroke="#ff8000" d="M269.2 48.0h0m-79.5 21h0m15-12.4h0m66.8 22.9h0"/><path stroke="#10c010" d="M244.0 32.4h0"/><path stroke="#ff8000" d="M257.0 43.8h0"/><path stroke="#10c010" d="M221.0 72.3h0"/><path stroke="#ff8000" d="M273.9 76.4h0"/><path stroke="#10c010" d="M235.6 69.0h0m21.3-3.3h0m2.7-10.9h0"/><path stroke="#ff8000" d="M194.8 62.8h0m60.3-39.6h0"/><path stroke="#10c010" d="M230.0 51.3h0"/><path stroke="#ff8000" d="M194.8 72.1h0m35.8 38h0m2.9 1.8h0"/><path stroke="#10c010" d="M241.4 72.1h0"/><path stroke="#ff8000" d="M189.4 37.7h0"/><path stroke="#10c010" d="M236.2 47.1h0m1 22.5h0"/><path stroke="#ff8000" d="M249.9 89.8h0m-51.6-50h0m58.4 3h0"/><path stroke="#10c010" d="M255.1 55.0h0"/><path stroke="#ff8000" d="M199.3 61.4h0"/><path stroke="#10c010" d="M225.2 66.8h0m-5.9 5.3h0m8-12.2h0m7.5-19.5h0m8 13.1h0"/><path stroke="#ff8000" d="M180.6 46.7h0"/><path stroke="#10c010" d="M231.2 74.0h0"/><path stroke="#ff8000" d="M234.4 104.3h0m-44.1-52.1h0m89.3 34.2h0m-78.7-15.8h0m55.1-38.1h0"/><path stroke="#10c010" d="M220.1 82.8h0"/><path stroke="#ff8000" d="M225.5 106.8h0"/><path stroke="#10c010" d="M230.0 78.2h0"/><path stroke="#ff8000" d="M205.6 49.2h0m-9.7-11.5h0"/><path stroke="#10c010" d="M234.7 55.0h0m-1.8-3.3h0m6.5-25.1h0m.7 18.7h0"/><path stroke="#ff8000" d="M273.6 44.7h0m-18.2 36.9h0m23.1-17.7h0m-95.2-7.1h0"/><path stroke="#10c010" d="M233.7 82.0h0"/><path stroke="#ff8000" d="M262.3 84.3h0"/><path stroke="#10c010" d="M244.1 26.2h0m-12.2-12.4h0m-4.8 10.8h0"/><path stroke="#ff8000" d="M176.5 58.0h0"/><path stroke="#10c010" d="M229.2 62.9h0m-12.9 21h0"/><path stroke="#ff8000" d="M189.1 45.5h0m-2.1 29.8h0m59.1 29.6h0m-54.5-59.2h0m-16.5 16.3h0"/><path stroke="#10c010" d="M213.6 80.0h0"/><path stroke="#ff8000" d="M193.8 51.2h0m71.5-23h0"/><path stroke="#10c010" d="M219.9 76.2h0m38.8-17.8h0m-33.3-11.6h0"/><path stroke="#ff8000" d="M212.2 96.5h0"/><path stroke="#10c010" d="M255.9 67.3h0m5.8 6.6h0"/><path stroke="#ff8000" d="M185.9 58.9h0m96.5 8h0m-53.7 35.9h0m-46.6-50.8h0m52.2 56.9h0"/><path stroke="#10c010" d="M218.8 85.7h0"/><path stroke="#ff8000" d="M227.3 109.2h0m-31.4-67.8h0m39.9 67.1h0m-45-66.8h0m42.7 67.6h0m9 3.4h0"/><path stroke="#10c010" d="M231.1 62.0h0"/><path stroke="#ff8000" d="M265.1 46.3h0"/><path stroke="#10c010" d="M236.0 29.3h0m-14.4 44.6h0"/><path stroke="#ff8000" d="M264.0 43.6h0m-54.5 50.6h0"/><path stroke="#10c010" d="M224.2 82.0h0"/><path stroke="#ff8000" d="M236.8 113.1h0"/><path stroke="#10c010" d="M230.5 18.7h0"/><path stroke="#ff8000" d="M236.8 101.5h0m4-79.9h0"/><path stroke="#10c010" d="M231.5 81.3h0"/><path stroke="#ff8000" d="M272.0 86.8h0m-2.3-49h0"/><path stroke="#10c010" d="M226.3 56.4h0m24.2 16.5h0"/><path stroke="#ff8000" d="M181.2 56.7h0"/><path stroke="#10c010" d="M222.8 86.0h0m-11.1-12.8h0"/><path stroke="#ff8000" d="M231.8 115.8h0"/><path stroke="#10c010" d="M236.7 27.9h0"/><path stroke="#ff8000" d="M233.2 114.9h0m25.6-80.7h0"/><path stroke="#10c010" d="M233.8 77.6h0m2.1-17.1h0m24.5 .9h0"/><path stroke="#ff8000" d="M224.1 107.2h0"/><path stroke="#10c010" d="M232.0 19.7h0m-2.3 26.2h0m12-12.3h0m7-2.5h0m-15.1-6.7h0m-9.8 34h0"/><path stroke="#ff8000" d="M196.7 50.7h0m78.5-16.9h0m-3.9-3h0m-78.5 17.1h0"/><path stroke="#10c010" d="M260.8 67.1h0"/><path stroke="#ff8000" d="M266.7 49.6h0m-33.2 65.6h0"/><path stroke="#10c010" d="M238.2 29.9h0m.2 4.3h0"/><path stroke="#ff8000" d="M262.2 40.8h0m-67.1 17.2h0m44.2 43.4h0"/><path stroke="#10c010" d="M254.5 57.4h0m-28.2 27.3h0m5.4-38.8h0m-1.3 20.2h0m-3.1 4.7h0"/><path stroke="#ff8000" d="M198.1 77.9h0m64.9-33.1h0m-3.7 33.7h0m-62.7 10.3h0m-13.8-49h0"/><path stroke="#10c010" d="M238.0 79.7h0m-19.2 4.4h0"/><path stroke="#ff8000" d="M177.0 55.4h0"/><path stroke="#10c010" d="M232.3 77.1h0"/><path stroke="#ff8000" d="M228.3 115.9h0m31.7-32.6h0m-4.1 2.4h0m20.5-4.7h0m-28.8 8.9h0"/><path stroke="#10c010" d="M234.8 28.3h0"/><path stroke="#ff8000" d="M268.0 44.9h0"/><path stroke="#10c010" d="M253.5 70.4h0m-21.8-19.8h0"/><path stroke="#ff8000" d="M270.2 30.6h0"/><path stroke="#10c010" d="M239.9 47.3h0m1.6 5.2h0"/><path stroke="#ff8000" d="M273.8 71.0h0"/><path stroke="#10c010" d="M214.3 83.7h0m19.5-31.8h0"/><path stroke="#ff8000" d="M278.6 50.3h0"/><path stroke="#10c010" d="M223.9 50.9h0"/><path stroke="#ff8000" d="M195.9 34.3h0"/><path stroke="#10c010" d="M238.8 56.2h0"/><path stroke="#ff8000" d="M197.1 46.7h0m-5.2 25.2h0m82.8-32.6h0"/><path stroke="#10c010" d="M239.7 42.1h0"/><path stroke="#ff8000" d="M195.2 50.5h0m75-8.7h0"/><path stroke="#10c010" d="M227.9 62.6h0m-.1-17.8h0m12.6 6.1h0m-2.3 .6h0m7.6-15.7h0"/><path stroke="#ff8000" d="M273.4 36.8h0"/><path stroke="#10c010" d="M226.4 60.9h0"/><path stroke="#ff8000" d="M192.0 77.3h0"/><path stroke="#10c010" d="M256.0 56.4h0m.6 4.1h0"/><path stroke="#ff8000" d="M266.4 33.7h0m-34.5 87.1h0m35.1-84.6h0m-81.4 9h0m4.3 23.7h0m44.9 31h0m6.6-1.4h0"/><path stroke="#10c010" d="M250.8 57.0h0m-23.5 16h0"/><path stroke="#ff8000" d="M261.9 39.0h0"/><path stroke="#10c010" d="M231.8 74.1h0m24-6.3h0"/><path stroke="#ff8000" d="M278.7 39.7h0m-15.1 1.2h0"/><path stroke="#10c010" d="M248.2 20.4h0m-11.2 24.1h0m-10.4 35.9h0"/><path stroke="#ff8000" d="M240.6 118.6h0"/><path stroke="#10c010" d="M243.9 27.2h0"/><path stroke="#ff8000" d="M177.6 49.7h0"/><path stroke="#10c010" d="M231.2 66.9h0"/><path stroke="#ff8000" d="M262.2 26.2h0"/><path stroke="#10c010" d="M214.5 76.0h0"/><path stroke="#ff8000" d="M275.5 74.6h0"/><path stroke="#10c010" d="M238.6 61.6h0m21.4 15.2h0"/><path stroke="#ff8000" d="M251.9 18.0h0"/><path stroke="#10c010" d="M229.0 83.9h0m-11.7 4.9h0"/><path stroke="#ff8000" d="M261.1 86.1h0m-34 29.1h0"/><path stroke="#10c010" d="M235.5 81.0h0m-12.2-4.2h0m-2.7-.9h0"/><path stroke="#ff8000" d="M239.5 112.1h0m1.7-13.1h0m-60-61.4h0"/><path stroke="#10c010" d="M216.4 74.3h0m19.8 9.1h0"/><path stroke="#ff8000" d="M275.7 66.7h0"/><path stroke="#10c010" d="M231.6 16.5h0"/><path stroke="#ff8000" d="M277.3 85.7h0"/><path stroke="#10c010" d="M240.4 69.5h0m9.7-14h0"/><path stroke="#ff8000" d="M233.2 111.3h0m38.8-31.7h0"/><path stroke="#10c010" d="M229.8 73.1h0"/><path stroke="#ff8000" d="M200.1 63.4h0m-23.4 7.2h0m17.6-19.6h0m67.8-22.1h0"/><path stroke="#10c010" d="M254.0 54.5h0m-31.4 11.7h0"/><path stroke="#ff8000" d="M248.7 120.5h0"/><path stroke="#10c010" d="M227.1 91.3h0m.7-41.7h0m8.4 5.9h0m-12 11.5h0m14-32.2h0m3.6 40.1h0m-19.3-13.9h0"/><path stroke="#ff8000" d="M254.1 16.8h0"/><path stroke="#10c010" d="M235.2 78.4h0"/><path stroke="#ff8000" d="M256.2 34.4h0m-55.3 35.9h0"/><path stroke="#10c010" d="M238.5 78.4h0"/><path stroke="#ff8000" d="M202.5 50.1h0m-10.3 24.7h0"/><path stroke="#10c010" d="M237.7 40.2h0"/><path stroke="#ff8000" d="M269.9 48.6h0m-7.5-26.8h0m16.1 15.2h0"/><path stroke="#10c010" d="M261.9 61.1h0m-21.3-4.8h0"/><path stroke="#ff8000" d="M197.1 44.8h0m-.5-1.3h0m42.9 75.1h0m-14.1-19.4h0"/><path stroke="#10c010" d="M251.2 70.7h0m10.9-1.2h0m-36.5 4.7h0m28.8-15.6h0m1.4 6.8h0m-25.3 17.9h0m-9.9-8.5h0"/><path stroke="#ff8000" d="M176.3 68.8h0m15.9-25.1h0m4-2.9h0m-5.5 30h0m48.9 51.4h0m10-107.7h0"/><path stroke="#10c010" d="M248.4 59.1h0m-13.3 14.3h0"/><path stroke="#ff8000" d="M255.3 80.0h0"/><path stroke="#10c010" d="M235.8 37.4h0m-17 40.7h0"/><path stroke="#ff8000" d="M227.5 101.4h0"/><path stroke="#10c010" d="M232.0 46.9h0"/><path stroke="#ff8000" d="M276.8 41.5h0m-26.5-25.4h0m30.7 30.1h0"/><path stroke="#10c010" d="M230.7 82.4h0m-16.9-2.5h0m17.7-21.6h0m-7.7 21.5h0m5.9-34.4h0m-14.3 34.5h0m20.8-14.1h0m30.1-.2h0"/><path stroke="#ff8000" d="M210.8 92.6h0m73.2-25.2h0"/><path stroke="#10c010" d="M219.5 66.6h0m28.6-36.6h0"/><path stroke="#ff8000" d="M192.3 49.1h0"/><path stroke="#10c010" d="M227.3 39.7h0"/><path stroke="#ff8000" d="M202.5 41.6h0m5.1 50.8h0m45.8-76.7h0"/><path stroke="#10c010" d="M239.2 37.7h0"/><path stroke="#ff8000" d="M260.7 32.1h0m-30.3 76.4h0m9.7 8.4h0m17.4-84.3h0"/><path stroke="#10c010" d="M230.4 43.2h0m-3.4 29.4h0m-16 4.9h0"/><path stroke="#ff8000" d="M258.3 33.3h0m-71.8 3.1h0"/><path stroke="#10c010" d="M229.7 71.6h0"/><path stroke="#ff8000" d="M242.5 100.2h0"/><path stroke="#10c010" d="M219.0 79.1h0m9.6-30.8h0m25.5 12.7h0"/><path stroke="#ff8000" d="M282.8 64.5h0"/><path stroke="#10c010" d="M227.3 49.2h0"/><path stroke="#ff8000" d="M192.2 35.8h0"/><path stroke="#10c010" d="M228.7 78.2h0"/><path stroke="#ff8000" d="M196.0 35.6h0m41.9 77h0m10-30.6h0"/><path stroke="#10c010" d="M258.7 74.5h0"/><path stroke="#ff8000" d="M185.9 42.6h0"/><path stroke="#10c010" d="M226.5 45.4h0m33.3 12.8h0"/><path stroke="#ff8000" d="M190.1 68.9h0"/><path stroke="#10c010" d="M233.0 64.1h0"/><path stroke="#ff8000" d="M182.5 52.5h0m99.7 31.9h0m-90.7-14.8h0m36.4 42.7h0m18.6-4.3h0m-51-67.5h0m1.4 24.1h0"/><path stroke="#10c010" d="M214.4 83.2h0m-2.2-4.3h0"/><path stroke="#ff8000" d="M275.8 74.3h0m-96.8-28h0m24.7 4.8h0"/><path stroke="#10c010" d="M239.1 81.3h0"/><path stroke="#ff8000" d="M185.7 38.9h0m71-3.1h0"/><path stroke="#10c010" d="M231.6 57.8h0"/><path stroke="#ff8000" d="M242.0 104.7h0m-41.6-36.2h0m-.6 .6h0m-6.5 4h0"/><path stroke="#10c010" d="M242.7 25.9h0"/><path stroke="#ff8000" d="M263.5 32.8h0"/><path stroke="#10c010" d="M259.9 21.1h0"/><path stroke="#ff8000" d="M245.0 113.2h0"/><path stroke="#10c010" d="M264.1 58.9h0"/><path stroke="#ff8000" d="M186.6 40.5h0m77.6 1.6h0"/><path stroke="#10c010" d="M225.9 34.2h0m15.7 12.3h0"/><path stroke="#ff8000" d="M275.9 78.0h0"/><path stroke="#10c010" d="M227.9 51.2h0m24.5 15.4h0"/><path stroke="#ff8000" d="M188.0 49.7h0m40.3 68.3h0"/><path stroke="#10c010" d="M233.1 13.2h0"/><path stroke="#ff8000" d="M272.0 39.7h0"/><path stroke="#10c010" d="M245.2 44.8h0m-13.4-29.2h0"/><path stroke="#ff8000" d="M181.8 71.6h0"/><path stroke="#10c010" d="M233.7 88.0h0m-4.8-45h0m25.1 26.2h0"/><path stroke="#ff8000" d="M181.6 39.1h0m77.1 42.6h0m-67 .6h0m5-25.5h0m75.4 19.2h0m-22.5 8.7h0m29.6-46.7h0m-96.5 7.4h0"/><path stroke="#10c010" d="M232.1 18.1h0"/><path stroke="#ff8000" d="M201.3 69.3h0"/><path stroke="#10c010" d="M244.2 42.7h0m-9.8 42.6h0m-9.1 .7h0"/><path stroke="#ff8000" d="M192.2 73.1h0"/><path stroke="#10c010" d="M248.7 20.4h0m-19 56.5h0m-9.6-2.5h0m2.5-18.3h0"/><path stroke="#ff8000" d="M283.4 66.5h0m-86 22h0"/><path stroke="#10c010" d="M237.5 54.4h0m-9.5 .7h0m14 6.3h0m-6 9.5h0"/><path stroke="#ff8000" d="M178.2 46.2h0m69.9 44.6h0m-38.3-1.4h0"/><path stroke="#10c010" d="M213.1 72.4h0"/><path stroke="#ff8000" d="M245.8 107.9h0m-2.1 10.5h0"/><path stroke="#10c010" d="M224.1 75.8h0m10-25.1h0m-11.9 .6h0m25.3-12.1h0"/><path stroke="#ff8000" d="M237.3 107.2h0"/><path stroke="#10c010" d="M227.4 43.9h0m31.4 11.8h0"/><path stroke="#ff8000" d="M278.5 70.1h0"/><path stroke="#10c010" d="M230.2 75.4h0"/><path stroke="#ff8000" d="M181.3 58.0h0m54.4 57.8h0m45.8-39.5h0m-71.7 15.8h0m54.1-54.5h0m-88 12.5h0"/><path stroke="#10c010" d="M233.9 85.5h0m27.3-64.7h0"/><path stroke="#ff8000" d="M255.3 32.9h0m-13.6 71.6h0m-61.3-60.9h0m82.8-16.2h0"/><path stroke="#10c010" d="M235.4 73.4h0m-19.9 4.2h0"/><path stroke="#ff8000" d="M179.6 54.4h0"/><path stroke="#10c010" d="M228.7 45.1h0"/><path stroke="#ff8000" d="M243.0 100.3h0m-53.4-25.7h0"/><path stroke="#10c010" d="M236.3 77.0h0m-10.4-15.4h0m15-11.9h0m-11.5-9.2h0m31 20.5h0m-39.7-31.5h0"/><path stroke="#ff8000" d="M176.3 47.8h0m98 23.6h0m-34.6 31.7h0"/><path stroke="#10c010" d="M243.6 51.8h0"/><path stroke="#ff8000" d="M241.2 119.3h0"/><path stroke="#10c010" d="M259.4 66.6h0m3.6-4.7h0"/><path stroke="#ff8000" d="M250.6 90.9h0"/><path stroke="#10c010" d="M249.8 55.9h0m-15.8 13.7h0"/><path stroke="#ff8000" d="M186.5 64.1h0m15.7 3.6h0m-6.2-18.5h0m15.9 42.9h0m-19.8-36.2h0"/><path stroke="#10c010" d="M252.1 52.8h0"/><path stroke="#ff8000" d="M182.1 70.4h0m73.3 11h0"/><path stroke="#10c010" d="M255.1 63.1h0m-26.3 7.8h0"/><path stroke="#ff8000" d="M194.7 48.6h0m5.6-9.4h0m-13.8 .8h0"/><path stroke="#10c010" d="M227.4 61.9h0m34.1 1.8h0m-34.8 10h0"/><path stroke="#ff8000" d="M269.8 46.2h0"/><path stroke="#10c010" d="M238.4 29.6h0"/><path stroke="#ff8000" d="M278.0 75.6h0"/><path stroke="#10c010" d="M239.5 59.1h0"/><path stroke="#ff8000" d="M249.2 87.0h0"/><path stroke="#10c010" d="M235.6 37.9h0"/><path stroke="#ff8000" d="M195.1 58.2h0"/><path stroke="#10c010" d="M256.5 52.6h0m2.1 9.3h0"/><path stroke="#ff8000" d="M268.5 47.0h0m-17.9 68.9h0m-1.7-.7h0"/><path stroke="#10c010" d="M228.7 72.7h0"/><path stroke="#ff8000" d="M260.8 44.0h0"/><path stroke="#10c010" d="M233.5 72.6h0"/><path stroke="#ff8000" d="M193.9 57.2h0m91.3 6.2h0m-48.8 46.4h0"/><path stroke="#10c010" d="M241.9 21.9h0"/><path stroke="#ff8000" d="M273.3 35.4h0m4.8 45.4h0"/><path stroke="#10c010" d="M223.4 73.6h0"/><path stroke="#ff8000" d="M233.3 121.1h0"/><path stroke="#10c010" d="M260.6 69.4h0m-1.8 3.7h0"/><path stroke="#ff8000" d="M245.9 104.6h0"/><path stroke="#10c010" d="M231.6 23.9h0m8.5 1.1h0"/><path stroke="#ff8000" d="M254.2 22.5h0m-2.3 81.7h0m-12.5 15.1h0"/><path stroke="#10c010" d="M260.1 71.3h0m1.2 4.9h0m-25.2-5.1h0m.5 7.1h0"/><path stroke="#ff8000" d="M262.6 103.1h0"/><path stroke="#10c010" d="M227.5 55.2h0"/><path stroke="#ff8000" d="M177.8 61.3h0m34.2 34.6h0m-23.5-50.7h0"/><path stroke="#10c010" d="M221.3 79.8h0"/><path stroke="#ff8000" d="M274.9 32.2h0m3.7 56.5h0m-4.9-6.9h0m-97.5-35.7h0"/><path stroke="#10c010" d="M234.2 88.7h0m24.2-20.1h0"/><path stroke="#ff8000" d="M246.1 88.6h0m36.4-5.3h0"/><path stroke="#10c010" d="M239.4 76.3h0"/><path stroke="#ff8000" d="M189.0 83.1h0"/><path stroke="#10c010" d="M231.3 55.6h0"/><path stroke="#ff8000" d="M278.1 75.0h0"/><path stroke="#10c010" d="M231.1 82.3h0"/><path stroke="#ff8000" d="M196.7 53.2h0"/><path stroke="#10c010" d="M236.1 36.2h0m-5.5 15.6h0m-4.2 18.7h0"/><path stroke="#ff8000" d="M199.0 61.7h0m74.9 4.5h0"/><path stroke="#10c010" d="M236.1 67.2h0"/><path stroke="#ff8000" d="M266.8 34.6h0m-89.7 16.8h0"/><path stroke="#10c010" d="M255.4 58.8h0m-15.5-3.5h0m12.9 .8h0"/><path stroke="#ff8000" d="M257.5 29.5h0m-13.5 84.9h0"/><path stroke="#10c010" d="M233.3 75.1h0m-2.2-18.5h0"/><path stroke="#ff8000" d="M255.2 82.2h0"/><path stroke="#10c010" d="M237.2 74.8h0m-2.8-49.6h0m-7.4 5.3h0m24.7 30h0m-20.3-3.7h0"/><path stroke="#ff8000" d="M197.4 65.9h0"/><path stroke="#10c010" d="M255.2 77.5h0"/><path stroke="#ff8000" d="M194.0 39.7h0"/><path stroke="#10c010" d="M216.1 84.0h0m32.7-56.9h0"/><path stroke="#ff8000" d="M271.6 36.2h0m-22-21.1h0"/><path stroke="#10c010" d="M225.4 50.5h0m24.6 16h0"/><path stroke="#ff8000" d="M193.4 69.3h0"/><path stroke="#10c010" d="M226.3 80.0h0m15.1-49.9h0m-13.2-3.3h0m5.3 56.2h0"/><path stroke="#ff8000" d="M255.4 35.6h0m25.2 39.4h0"/><path stroke="#10c010" d="M233.9 37.5h0m-2.9 28.7h0"/><path stroke="#ff8000" d="M265.5 47.8h0m-24.8 49.6h0"/><path stroke="#10c010" d="M255.8 54.8h0m-18.2 16.5h0m-.5-30.2h0m-8.3-12.2h0m1.6 59.3h0"/><path stroke="#ff8000" d="M283.6 72.1h0m-10.4 16.1h0m-29 13h0"/><path stroke="#10c010" d="M238.1 72.7h0m-15.1 2.2h0"/><path stroke="#ff8000" d="M180.3 53.1h0m61.1 61.5h0"/><path stroke="#10c010" d="M263.8 66.6h0m-30.5-13.5h0m8.3-23.2h0"/><path stroke="#ff8000" d="M265.1 44.6h0"/><path stroke="#10c010" d="M219.5 88.4h0"/><path stroke="#ff8000" d="M234.6 101.3h0"/><path stroke="#10c010" d="M233.2 73.6h0"/><path stroke="#ff8000" d="M190.4 75.8h0"/><path stroke="#10c010" d="M226.3 56.7h0m17.5-9.7h0m-19.2 9.8h0"/><path stroke="#ff8000" d="M260.7 47.7h0m-76.9 2.1h0"/><path stroke="#10c010" d="M226.5 49.5h0m34.5 22.1h0m-25.4 18.2h0m24.6-22.8h0m-38.2 19.4h0m1.7-28.2h0"/><path stroke="#ff8000" d="M261.3 81.4h0m-68.8-18.8h0"/><path stroke="#10c010" d="M234.2 85.7h0m-4.1-28.8h0"/><path stroke="#ff8000" d="M180.6 48.9h0m54.8 71h0m-49.7-67.4h0m100 13.7h0"/><path stroke="#10c010" d="M254.3 63.4h0m2.5-3.4h0"/><path stroke="#ff8000" d="M236.5 108.0h0"/><path stroke="#10c010" d="M228.6 39.3h0m3.6-6.7h0m18.3 25.1h0m-16.2 21.1h0m-2.2-40.5h0"/><path stroke="#ff8000" d="M246.9 85.1h0m28.1-8.6h0"/><path stroke="#10c010" d="M239.0 23.2h0"/><path stroke="#ff8000" d="M267.0 27.4h0m-30 78.2h0m-55.3-29.9h0m73.2-56.2h0"/><path stroke="#10c010" d="M230.9 60.6h0m33.9 6h0"/><path stroke="#ff8000" d="M275.5 48.6h0"/><path stroke="#10c010" d="M243.9 31.1h0"/><path stroke="#ff8000" d="M211.1 96.6h0m64-18.9h0"/><path stroke="#10c010" d="M238.5 59.5h0"/><path stroke="#ff8000" d="M279.9 77.4h0m-9.1-1.6h0m10.6-33.7h0"/><path stroke="#10c010" d="M237.2 66.3h0m-25.4 12.5h0"/><path stroke="#ff8000" d="M283.2 71.6h0m-97.4-18.9h0"/><path stroke="#10c010" d="M234.5 50.7h0m-7.4 7.9h0m2.4 25.8h0"/><path stroke="#ff8000" d="M263.1 29.9h0m-82.9 18.8h0"/><path stroke="#10c010" d="M262.1 60.5h0"/><path stroke="#ff8000" d="M283.1 66.6h0m-97.5 4.9h0m44 42.8h0"/><path stroke="#10c010" d="M249.0 23.2h0"/><path stroke="#ff8000" d="M248.0 112.4h0"/><path stroke="#10c010" d="M236.7 67.0h0m-4.3 22.3h0m15.3-19.9h0m-7.9-32.5h0"/><path stroke="#ff8000" d="M244.8 116.2h0"/><path stroke="#10c010" d="M254.5 60.3h0m-10-9.2h0m-27.2 29.9h0m10.8 1h0m-4-41.5h0"/><path stroke="#ff8000" d="M188.4 55.2h0"/><path stroke="#10c010" d="M222.8 72.1h0"/><path stroke="#ff8000" d="M183.5 67.4h0m13.5-28.6h0"/><path stroke="#10c010" d="M235.9 31.5h0m14.9 38.1h0"/><path stroke="#ff8000" d="M262.4 25.2h0m14.4 60.2h0m-51.3 15.5h0"/><path stroke="#10c010" d="M225.2 79.8h0"/><path stroke="#ff8000" d="M282.0 67.2h0"/><path stroke="#10c010" d="M215.5 86.7h0"/><path stroke="#ff8000" d="M249.6 84.2h0m-52.4-37.5h0"/><path stroke="#10c010" d="M221.8 51.9h0m32.6 16.3h0m4.4-8.6h0"/><path stroke="#ff8000" d="M268.5 52.1h0m-89.5 22.4h0m71.9 43.4h0"/><path stroke="#10c010" d="M234.7 47.3h0"/><path stroke="#ff8000" d="M259.9 29.3h0"/><path stroke="#10c010" d="M234.8 54.5h0m1.4-9.1h0"/><path stroke="#ff8000" d="M273.3 75.8h0m-36.5 24.3h0"/><path stroke="#10c010" d="M238.2 84.8h0"/><path stroke="#ff8000" d="M273.5 86.6h0"/><path stroke="#10c010" d="M257.5 65.2h0m-27-9.2h0m23 11.6h0"/><path stroke="#ff8000" d="M184.8 71.8h0m14.6-.8h0"/><path stroke="#10c010" d="M240.8 66.7h0m-21.3 21.1h0m3.3-37.6h0"/><path stroke="#ff8000" d="M281.9 75.8h0"/><path stroke="#10c010" d="M235.9 55.4h0m-2 3.8h0m8.4-10.7h0m15.7 4.6h0"/><path stroke="#ff8000" d="M191.6 65.3h0"/><path stroke="#10c010" d="M228.3 50.5h0"/><path stroke="#ff8000" d="M261.8 38.4h0"/><path stroke="#10c010" d="M222.6 87.8h0m2.9-57.7h0"/><path stroke="#ff8000" d="M282.0 72.4h0m-89.5-8.6h0m6.6-17.7h0m61.1 36.3h0m-7.6 31.2h0m-10.1-5.6h0"/><path stroke="#10c010" d="M238.3 67.9h0m-8.8-30.8h0"/><path stroke="#ff8000" d="M185.1 60.4h0"/><path stroke="#10c010" d="M255.8 71.4h0"/><path stroke="#ff8000" d="M198.5 91.8h0"/><path stroke="#10c010" d="M231.3 48.5h0"/><path stroke="#ff8000" d="M284.1 63.5h0"/><path stroke="#10c010" d="M262.3 56.9h0m-25.4-18.1h0"/><path stroke="#ff8000" d="M194.7 53.2h0m71.8-15.7h0m5.8 1.1h0"/><path stroke="#10c010" d="M223.1 87.7h0m18.6-55.9h0"/><path stroke="#ff8000" d="M236.0 112.6h0"/><path stroke="#10c010" d="M232.9 33.7h0m5.9-3.1h0"/><path stroke="#ff8000" d="M264.8 36.3h0"/><path stroke="#10c010" d="M257.6 60.0h0"/><path stroke="#ff8000" d="M279.6 73.8h0"/><path stroke="#10c010" d="M231.0 43.4h0"/><path stroke="#ff8000" d="M182.8 58.5h0m72.5-21.6h0m-3.9 77.1h0"/><path stroke="#10c010" d="M221.8 82.0h0"/><path stroke="#ff8000" d="M247.9 18.5h0"/><path stroke="#10c010" d="M264.9 68.2h0"/><path stroke="#ff8000" d="M281.6 85.1h0"/><path stroke="#10c010" d="M259.0 75.5h0m-29.4-24.4h0"/><path stroke="#ff8000" d="M179.7 60.5h0"/><path stroke="#10c010" d="M249.2 68.0h0"/><path stroke="#ff8000" d="M187.3 73.8h0m52.3 25.6h0m-2 20.2h0m-60.2-63.1h0"/><path stroke="#10c010" d="M232.8 81.7h0m-2.8-48.6h0m6 35.8h0m-4.6-18h0m-20.2 27.8h0m19.6-49.1h0m24.4 34.9h0m-32.2 22.1h0"/><path stroke="#ff8000" d="M230.4 109.0h0"/><path stroke="#10c010" d="M234.4 75.6h0"/><path stroke="#ff8000" d="M235.1 100.7h0m-59.2-39.8h0m70.8 60.8h0m18.1-80.6h0"/><path stroke="#10c010" d="M225.0 66.5h0m35-10h0"/><path stroke="#ff8000" d="M175.2 64.2h0"/><path stroke="#10c010" d="M246.0 37.0h0"/><path stroke="#ff8000" d="M230.4 98.6h0"/><path stroke="#10c010" d="M214.0 82.2h0m38.3-22.7h0"/><path stroke="#ff8000" d="M255.7 30.0h0m-.6-9.9h0m-61.2 16.2h0m43.1 79.8h0m21.4-36.3h0"/><path stroke="#10c010" d="M227.2 50.2h0"/><path stroke="#ff8000" d="M261.8 80.8h0m-83.4-16.4h0"/><path stroke="#10c010" d="M246.8 23.9h0"/><path stroke="#ff8000" d="M190.7 78.3h0"/><path stroke="#10c010" d="M221.5 71.3h0m2.5 8.5h0"/><path stroke="#ff8000" d="M262.9 31.1h0m-37.9 79.5h0m23.5-7h0m-72.9-36.2h0"/><path stroke="#10c010" d="M242.4 59.2h0"/><path stroke="#ff8000" d="M183.3 71.0h0m11.3-1.3h0m77.9-20.1h0m-90.8 26.5h0"/><path stroke="#10c010" d="M229.9 45.8h0"/><path stroke="#ff8000" d="M261.2 33.7h0m-72.1 7.9h0m89 6h0m-101.9-.7h0m84.7-8.4h0m-84 26.4h0"/><path stroke="#10c010" d="M225.0 49.3h0"/><path stroke="#ff8000" d="M263.7 32.7h0"/><path stroke="#10c010" d="M258.7 79.3h0"/><path stroke="#ff8000" d="M230.0 101.5h0m50.6-32.7h0m-38.6 29.5h0"/><path stroke="#10c010" d="M238.9 44.3h0m12.6-15.9h0m-32.2 47.2h0m7.9-34.8h0m33.7 14.8h0"/><path stroke="#ff8000" d="M240.2 100.0h0m-62-54.6h0m65.2 62.4h0"/><path stroke="#10c010" d="M240.2 68.7h0"/><path stroke="#ff8000" d="M259.7 28.7h0"/><path stroke="#10c010" d="M232.9 54.4h0"/><path stroke="#ff8000" d="M260.1 83.9h0m-28.7 25.6h0m42-35.3h0"/><path stroke="#10c010" d="M217.5 81.9h0"/><path stroke="#ff8000" d="M227.2 119.8h0m18-3h0"/><path stroke="#10c010" d="M231.8 54.7h0"/><path stroke="#ff8000" d="M256.8 30.5h0"/><path stroke="#10c010" d="M219.0 80.0h0m16.8-13.4h0m17.6-3.1h0m-14.5-19.5h0m-16.6 35.3h0m7.1-5.7h0m1.9-3.3h0m2.1-38.6h0m17.8 24.9h0m6.4 5h0m-22.4 15.7h0m21.1-17.3h0m-39.1 19.7h0m8.3-14h0m13.7 10.9h0m-17-10.1h0m14.5-23.1h0m4.4 24.5h0m-11 18.7h0m25.9-28.3h0m-25-1.4h0m26.1-.4h0m-21.7 25.8h0m3.5-10.2h0m-8.6-14h0m-16.5 25.5h0m25.9-8.4h0m-21.9 9.8h0m13.6-1h0m-2.9-33.5h0m21.7 23.8h0m-9.1-47.4h0m-1.3 39.5h0m-.9-20h0m-5.7-18.9h0m21.2 35.6h0m-20.5-47.1h0m14.9 7.5h0m-27.3 5.3h0m15.9 30.4h0m-24.7 20h0m8.7-28.2h0m-5.4 30.4h0m10.3-19.7h0m1.5-3.5h0m15.9-5.3h0m-8.1-20.9h0m-1.1 41.3h0m-3.1-57.7h0m6.7 23.7h0m17.3 33.3h0m1.5-11.6h0m-20.4-36.9h0m19.5 44.3h0m-22.4-15.7h0m12.3 12.4h0m-11.7 14.8h0m3.7-20.4h0m2.4-21.6h0m2.6 30.5h0m11.4 7.8h0m-9.7-9.6h0m16.8-5.3h0m-29.4-43h0m24.4 39.7h0m-4.8 2.9h0m-24.4 29.7h0m-2.8-18.9h0m8.7 5.5h0m-3.5-8.3h0m-4.4 19.3h0m10.3-31h0m-22.8 22.7h0m9.6-12.8h0m14.4-30.5h0m-10.8 29h0m13.3-42.4h0m1.2 46.8h0m-2.2-13.4h0m14.3 15h0m-9.7-35.9h0m-8.4 16.9h0m3.5 21h0m11.1-10.5h0m-18.3-26.1h0m-3.3-11.2h0m2.9 53.4h0m10.7-48.2h0m-9.6 43.3h0m17.6-31.4h0m-11.3 23.7h0m13.8-28.8h0m-10.5-13.4h0m-18.6 45.9h0m-3.8 14.5h0m19.1-11.9h0m10.6-53.2h0m-13.3 59h0m10.5-33.4h0m-8.3-14.8h0m-1.4 16.2h0m4.8 4.1h0m1.1 16h0m7.9 1.3h0m7.9-10.3h0m-25.7 32.2h0m3.1-54.9h0m-10.2-4.2h0m11.3 47.2h0m-3.4-65.7h0m-15.1 66.1h0m-4 6.4h0m40-29.8h0m-19.1-18.2h0m-6.1 37.1h0m28.2-17.4h0m-27.9 12.9h0m7.4 14h0m-3.5 2.8h0m2.1-18h0m-23.5 10.7h0m21.7 7.8h0m-3.6 .7h0m-11.7 .2h0m8-17.7h0m6.3-36.6h0m25.2 22.1h0m-9.9-25.6h0m-18.1-.6h0m22.9 26.9h0m-32.4 13.8h0m14-11h0m-.1-15.8h0m2.1 41.4h0m9.7-45.5h0m-5.7 39.1h0m-3.8-15.1h0m-1.1-6.3h0m1.2 19.7h0m-1.1-38.3h0m4.4 19.2h0m-25 12.5h0m22.4-23.6h0m-10.8 16.3h0m-11 6.5h0m27.3-44.4h0m-26.7 51.7h0m13.7 1.4h0m33.2-5.1h0m-20-10.2h0m3.8-22.5h0m-15.3 14.5h0m11.9 4.3h0m2.7-24.5h0m11.4 27.1h0m-1.4 3.3h0m-11.3-17.4h0m-24.2 26.4h0m41.5-1.3h0m-1-16.6h0m-20-9h0m-6.8 38h0m3-55.8h0m2.7 15.9h0m-2.2-10.3h0m-1.9-1.3h0m25.3 22.3h0m-24 11.4h0m5.9-27.5h0m-14.9 36h0m12.1-19.5h0m.4 2h0m-13-22.7h0m5.7-20.1h0m-1.4 27.9h0m.9-11.6h0m6 44.2h0m-2.3 1.9h0m5.5-3.9h0m-4.7 13.1h0m-19.2-6.7h0m15.3-28.5h0m-4.5 15.4h0m-5.4-10.5h0m39.1 9h0m-26.9 10.8h0m-11.2-7.2h0m16.1-22.9h0m-2.7 40.2h0m21.3-29h0m-19.6 25.7h0m-3.1-35.7h0m15.9 9.5h0m2.4 5.5h0m-29.4-6.2h0m21.2-18.3h0m-22 51.3h0m33.4-22.9h0m-25.4 15.5h0m3.9-19.4h0m-11.5-5.9h0m8.2 30h0m4.9-3.9h0m2.1-31.6h0m-6 21.1h0m-8.6-46.5h0m9.4 24.8h0m-7.3 35.8h0m3.2-24.6h0m7-11.6h0m.2 27.1h0m-1.8-4.1h0m2.5-11.5h0m-16.6 6.8h0m4.3 3.3h0m-5.7 14.1h0m12.7-16.3h0m28.9 6.6h0m-25.1-28.4h0m-12.6 37.7h0m32.5-17.2h0m-36.1-.7h0m17.4 .5h0m-7.8-26.5h0m3.4-23.1h0m27.6 49.8h0m-33.5 11.5h0m11.8-12.5h0m-13.7-1.2h0m16.2-1.4h0m-30.5 12.9h0m42.2-7.1h0m-28-4.7h0m-1.7-4.5h0m18.1-3.7h0m-19.2 12.3h0m9.8 9.9h0m9.7-22.5h0m18.7 12.2h0m-17.4-32.9h0m.9 12.1h0m-2.8-1.1h0m11.7 15.5h0m1.6-7h0m-34.3 11.2h0m37.6-8.1h0m-17.7-15.9h0m-20.4 28.4h0m29.7-13.9h0m12.8 12.3h0m-18.5-39.8h0m-19 13.7h0m9.2-27.7h0m7.7 30.3h0m-2.7-12.6h0m-8.1 51.1h0m16.8-14.2h0m-16.3 9.9h0m33.3-11h0m-29.7-21.4h0m-7.5-11.6h0m10.2 7.3h0m.8 12.9h0m19.2 5.9h0m-33.9 25.2h0m33.7-23.7h0m-32.3-2.9h0m5.5 21.2h0m-18.2-7h0m31-50.3h0m-18.4 55.4h0m29.5-18.7h0m1.7 5.6h0m-19.8-14.3h0m3.6-18.6h0m-2.9 19.3h0m19.1 .2h0m-16.8 11.1h0m5.6 3.4h0m8.4-4.1h0m-5.9-25.1h0m-11.9 14.4h0m3.3 16.8h0m-8.1-57.7h0m26 41.7h0m8.3 11h0m-40.3 3.6h0m-1.9 3.6h0m9.2-38.7h0m1.6 3.7h0m25.6 34.9h0m-42.1 12.7h0m40.7-30.5h0m-1.2 20.6h0m-26.4-59.2h0m-4.3 50.3h0m1.6 16h0m28.7-20.1h0m-40.3 21.8h0m14.5 3.4h0m-5.2-20.4h0m38.1-5.9h0m-33.9 .5h0m22.9-3.5h0m-14.3 18.6h0m-12-16.7h0m28.3-1.5h0m-29.3-26.9h0m1.4 .5h0m-1.3 20.6h0m3.5 20.4h0m29.3-12.9h0m-15.3-23.8h0m-27.4 41.2h0m30.1-47.6h0m-5 40h0m13.5-14.8h0m-22.3 7h0m2.4-34.5h0m-9.9 34.7h0m4.2-24.7h0m13.9 6.3h0m-24.4 23.4h0m17.6 8.3h0m-4.1-35.9h0m9.9 24.7h0m14.9 2.8h0m-30.3-6.1h0m33.1-6.5h0m-38.6 27.1h0m9.3-33.4h0m-2.9 36.8h0m11.7-34.8h0m5.8-8.2h0m-1.9 11.2h0m-14.5 8.6h0m7.9 5.7h0m0-15.5h0m-11.2 37.6h0m14.9-61.3h0m-12.8 29.8h0m3.2-15.2h0m-2.3 4.7h0m8.3 15h0m-22.3 9.8h0m21.6-2.4h0m18.5-14.4h0m.2 1.2h0m-41.6 23h0m2.3-4.6h0m22.8-2.4h0m21.8-15.8h0m-24.8 23.6h0m-8.9-39.2h0m24.1 21.3h0m-8.2-2.8h0m10.4 11.7h0m-34.2 .7h0m15.8 10h0m-.9-4.8h0m1.6-64.3h0m2.4 18.8h0m-10.8 6.7h0m-9.3 40.1h0m21.8-12.7h0m-17.7 3.5h0m7.8-33.3h0m29.2 28.3h0m-24.6-37.1h0m-2.2 28.7h0m8.4-.5h0m23.3 1.5h0m-7.7 3.7h0m-34.9 25.8h0m39.5-12.3h0m-32.2 13.9h0m13.4-26.5h0m-8.1-47.9h0m.9 29.7h0m-7.7 2.9h0m5.7-16.9h0m-14 55h0m-.6-14.7h0m15.9 19.5h0m2.9-36.5h0m5.6-11h0m14.1 21h0m-26.5 3.6h0m7.6-9.1h0m16.4-2.3h0m-14.7-7h0m-9.1 .6h0m24.7 6.6h0m2.9 8.2h0m6 2h0m-28.4 10.5h0m26.9-19.8h0m-29.4-29.8h0m-11.7 39h0m4.2 19.8h0m31.5-6.2h0m-33.5-16.7h0m8-7.2h0m-5.5 2.7h0m27.8 19.8h0m-28-17h0m38.1 7.8h0m-20.9-37.1h0m-15.1 60.4h0m12.4-9.3h0m1.1-23.2h0m-.7 21.2h0m3-33.7h0m-20.1 26.9h0m13.9-12.9h0m18.1 15.2h0m-6.3-48.3h0m-26.5 54.3h0m5.8-47.6h0m13.3-6.8h0m19.6 27.3h0m-14.8-7.1h0m-4.5-18h0m23.8 37.1h0m-40.3-30.2h0m-1.2-7.7h0m7.7 24.1h0m31.8 22.2h0m-34.6-4.2h0m34-9.4h0m-17.9-23.5h0m-22 42.7h0m3.3-7.7h0m9.5-11.2h0m17.8-3.7h0m-32.9 7.9h0m15.7-34.4h0m1.6 35.9h0m-10.9-.1h0m29.4-4.2h0m-41.7 11h0m22.9 .6h0m.6-49.3h0m-14.1 48h0m13.1-3.7h0m21.4-14.2h0m-24.3 3.3h0m-12.9 23.9h0m10.9-34h0m-1.3-17.4h0m-9.4 44.1h0m3.4-7.5h0m13.7-15.3h0m-11.7 30.5h0m-14-4h0m18-35.5h0m4.1-3.1h0m-15.5 46.3h0m38.5-20.3h0m-18.5 14.4h0m-7.5-31.1h0m-2-4.8h0m4.4-10.9h0m2.3 49.2h0m3.9-7.5h0m-10.2-39.7h0m6.9 40.1h0m18.3-15.3h0m-20.8-7.7h0m-10 5.1h0m28.8 1h0m-28.7-9.1h0m-2.2 5.8h0m22.6-31.4h0m-5.7 39.2h0m-3.3 8.5h0m2.4-17h0m-21.7 15.4h0m10.7 10.3h0m-1.7 .2h0m6.2-22.6h0m10.3 7.9h0m-28.6 11.4h0m14.9-2.4h0m-3.3-28.1h0m3.7 26.8h0m-4.5-21.9h0m13.2-20.1h0m3.5 25h0m-7.6 16.7h0m1.1 6.9h0m1.4-10.1h0m24.1 2.4h0m-18.4-9h0m21.2-1.9h0m-8.2-1.2h0m-10.8 6.3h0m-9.9-30.2h0m-6.4 46h0m27.7-20.4h0m-17.8 4.5h0m-9.8-26.3h0m8 34.3h0m-11.8-24.6h0m36.8 4.7h0m-11 16.6h0m5.3-1.8h0m-26.7 11.5h0m28.8-20.1h0m1.3-4.4h0m-28.9 5.7h0m19.9-16.7h0m-33 36.7h0m12.5-.1h0m30.7-28.1h0m-24-10.7h0m-9.3 16.8h0m11.7-29.9h0m-7.2 54.4h0m19.4-25.7h0m-23.8-14.2h0m-1.6 13h0m6.1-8.2h0m-.2 26.1h0m-18.1-4.8h0m10.2 16.5h0m1.7-36.2h0m-.7 4.8h0m10.7-41.3h0m18.1 44.2h0m-19.3-5.1h0m3.9 28.3h0m5.4-41.1h0m-9.3 .7h0m-11 34.2h0m12.8-2.8h0m-5.9-50.5h0m-6.2 8.7h0m6.2 26.4h0m-1.4-13h0m4.4 22.8h0m-12.4 12h0m10 3.2h0m11.6-11.1h0m-16.2-44.8h0m34.4 40h0m-34.4-7.4h0m8.5 20.1h0m-23.2-3.6h0m47.3-5.1h0m-21.1-18.2h0m-9.2 13.7h0m-.3-34.1h0m3.2 36.8h0m24.4 3.2h0m-34.6-7.8h0m41.1-9.7h0m-38.8-25.6h0m25.3 4.9h0m-19.7-10.8h0m2.1 .2h0m12.6 21.8h0m-17.8 18.1h0m31.9-3.6h0m-44.3 14.6h0m31.6-44.4h0m-12.2 52.8h0m16.4-17.7h0m6.9-1.6h0m-40.9 16.5h0m25.7-24.5h0m-18 23.2h0m7.6-24.9h0m-1 33.6h0m13.1-44.8h0m-21.5 35.9h0m38.8-2.8h0m-32-46.3h0m19.3 13.9h0m-4.4 4.7h0m-11.6 36.1h0m5.4-24.4h0m-10.7 6.1h0m-5.5 20.4h0m15.3-19.9h0m-2.2 18.5h0m-6-16.4h0m6.7 17.4h0m19.6-25.8h0m-16.1-11.1h0m-2.4 34.4h0m-1.6-23.2h0m-5.5-33.8h0m28.8 42.7h0m-21.7 5.2h0m-8-33.8h0m1.6 1.7h0m24.5 19.3h0m6-5.8h0m-26.9-43.4h0m-3.8 43.9h0"/><path stroke="#10c010" d="M233.6 52.0h0m-7.5 14.8h0m10.9-28.7h0m-8.3 44.7h0m11.3-18.4h0m19.8-5h0m-34.9 3.9h0m5.7 17h0m-7.3-20.7h0m31.9 15.6h0m-30.4-19.2h0m13.7 12.7h0m7.5-19h0m11.4 16.2h0m-6-34.9h0m-1.2 32.8h0m9-5.7h0m-2.5 4.4h0m-19.1-19.9h0m-25.9 36.6h0m44.9-20.7h0m-26.9 7.5h0m2.9-46.3h0m-13.8 56.7h0m11.3-49.4h0m12.1 32.1h0m4.3-36.9h0m-18.1 23.2h0m4.3-11.5h0m20.9 30.7h0m-38.5 12.1h0m17.9-38.8h0m-13.9 42h0m21.2-17.9h0m-8.2-42.5h0"/><path stroke="#1010e0" d="M217.4 60.2h0"/><path stroke="#10c010" d="M228.2 60.3h0m3.8-29.9h0m30.5 25.2h0m-22.2 9.6h0"/><path stroke="#1010e0" d="M204.4 52.2h0"/><path stroke="#10c010" d="M229.5 57.2h0m-12.2 28.1h0m14.5-48.2h0m10.8 23.2h0m-7.2 20.3h0m-7.3-8.4h0m-11 15.7h0m39.6-24.6h0m-13.3 1.6h0m-20.5 24.2h0m2.6-12.9h0"/><path stroke="#1010e0" d="M213.6 41.2h0"/><path stroke="#10c010" d="M230.0 84.9h0"/><path stroke="#1010e0" d="M212.3 73.3h0m2-13.3h0m7.5-24.1h0"/><path stroke="#10c010" d="M235.2 79.9h0m24.7-24.3h0"/><path stroke="#1010e0" d="M210.3 56.0h0m9 10.5h0"/><path stroke="#10c010" d="M234.4 38.8h0"/><path stroke="#1010e0" d="M221.9 29.8h0"/><path stroke="#10c010" d="M235.7 59.5h0m2.4 .1h0m3.2 8.3h0m-14.3-15.1h0m6.4 15.3h0m-17.4 5.2h0m9.2 14.7h0m-10.7-7.6h0m11.3-9.8h0m-5.9 10.4h0"/><path stroke="#1010e0" d="M203.8 67.1h0"/><path stroke="#10c010" d="M215.4 82.8h0"/><path stroke="#1010e0" d="M213.0 46.7h0m-9.9 6.5h0"/><path stroke="#10c010" d="M232.2 51.8h0"/><path stroke="#1010e0" d="M201.2 77.7h0m5.3-37h0m4.6 22.2h0"/><path stroke="#10c010" d="M230.0 46.8h0m11-1.8h0m-2.1 5.2h0m-9.6 37.7h0m-5.7-6.2h0m36-17.1h0m-1.4-8.8h0m-29.7 .2h0m15.1-23.5h0m-21.9 43.3h0m30.5-15.4h0"/><path stroke="#1010e0" d="M209.3 48.7h0"/><path stroke="#10c010" d="M225.9 81.6h0"/><path stroke="#1010e0" d="M211.2 33.8h0"/><path stroke="#10c010" d="M234.2 62.8h0"/><path stroke="#1010e0" d="M210.4 66.6h0"/><path stroke="#10c010" d="M235.9 67.7h0m9-1h0m-20-4.2h0m10.6-31.6h0m7.6 16.4h0m-10.8-7.7h0m4.3 33.4h0m1.7-30.5h0"/><path stroke="#1010e0" d="M201.3 84.3h0"/><path stroke="#10c010" d="M213.5 81.9h0m23.7-43.5h0m-2.9 43.6h0m-19.5 .1h0m45.3-17.6h0"/><path stroke="#1010e0" d="M208.7 57.1h0"/><path stroke="#10c010" d="M235.7 69.0h0"/><path stroke="#1010e0" d="M221.7 59.0h0"/><path stroke="#10c010" d="M255.3 63.6h0m-13.5-34.3h0m-11.9 47.8h0m-6.4-7h0"/><path stroke="#1010e0" d="M210.8 63.7h0m-.7 6.6h0m-1.2 8.6h0"/><path stroke="#10c010" d="M243.0 72.0h0m4.3-33h0"/><path stroke="#1010e0" d="M205.5 68.0h0m1.7-19.9h0"/><path stroke="#10c010" d="M244.4 45.7h0m-28.6 34.3h0m17.3-2.4h0m-8.6 9.5h0m13-5.2h0m-11-18.4h0m7-6.5h0m26.3 16.2h0m-16.2-37.4h0m9.3 38h0"/><path stroke="#1010e0" d="M209.9 71.3h0"/><path stroke="#10c010" d="M250.1 66.1h0m-3.7-24.6h0m-25.1 6.8h0m3.6 6.1h0m34.2 14.6h0m-29.8-12.6h0m1.1-41.3h0m2 23.4h0m7-14.8h0m1.1 27.9h0"/><path stroke="#1010e0" d="M221.5 28.3h0"/><path stroke="#10c010" d="M239.2 50.9h0m2.4-8h0"/><path stroke="#1010e0" d="M220.8 42.6h0"/><path stroke="#10c010" d="M236.7 24.1h0m-10.7 39.5h0m-13.5 12.8h0"/><path stroke="#1010e0" d="M204.3 46.4h0"/><path stroke="#10c010" d="M237.5 72.4h0m-6.3 6h0m1.2-20.7h0"/><path stroke="#1010e0" d="M220.1 48.6h0"/><path stroke="#10c010" d="M226.7 67.8h0m10.3 2.6h0"/><path stroke="#1010e0" d="M205.9 47.3h0"/><path stroke="#10c010" d="M228.7 65.3h0"/><path stroke="#1010e0" d="M220.2 44.1h0"/><path stroke="#10c010" d="M255.5 61.8h0m5.1 14.2h0m-7-16h0m-.4-1.5h0"/><path stroke="#1010e0" d="M221.9 48.8h0"/><path stroke="#10c010" d="M243.1 25.7h0m-16.8 56.7h0m4.1-2.8h0m.4-23.3h0m23.6 3.1h0"/><path stroke="#1010e0" d="M213.3 35.7h0"/><path stroke="#10c010" d="M260.1 63.0h0m-20.3-30.5h0m2.2 14.1h0"/><path stroke="#1010e0" d="M218.0 29.2h0"/><path stroke="#10c010" d="M234.9 65.6h0m-12-6.6h0m26.6-37.9h0m-15.8 37.7h0"/><path stroke="#1010e0" d="M210.0 53.7h0"/><path stroke="#10c010" d="M244.6 39.5h0"/><path stroke="#1010e0" d="M210.6 63.1h0"/><path stroke="#10c010" d="M238.6 62.7h0m-5.3-25.7h0"/><path stroke="#1010e0" d="M205.9 64.0h0"/><path stroke="#10c010" d="M243.5 75.8h0m15.4-5.7h0"/><path stroke="#1010e0" d="M206.3 50.0h0"/><path stroke="#10c010" d="M235.7 64.9h0"/><path stroke="#1010e0" d="M212.5 41.7h0"/><path stroke="#10c010" d="M223.3 48.8h0m11.6 4.2h0m-1.2-36.2h0m-7.2 62.3h0m3.6-64.7h0m8 53.3h0"/><path stroke="#1010e0" d="M217.1 58.3h0"/><path stroke="#10c010" d="M232.1 86.5h0m2-54.9h0m14.6-8.1h0"/><path stroke="#1010e0" d="M201.5 72.6h0"/><path stroke="#10c010" d="M225.8 52.4h0m5.9-22.5h0m10.2 28.3h0m-22.6 29.1h0m11.3-35.5h0"/><path stroke="#1010e0" d="M221.9 41.6h0"/><path stroke="#10c010" d="M228.1 60.7h0"/><path stroke="#1010e0" d="M218.0 41.2h0"/><path stroke="#10c010" d="M231.7 89.4h0"/><path stroke="#1010e0" d="M219.7 50.5h0"/><path stroke="#10c010" d="M262.2 59.6h0m-44.9 26h0m6.2-29.5h0"/><path stroke="#1010e0" d="M206.2 40.1h0m2.1 33.7h0"/><path stroke="#10c010" d="M256.1 57.4h0"/><path stroke="#1010e0" d="M219.4 58.4h0m-16 2.1h0m2.1-23.1h0"/><path stroke="#10c010" d="M228.6 65.5h0m31.1-2.3h0"/><path stroke="#1010e0" d="M218.0 51.4h0"/><path stroke="#10c010" d="M243.1 41.2h0m-3.8 34h0"/><path stroke="#1010e0" d="M214.3 38.2h0"/><path stroke="#10c010" d="M252.5 59.8h0m7 .7h0m-17.6-7.2h0m-17.5 4.1h0m34.8 .5h0m-35.1-12.9h0"/><path stroke="#1010e0" d="M216.4 40.3h0"/><path stroke="#10c010" d="M231.6 28.5h0m21.5 32.7h0m-15.8 24.3h0m-.2-12.8h0m-8.6-17.2h0"/><path stroke="#1010e0" d="M220.1 61.9h0"/><path stroke="#10c010" d="M263.0 61.1h0"/><path stroke="#1010e0" d="M204.1 54.1h0"/><path stroke="#10c010" d="M240.6 74.4h0m-8.2-49.6h0m14.4 12h0m-23.8 9.7h0m32.9 16.5h0m-11-13.2h0m-20.8 15.6h0m14.6 10.6h0m-.4 9.4h0"/><path stroke="#1010e0" d="M215.2 63.7h0"/><path stroke="#10c010" d="M226.3 58.8h0"/><path stroke="#1010e0" d="M215.3 59.3h0"/><path stroke="#10c010" d="M233.8 85.9h0m4.2-23.7h0m-2.4-1.3h0m-12.2-6.4h0m6.9-37h0"/><path stroke="#1010e0" d="M211.2 58.7h0"/><path stroke="#10c010" d="M244.6 41.4h0m-10 33.6h0"/><path stroke="#1010e0" d="M202.3 80.9h0m14.3-17.3h0"/><path stroke="#10c010" d="M258.7 59.7h0"/><path stroke="#1010e0" d="M207.0 72.6h0"/><path stroke="#10c010" d="M258.4 66.2h0m-29.9-35.1h0m8.3 43.1h0m-3.2 11h0m7.5-27.4h0m14 6.7h0m-28.5-12.4h0"/><path stroke="#1010e0" d="M206.2 73.2h0"/><path stroke="#10c010" d="M233.0 63.8h0"/><path stroke="#1010e0" d="M225.1 27.3h0"/><path stroke="#10c010" d="M227.4 67.8h0m-4.1 7.6h0m37.5-12.4h0m-26.9 4.5h0"/><path stroke="#1010e0" d="M205.5 64.3h0"/><path stroke="#10c010" d="M239.6 69.4h0m5.9-34.7h0m-12.6-18.8h0m-13.8 60.8h0"/><path stroke="#1010e0" d="M216.8 75.4h0"/><path stroke="#10c010" d="M235.2 71.2h0m-8.3 18.4h0"/><path stroke="#1010e0" d="M215.2 43.9h0"/><path stroke="#10c010" d="M233.0 75.6h0m13-36.1h0m7.8 22h0m-15-9.5h0m.5-4.7h0m4.7-5.3h0"/><path stroke="#1010e0" d="M218.0 45.5h0"/><path stroke="#10c010" d="M216.2 80.2h0m-1.2-5.9h0m34.1-36.6h0"/><path stroke="#1010e0" d="M216.2 57.7h0"/><path stroke="#10c010" d="M219.9 66.1h0m36.2-10.7h0m-26.8 35.9h0m4-11.3h0m2.1-33.4h0"/><path stroke="#1010e0" d="M217.5 60.1h0"/><path stroke="#10c010" d="M258.9 58.6h0"/><path stroke="#1010e0" d="M207.0 56.4h0"/><path stroke="#10c010" d="M224.5 26.6h0m4.9 33.6h0m5.1 9.5h0m8.5-33.8h0"/><path stroke="#1010e0" d="M215.2 53.7h0"/><path stroke="#10c010" d="M229.2 26.8h0m15.3 19.9h0"/><path stroke="#1010e0" d="M206.2 84.0h0m13.9-52.9h0"/><path stroke="#10c010" d="M248.6 19.2h0m-6.6 44.4h0m.2 9.2h0m-10.9-27.2h0m15.7-17.6h0m-8.4 46.5h0m16.8-19.2h0"/><path stroke="#1010e0" d="M206.0 82.5h0"/><path stroke="#10c010" d="M224.1 56.5h0"/><path stroke="#1010e0" d="M220.2 61.7h0"/><path stroke="#10c010" d="M262.3 57.2h0m-24.6 16.4h0"/><path stroke="#1010e0" d="M222.7 53.1h0"/><path stroke="#10c010" d="M220.4 71.6h0m11.8-53.3h0m28.9 46.3h0m-46.9 18.9h0m18.8-70.4h0"/><path stroke="#1010e0" d="M227.6 80.2h0"/><path stroke="#10c010" d="M239.9 58.4h0m-3.8 .3h0m2 15.3h0m22.4-15.6h0"/><path stroke="#1010e0" d="M212.4 52.1h0"/><path stroke="#10c010" d="M235.4 29.7h0m21.8 47h0"/><path stroke="#1010e0" d="M217.1 51.3h0"/><path stroke="#10c010" d="M226.0 26.6h0m-10.5 44.8h0"/><path stroke="#1010e0" d="M207.6 58.5h0"/><path stroke="#10c010" d="M253.3 63.9h0m-17.2-12.1h0m-7.6 30.1h0"/><path stroke="#1010e0" d="M208.7 66.5h0"/><path stroke="#10c010" d="M259.5 65.6h0m-39-.1h0"/><path stroke="#1010e0" d="M206.0 62.6h0"/><path stroke="#10c010" d="M234.6 54.6h0"/><path stroke="#1010e0" d="M207.0 74.0h0"/><path stroke="#10c010" d="M239.3 63.7h0m8.3-40.9h0"/><path stroke="#1010e0" d="M210.0 52.4h0"/><path stroke="#10c010" d="M218.1 76.0h0m6.8-25.4h0m27.1 14.8h0m-35.6 10.3h0"/><path stroke="#1010e0" d="M207.9 69.7h0"/><path stroke="#10c010" d="M237.2 48.5h0m22.7 20.6h0m-23.1 15.8h0"/><path stroke="#1010e0" d="M217.4 39.0h0"/><path stroke="#10c010" d="M241.5 56.3h0"/><path stroke="#1010e0" d="M209.5 69.3h0m5.2-28.2h0m-3.9 38.8h0"/><path stroke="#10c010" d="M262.7 74.9h0m-5.9-7h0m-6.1 .8h0m-14.3 7.8h0"/><path stroke="#1010e0" d="M212.4 61.8h0m-8.9-15.7h0"/><path stroke="#10c010" d="M236.5 79.9h0m-5.2-63.8h0m8.3 54.8h0m-7.4-5.5h0m20.5 9.4h0m-11.1-6.4h0m1.8-25.1h0"/><path stroke="#1010e0" d="M214.0 75.9h0m6.4-32.4h0"/><path stroke="#10c010" d="M237.6 43.4h0"/><path stroke="#1010e0" d="M214.3 50.4h0"/><path stroke="#10c010" d="M227.3 61.0h0"/><path stroke="#1010e0" d="M211.5 75.4h0"/><path stroke="#10c010" d="M224.8 85.5h0m10-13.4h0m5.6-18.4h0m-23.6 27.8h0"/><path stroke="#1010e0" d="M209.6 46.9h0"/><path stroke="#10c010" d="M229.4 73.1h0"/><path stroke="#1010e0" d="M221.7 41.4h0m-3.6 26.2h0"/><path stroke="#10c010" d="M262.6 71.5h0m-35.4-41h0m29.3 33.9h0"/><path stroke="#1010e0" d="M219.8 39.3h0"/><path stroke="#10c010" d="M249.2 32.3h0"/><path stroke="#1010e0" d="M213.4 54.2h0"/><path stroke="#10c010" d="M252.7 58.5h0m-.5 6.6h0m-6.8-18.4h0m17.3 11.8h0m-31.9-40h0m5.3 19.2h0"/><path stroke="#1010e0" d="M209.4 33.6h0"/><path stroke="#10c010" d="M238.5 85.7h0"/><path stroke="#1010e0" d="M204.0 41.5h0"/><path stroke="#10c010" d="M240.1 48.0h0m-19.2 20.8h0m6.7 5.6h0m16-5h0"/><path stroke="#1010e0" d="M202.2 82.3h0m13.2-26.5h0"/><path stroke="#10c010" d="M234.9 63.5h0"/><path stroke="#1010e0" d="M212.5 68.3h0"/><path stroke="#10c010" d="M227.7 58.6h0"/><path stroke="#1010e0" d="M216.6 53.9h0"/><path stroke="#10c010" d="M230.3 88.9h0"/><path stroke="#1010e0" d="M205.9 78.6h0"/><path stroke="#10c010" d="M262.9 57.4h0m-38.2 2.8h0m-10.1 13.5h0m13.9-11.4h0m-1.6 25.8h0m18.4-44.3h0m-23.5 4.1h0m34.5 15.3h0"/><path stroke="#1010e0" d="M219.9 63.3h0"/><path stroke="#10c010" d="M237.8 73.6h0m-21.1 7.2h0m15.1-46.3h0m26.5 26.1h0m-23-36.2h0"/><path stroke="#1010e0" d="M210.6 41.4h0m-2.4 32.6h0m11.6-13.1h0m-10.5 19.3h0m-1.3-19.8h0m-4.6-2.8h0m17.3-1.1h0"/><path stroke="#10c010" d="M245.0 47.7h0"/><path stroke="#1010e0" d="M210.7 49.3h0"/><path stroke="#10c010" d="M219.9 85.2h0m38.7-22.6h0m-24.3-15.2h0m5.7-4.3h0m-2.7 38.4h0"/><path stroke="#1010e0" d="M217.9 53.8h0"/><path stroke="#10c010" d="M243.4 31.0h0m-19.5 28.4h0m22.3-33.2h0m-14.3 32.6h0"/><path stroke="#1010e0" d="M220.7 29.9h0"/><path stroke="#10c010" d="M255.2 57.2h0m-25.4-20.1h0m-1.4 52.3h0m26.4-21.9h0m-18.1-10.9h0"/><path stroke="#1010e0" d="M208.1 51.8h0"/><path stroke="#10c010" d="M238.9 83.1h0m3.1-24.6h0m-5 25.3h0m.9-17h0"/><path stroke="#1010e0" d="M211.0 52.2h0"/><path stroke="#10c010" d="M237.0 35.8h0m19.8 30.8h0"/><path stroke="#1010e0" d="M197.3 83.4h0"/><path stroke="#10c010" d="M221.6 66.6h0"/><path stroke="#1010e0" d="M220.5 60.2h0m-8 11.4h0"/><path stroke="#10c010" d="M246.2 47.9h0m-17.4 20.1h0m29.1-13.9h0m-14.5-7.2h0m22 14.6h0m-29.1-1h0m-11.7-31.8h0"/><path stroke="#1010e0" d="M208.0 44.7h0"/><path stroke="#10c010" d="M250.1 71.5h0m-18.1-12.9h0m-2.1-41.1h0m-3.3 60.7h0m27.5-2.4h0m-35.6 4.2h0m27.2-54.6h0m-26.1 57.4h0m-5.3 3.8h0m5.5-18.5h0m3.1-1.1h0m10 20.1h0"/><path stroke="#1010e0" d="M218.7 51.0h0"/><path stroke="#10c010" d="M230.6 45.9h0m22.1 13.5h0m-9.8 15.7h0m6-14.1h0m-33.3 20.4h0m11.5-55.5h0m9 54.3h0m-9.8-38.4h0m.1 14.7h0"/><path stroke="#1010e0" d="M202.4 80.2h0"/><path stroke="#10c010" d="M232.0 16.4h0"/><path stroke="#1010e0" d="M217.8 45.7h0"/><path stroke="#10c010" d="M229.7 83.8h0m-2.7-32.2h0"/><path stroke="#1010e0" d="M211.0 64.5h0"/><path stroke="#10c010" d="M223.3 48.8h0m8.3 34.6h0"/><path stroke="#1010e0" d="M219.9 46.5h0m-11.8-5.4h0"/><path stroke="#10c010" d="M226.4 43.4h0"/><path stroke="#1010e0" d="M210.8 54.1h0"/><path stroke="#10c010" d="M260.3 59.1h0m-35.8 12.6h0m23.9-47.4h0"/><path stroke="#1010e0" d="M211.9 31.4h0"/><path stroke="#10c010" d="M238.5 74.9h0m-2.2-3.5h0m8.9-45.5h0m8.8 41.3h0m6.4-4.1h0m-29.1 1.8h0m16.9-26.6h0m-10.5 4.8h0m26.6 12.7h0m-11.3 10.6h0"/><path stroke="#1010e0" d="M225.1 31.1h0"/><path stroke="#10c010" d="M231.3 35.7h0"/><path stroke="#1010e0" d="M266.5 35.3h0m-49.2 .9h0"/><path stroke="#10c010" d="M264.4 66.3h0"/><path stroke="#1010e0" d="M221.6 57.9h0"/><path stroke="#10c010" d="M237.6 71.0h0"/><path stroke="#1010e0" d="M213.0 43.7h0"/><path stroke="#10c010" d="M249.5 22.9h0m-19.3 44.4h0m-3.3 17.7h0m6.1-72h0m5.2 42.2h0m-1.6 4.7h0m3.6-26.6h0m-20.2 50.1h0m9.2-25.4h0m-14.4 10.8h0"/><path stroke="#1010e0" d="M214.2 62.8h0m-7.3 9.9h0m7.5-7h0m3.6-10.2h0"/><path stroke="#10c010" d="M242.2 31.6h0"/><path stroke="#1010e0" d="M218.8 52.0h0"/><path stroke="#10c010" d="M225.3 80.1h0m-1.9-25.9h0m-10.2 27.5h0"/><path stroke="#1010e0" d="M214.6 36.4h0"/><path stroke="#10c010" d="M230.4 64.8h0m10.3-33.5h0m-12 50h0m32.9-16.8h0"/><path stroke="#1010e0" d="M213.2 50.4h0m-6.9-1.9h0"/><path stroke="#10c010" d="M258.5 57.0h0m1.2 9.8h0m-26.4 13.5h0"/><path stroke="#1010e0" d="M213.1 75.7h0"/><path stroke="#10c010" d="M236.2 36.4h0"/><path stroke="#1010e0" d="M212.3 69.5h0m5.2-18.7h0"/><path stroke="#10c010" d="M229.1 72.9h0m1-20.3h0m17.2 13.7h0m-12.9 .3h0m16.5-2.1h0m-29.9 20.8h0m9.6-66.8h0m-14.6 51.5h0"/><path stroke="#1010e0" d="M212.8 39.4h0m-11.5 44.9h0m10.1-12.8h0"/><path stroke="#10c010" d="M237.7 23.8h0m-10.8 36h0m12 6.9h0m-6.2-49.4h0m-4.2 28.6h0"/><path stroke="#1010e0" d="M202.5 81.4h0"/><path stroke="#10c010" d="M216.0 73.2h0m30.3-52.4h0m-24.3 49.8h0m7.4 13.2h0m-17.1-3.4h0"/><path stroke="#1010e0" d="M208.7 50.5h0"/><path stroke="#10c010" d="M222.5 80.7h0m10.5-15.8h0m-3.4-35.9h0m25.9 27.8h0m2.9 3.3h0m-17.4-27.3h0m-7.4 50.9h0m2.6-40.1h0m-5.5 22.9h0m24.8-8.7h0m-15 14h0m1.7-24.7h0m-24.5 39.8h0m43.5-29.3h0m-15.8-33.3h0m-28.8 60.4h0m39.6-8.5h0"/><path stroke="#1010e0" d="M212.3 72.6h0"/><path stroke="#10c010" d="M222.4 84.9h0m15.8-53.7h0m-14.4 49.2h0"/><path stroke="#1010e0" d="M210.9 44.3h0"/><path stroke="#10c010" d="M233.1 54.7h0m-6-30.5h0m.9 32.6h0m12.4-4h0m8.4-33h0m-17.9 9.9h0m27.7 28.3h0m-28.5 1.6h0m31.9-1.3h0m-31.4-28.7h0m7.4 25.1h0m3.9-17.5h0m-.6-1h0m-6.3 40.6h0"/><path stroke="#1010e0" d="M215.4 53.8h0"/><path stroke="#10c010" d="M228.4 41.2h0m-3.8 48.2h0m16.4-38.2h0m-3.5 8.3h0m22.2 1.5h0m-32.6 19.4h0m-3.6-47.2h0m21.3-9.7h0m-6.3 21.9h0m12.7-15.1h0m-12.1 35.6h0m-4.3-39.1h0"/><path stroke="#1010e0" d="M209.6 87.0h0"/><path stroke="#10c010" d="M227.8 72.8h0m10.1-23.8h0"/><path stroke="#1010e0" d="M207.6 77.9h0"/><path stroke="#10c010" d="M224.5 47.9h0m37 8.7h0m-38.2 16.5h0"/><path stroke="#1010e0" d="M203.3 50.3h0"/><path stroke="#10c010" d="M230.6 75.2h0"/><path stroke="#1010e0" d="M213.4 50.6h0m-5.2-9.2h0m2.2 27.2h0"/><path stroke="#10c010" d="M225.1 82.6h0"/><path stroke="#1010e0" d="M218.6 50.9h0"/><path stroke="#10c010" d="M225.9 77.5h0m-9-2h0m41.9-6.9h0m-36.3-16.2h0m22-28.2h0m-5.8 14.8h0m-9.8 24.4h0m4-5.2h0m1-33.4h0m-9.7 61.3h0m8-29.8h0m15.3-21.9h0"/><path stroke="#1010e0" d="M220.6 57.1h0"/><path stroke="#10c010" d="M230.6 72.5h0m2.8-27.6h0m-8.4 32.1h0m0-40.3h0"/><path stroke="#1010e0" d="M209.0 58.1h0"/><path stroke="#10c010" d="M247.0 36.9h0m-14.9 43.3h0m30.8-19.7h0m-41.6-2.9h0"/><path stroke="#1010e0" d="M210.1 34.7h0"/><path stroke="#10c010" d="M238.3 29.9h0m6.6-6.3h0m-20.2 7.4h0m9.2 26.6h0"/><path stroke="#1010e0" d="M269.7 38.2h0"/><path stroke="#10c010" d="M219.1 85.0h0m29.8-51h0m-10.6 21h0m-5.4 25.7h0"/><path stroke="#1010e0" d="M218.0 30.3h0"/><path stroke="#10c010" d="M246.6 21.4h0"/><path stroke="#1010e0" d="M215.3 84.7h0m-.5-34.9h0"/><path stroke="#10c010" d="M237.8 76.8h0"/><path stroke="#1010e0" d="M207.9 62.5h0m12.8-17.7h0"/><path stroke="#10c010" d="M251.6 77.4h0"/><path stroke="#1010e0" d="M207.1 61.3h0m.6 6.2h0"/><path stroke="#10c010" d="M223.2 74.8h0"/><path stroke="#1010e0" d="M206.0 75.6h0"/><path stroke="#10c010" d="M219.7 69.6h0m17 2.4h0"/><path stroke="#1010e0" d="M205.7 61.0h0"/><path stroke="#10c010" d="M224.6 26.4h0m-6.4 48.5h0"/><path stroke="#1010e0" d="M202.6 37.8h0"/><path stroke="#10c010" d="M254.7 55.7h0"/><path stroke="#1010e0" d="M215.1 49.7h0"/><path stroke="#10c010" d="M238.1 33.4h0m-4.2-5h0"/><path stroke="#1010e0" d="M217.3 65.9h0m-9.7-2.1h0m16.3-31.2h0"/><path stroke="#10c010" d="M222.7 71.5h0m10.3-9.3h0"/><path stroke="#1010e0" d="M211.0 69.4h0"/><path stroke="#10c010" d="M223.3 76.4h0m3.1-44.4h0m3.3 34.1h0"/><path stroke="#1010e0" d="M206.4 71.6h0"/><path stroke="#10c010" d="M260.0 76.4h0m-45.2-4.9h0m44.6 .1h0m-35.3-29.1h0m37.6 18.9h0m-15.8-10.4h0"/><path stroke="#1010e0" d="M215.4 32.8h0"/><path stroke="#10c010" d="M228.9 84.1h0m6.2-46.6h0m7.9 16.8h0m-2.3-6.1h0"/><path stroke="#1010e0" d="M221.4 41.7h0"/><path stroke="#10c010" d="M255.1 58.6h0"/><path stroke="#1010e0" d="M220.3 63.7h0m-5.8-3.4h0m-4.9-.8h0"/><path stroke="#10c010" d="M211.3 71.7h0m23.1-5.5h0m-12.6 16.3h0m23.1-49.7h0"/><path stroke="#1010e0" d="M214.0 45.5h0m1 31.7h0m-9 11.9h0m2.2-32.3h0"/><path stroke="#10c010" d="M230.4 24.5h0"/><path stroke="#1010e0" d="M216.6 50.4h0"/><path stroke="#10c010" d="M231.0 79.2h0m-4.1-41.1h0"/><path stroke="#1010e0" d="M213.4 67.0h0"/><path stroke="#10c010" d="M233.3 56.4h0m-3.7 2.3h0"/><path stroke="#1010e0" d="M217.9 67.7h0m-7-21.9h0"/><path stroke="#10c010" d="M255.9 63.4h0"/><path stroke="#1010e0" d="M217.3 68.2h0"/><path stroke="#10c010" d="M223.3 44.5h0m6.2 27h0m-14.5-1.5h0m2.4-.2h0m16.8-44.2h0m-8.2 44.1h0m-1.5 3.9h0m13.4-15h0m-9.2-20.2h0m7.3 15.6h0m-4.8 11.9h0m-4.4-9.8h0m26.5 8h0m-33.1 18.9h0"/><path stroke="#1010e0" d="M219.2 67.9h0"/><path stroke="#10c010" d="M235.3 71.5h0m-6.1 5.6h0m25.9-4.2h0m-27.2-.9h0"/><path stroke="#1010e0" d="M215.7 69.7h0"/><path stroke="#10c010" d="M211.4 78.1h0"/><path stroke="#1010e0" d="M218.3 62.1h0"/><path stroke="#10c010" d="M241.0 75.2h0m-15.1-40.8h0"/><path stroke="#1010e0" d="M214.5 42.0h0m-.1 22.9h0"/><path stroke="#10c010" d="M234.3 76.3h0m15-53.9h0"/><path stroke="#1010e0" d="M209.5 74.5h0"/><path stroke="#10c010" d="M234.8 36.9h0m-10.7 10.9h0m9.3-18.6h0m22.8 25.3h0m-19.1 19.6h0m-10.7-43.8h0m19.9 7.9h0m5.4 38.2h0"/><path stroke="#1010e0" d="M212.9 45.0h0"/><path stroke="#10c010" d="M218.6 85.7h0m41.5-25.9h0"/><path stroke="#1010e0" d="M209.0 55.7h0m5.5 8.4h0m-9.7-4.3h0"/><path stroke="#10c010" d="M232.1 72.8h0"/><path stroke="#1010e0" d="M211.4 59.2h0"/><path stroke="#10c010" d="M234.6 25.7h0m-19.4 48.4h0"/><path stroke="#1010e0" d="M224.2 37.5h0"/><path stroke="#10c010" d="M226.5 91.0h0m13-43h0m4.7-12.8h0m-9 4.9h0m4.6 32.4h0m5.3-24.9h0"/><path stroke="#1010e0" d="M217.9 47.0h0m-12.8 27.7h0m-2.2 6.1h0m16.3-31.3h0m1.1 5.7h0"/><path stroke="#10c010" d="M236.5 23.3h0m29.6 38.8h0m-32.5 .9h0m-17.5 10h0m48.9-9.3h0"/><path stroke="#1010e0" d="M205.7 57.9h0"/><path stroke="#10c010" d="M226.6 72.1h0m2.1 6.4h0m4.5 8.7h0m-1.3-50.3h0"/><path stroke="#1010e0" d="M208.2 49.0h0"/><path stroke="#10c010" d="M233.3 38.8h0"/><path stroke="#1010e0" d="M220.8 29.6h0"/><path stroke="#10c010" d="M240.9 75.2h0m-3.4-16h0"/><path stroke="#1010e0" d="M209.0 81.0h0"/><path stroke="#10c010" d="M227.5 57.0h0m10.5-8h0m3.4 20.6h0"/><path stroke="#1010e0" d="M216.3 52.1h0"/><path stroke="#10c010" d="M234.6 61.2h0"/><path stroke="#1010e0" d="M207.4 46.7h0"/><path stroke="#10c010" d="M247.4 66.3h0m-4.4-10.7h0"/><path stroke="#1010e0" d="M203.4 78.8h0"/><path stroke="#10c010" d="M247.6 44.3h0"/><path stroke="#1010e0" d="M216.3 58.4h0"/><path stroke="#10c010" d="M229.0 26.9h0m22.7 41.5h0m-22.7-3.3h0m10.5 5h0m-25.5 10.3h0m39-19.6h0"/><path stroke="#1010e0" d="M211.5 61.6h0"/><path stroke="#10c010" d="M215.5 72.4h0"/><path stroke="#1010e0" d="M210.7 55.1h0"/><path stroke="#10c010" d="M246.8 38.2h0"/><path stroke="#1010e0" d="M213.0 35.7h0"/><path stroke="#10c010" d="M244.9 68.1h0m-2.9 2.1h0m-.3-34.8h0m-17.9 51h0m27.6-30h0"/><path stroke="#1010e0" d="M209.8 60.6h0"/><path stroke="#10c010" d="M212.7 77.3h0m42.7-22.4h0m-25.2 4.8h0m8.6-16.6h0"/><path stroke="#1010e0" d="M267.6 37.9h0m-47.6-7.2h0"/><path stroke="#10c010" d="M221.0 85.3h0m20.4-52.3h0m-20.9 40.9h0m10 9.4h0m14.4-41.6h0m-12.8 1h0m6.1-3.9h0m9.5-9.5h0m-18.2 24h0m12.7-6.1h0"/><path stroke="#1010e0" d="M213.1 55.5h0"/><path stroke="#10c010" d="M261.2 57.9h0"/><path stroke="#1010e0" d="M212.2 62.3h0"/><path stroke="#10c010" d="M223.9 80.0h0"/><path stroke="#1010e0" d="M207.7 65.0h0"/><path stroke="#10c010" d="M224.0 62.9h0"/><path stroke="#1010e0" d="M216.1 44.2h0"/><path stroke="#10c010" d="M236.8 83.9h0"/><path stroke="#1010e0" d="M216.8 63.7h0m-.5-27.4h0"/><path stroke="#10c010" d="M247.0 31.9h0"/><path stroke="#1010e0" d="M202.0 76.9h0"/><path stroke="#10c010" d="M219.4 83.4h0m15.6-38.7h0m.2-15.9h0m.1 48.7h0"/><path stroke="#1010e0" d="M212.8 32.4h0m.1 43.2h0m9.2-19.7h0m-17.1 15.7h0"/><path stroke="#10c010" d="M250.1 29.2h0m1.6 36.3h0m-10.9-32.8h0m17.5 26.8h0m-9.4-37.9h0m.4 18.9h0m-29.6 46h0"/><path stroke="#1010e0" d="M205.6 56.8h0"/><path stroke="#10c010" d="M233.5 13.5h0m-2.3 60.4h0m-2.4-2.1h0m4.6-29.1h0"/><path stroke="#1010e0" d="M220.1 38.3h0"/><path stroke="#10c010" d="M240.4 28.5h0m22.3 32h0m-27.2 14.4h0m26.4-13.3h0m-33.2 24h0"/><path stroke="#1010e0" d="M215.7 48.6h0"/><path stroke="#10c010" d="M247.2 41.6h0m-29.4 40.3h0m7.6-14.6h0m14.8-21.4h0m-8.2 15h0m28.5-3.1h0"/><path stroke="#1010e0" d="M213.5 68.8h0"/><path stroke="#10c010" d="M226.6 51.5h0m-2.6 27.9h0m1.3-23.8h0m18.1-24.2h0m-12.8 49.6h0m32.2-16.2h0m-35.7 13.3h0m29.1-14.3h0m-33 7.5h0m13.4-40.8h0m-15.5 44h0m-5.9-1.5h0m43.2 .8h0"/><path stroke="#1010e0" d="M217.0 47.2h0"/><path stroke="#10c010" d="M243.1 41.5h0"/><path stroke="#1010e0" d="M210.9 63.5h0m2.2 12.1h0"/><path stroke="#10c010" d="M229.7 40.4h0m20.9-7.3h0"/><path stroke="#1010e0" d="M211.8 31.2h0m9.4 24.9h0m-5.6-13.5h0m-8.6-2.2h0m14.5 23.5h0"/><path stroke="#10c010" d="M230.7 15.4h0m10.9 55.5h0"/><path stroke="#1010e0" d="M208.4 44.6h0"/><path stroke="#10c010" d="M254.3 78.5h0"/><path stroke="#1010e0" d="M215.2 54.6h0m3.9 1.5h0m-5.2 9h0m-9.6-20.6h0"/><path stroke="#10c010" d="M222.2 62.3h0m15.2 4.2h0"/><path stroke="#1010e0" d="M210.6 71.0h0"/><path stroke="#10c010" d="M240.3 45.5h0m21.1 13.8h0m-38-7.5h0m16.4-22h0"/><path stroke="#1010e0" d="M210.4 51.0h0m10.3 8.2h0"/><path stroke="#10c010" d="M225.9 88.1h0"/><path stroke="#1010e0" d="M199.3 87.2h0"/><path stroke="#10c010" d="M225.6 49.9h0"/><path stroke="#1010e0" d="M217.4 64.5h0"/><path stroke="#10c010" d="M248.5 39.6h0m-24.2 17.5h0"/><path stroke="#1010e0" d="M202.6 83.1h0"/><path stroke="#10c010" d="M227.8 67.7h0m-.5 11.7h0m-10.3-8.6h0"/><path stroke="#1010e0" d="M219.1 37.3h0"/><path stroke="#10c010" d="M229.8 69.7h0"/><path stroke="#1010e0" d="M210.8 55.2h0m2.3-12.2h0"/><path stroke="#10c010" d="M240.7 76.5h0m2.6-23.2h0m-13.5 24.1h0m-1.7-33.7h0"/><path stroke="#1010e0" d="M212.3 65.8h0"/><path stroke="#10c010" d="M262.9 57.9h0m-30.8-42.1h0"/><path stroke="#1010e0" d="M202.9 82.5h0"/><path stroke="#10c010" d="M252.7 60.0h0m-32.7 12.5h0"/><path stroke="#1010e0" d="M203.6 76.6h0m7.6-14.9h0"/><path stroke="#10c010" d="M237.7 53.8h0m19.3 10.8h0m-14.9 11.5h0m-2.9-42.5h0"/><path stroke="#1010e0" d="M221.1 52.6h0m-18.2 9.8h0m19.6-36.4h0"/><path stroke="#10c010" d="M233.4 16.9h0m-7.2 62.4h0m9.3-8.1h0m3.4-35.2h0m-10.9 25.1h0m9.3 15.7h0m-7.1-3.3h0m33.6-9h0m-42.6-.2h0m3.1-.1h0m-12.2 9.4h0m30-14.8h0m-22.3 18.2h0m6.1-16.1h0m36.9-.9h0m-17.8-21.3h0"/><path stroke="#1010e0" d="M204.4 43.8h0"/><path stroke="#10c010" d="M257.2 59.8h0m-27.4 22.8h0"/><path stroke="#1010e0" d="M219.2 66.5h0"/><path stroke="#10c010" d="M228.6 32.6h0"/><path stroke="#1010e0" d="M208.2 36.0h0"/><path stroke="#10c010" d="M234.0 28.4h0m-2.6 50.7h0"/><path stroke="#1010e0" d="M212.5 56.4h0m7.3 28.6h0m-.2-24.4h0m-.5-16.7h0"/><path stroke="#10c010" d="M251.8 59.6h0"/><path stroke="#1010e0" d="M203.6 44.6h0m10.4 12.3h0"/><path stroke="#10c010" d="M229.3 71.3h0m-1-17.6h0"/><path stroke="#1010e0" d="M220.4 59.1h0"/><path stroke="#10c010" d="M227.7 40.0h0"/><path stroke="#1010e0" d="M215.4 63.4h0m-3.6-30h0m9.5 3.5h0"/><path stroke="#10c010" d="M241.9 33.8h0m11.9 24.9h0m-6.9 7.4h0"/><path stroke="#1010e0" d="M210.4 62.7h0"/><path stroke="#10c010" d="M237.6 56.4h0m-12.6-29.9h0m10.5 62.2h0"/><path stroke="#1010e0" d="M196.7 86.0h0"/><path stroke="#10c010" d="M233.2 30.4h0m-10.1 51.8h0m-4.7-47.4h0"/><path stroke="#1010e0" d="M209.9 71.3h0"/><path stroke="#10c010" d="M210.3 80.7h0m45.1-15.4h0m-13.9-1.8h0m-4.2 6h0m-1.5-43.5h0m24.6 38.4h0"/><path stroke="#1010e0" d="M210.7 61.9h0"/><path stroke="#10c010" d="M264.9 60.9h0"/><path stroke="#1010e0" d="M213.6 49.5h0"/><path stroke="#10c010" d="M230.3 15.8h0"/><path stroke="#1010e0" d="M204.0 64.8h0"/><path stroke="#10c010" d="M223.8 69.3h0m32.5-13.5h0m-11.6-10.3h0m-4.9 26.2h0m-25.8 8.7h0m34-44.9h0m-.3 3.7h0m10.1 17.1h0m-19.6-30.9h0"/><path stroke="#1010e0" d="M221.9 56.4h0"/><path stroke="#10c010" d="M251.3 55.3h0"/><path stroke="#1010e0" d="M216.0 27.2h0"/><path stroke="#10c010" d="M234.3 32.9h0m-3.9 57.3h0m-14.1-8.1h0m-3.3-.1h0m8 4.7h0m28.4-62h0m-26.4 50h0"/><path stroke="#1010e0" d="M203.8 67.5h0m4.9-11h0"/><path stroke="#10c010" d="M225.4 54.4h0m5.3-9.3h0m16-11.2h0"/><path stroke="#1010e0" d="M219.2 40.6h0"/><path stroke="#10c010" d="M232.2 66.3h0"/><path stroke="#1010e0" d="M220.1 43.2h0"/><path stroke="#10c010" d="M227.2 64.7h0"/><path stroke="#1010e0" d="M214.9 60.8h0"/><path stroke="#10c010" d="M224.3 82.1h0m19.6-51.8h0m-9.2-14.9h0"/><path stroke="#1010e0" d="M208.0 42.4h0"/><path stroke="#10c010" d="M254.9 72.5h0"/><path stroke="#1010e0" d="M222.8 30.5h0"/><path stroke="#10c010" d="M224.5 80.9h0m10.4 8h0m23.4-33.1h0"/><path stroke="#1010e0" d="M208.9 49.0h0m-4.6-10.3h0"/><path stroke="#10c010" d="M229.1 59.1h0m-3-22.9h0m-1.8 27.7h0m10.3-34.5h0m1.1 52.3h0m7-17.1h0m-18.8 19.7h0m-2-26h0m.6 25.5h0m12.6-66.4h0m-1.3-1.1h0m3.7 69.2h0"/><path stroke="#1010e0" d="M213.2 48.5h0m2 10.2h0"/><path stroke="#10c010" d="M236.9 48.6h0m-4.4 15.6h0m-1.7-8.8h0m.3 17h0m3.8-42.9h0m22.6 27.2h0m1.8 .2h0m-32.7 17.3h0"/><path stroke="#1010e0" d="M237.5 24.8h0"/><path stroke="#10c010" d="M231.3 68.6h0m.4-14.5h0"/><path stroke="#1010e0" d="M224.8 26.4h0m-4.9 23.9h0"/><path stroke="#10c010" d="M259.9 62.7h0m.5 6.7h0m-35.7-5.2h0m14.8-1.9h0"/><path stroke="#1010e0" d="M203.6 73.7h0m4.2-27.2h0"/><path stroke="#10c010" d="M251.8 60.9h0m-34.6 24.8h0m17.9-23.8h0"/><path stroke="#1010e0" d="M202.5 82.0h0m4.3-27.4h0m2.6-16.4h0"/><path stroke="#10c010" d="M221.3 81.9h0"/><path stroke="#1010e0" d="M218.1 40.8h0"/><path stroke="#10c010" d="M249.3 27.4h0m3.4 29.4h0"/><path stroke="#1010e0" d="M209.0 75.8h0m7.7-28.5h0m4.8-6.4h0"/><path stroke="#10c010" d="M262.2 60.1h0m-7.9 11.9h0"/><path stroke="#1010e0" d="M216.7 53.6h0"/><path stroke="#10c010" d="M220.2 81.5h0m34.7-25.3h0m-28.6 19.5h0"/><path stroke="#1010e0" d="M219.5 42.4h0"/><path stroke="#10c010" d="M254.6 57.6h0"/><path stroke="#1010e0" d="M214.2 65.4h0m-.4-27.8h0m27.3 18.5h0m-29.4 6.8h0"/><path stroke="#10c010" d="M263.5 66.0h0m-13 7.4h0m-15.7-10.3h0m8 4.1h0m1.8-18h0"/><path stroke="#1010e0" d="M211.4 30.5h0"/><path stroke="#10c010" d="M220.3 75.3h0m44.4-4.8h0m-31.2-27.7h0"/><path stroke="#1010e0" d="M218.5 64.5h0m-5.1 .1h0m-2.6-31h0"/><path stroke="#10c010" d="M229.9 79.2h0m-1.7-15.7h0m4.3 18.8h0m2-13.7h0"/><path stroke="#1010e0" d="M215.3 54.7h0m-10.8-12.8h0"/><path stroke="#10c010" d="M237.1 38.5h0m24 19.4h0m-13.2-19.8h0"/><path stroke="#1010e0" d="M210.1 67.5h0"/><path stroke="#10c010" d="M233.7 61.9h0m24.2 10h0m-2-7.6h0"/><path stroke="#1010e0" d="M205.6 76.6h0"/><path stroke="#10c010" d="M243.3 30.5h0m-12.9 15.4h0m32.8 19.9h0m-23.8-27.9h0m-5 47.6h0m22.5-19.6h0"/><path stroke="#1010e0" d="M201.4 88.6h0m10.2-44.9h0m-7.7 13.1h0m-.1-3.2h0"/><path stroke="#10c010" d="M216.6 77.9h0"/><path stroke="#1010e0" d="M213.8 41.6h0"/><path stroke="#10c010" d="M238.5 55.9h0m-20.1 18.8h0"/><path stroke="#1010e0" d="M201.2 85.2h0m18.3-28.6h0"/><path stroke="#10c010" d="M236.5 84.6h0m-3.6-1.1h0m-16 2h0m25.7-20.9h0m-13.3 13.6h0m31.3-20.8h0m-34.3 16.9h0m17.3-37.2h0m-17.6 46h0m10.2-43.1h0m-7.9 37.6h0m18.6-30.5h0m-13.6-30.3h0m-5.5 24.5h0"/><path stroke="#1010e0" d="M214.2 68.3h0"/><path stroke="#10c010" d="M256.1 65.0h0m-39.8 20.6h0m7.1-18.4h0m4-5h0m-3.5 15.6h0"/><path stroke="#1010e0" d="M209.5 51.9h0"/><path stroke="#10c010" d="M251.1 74.7h0"/><path stroke="#1010e0" d="M216.6 64.5h0"/><path stroke="#10c010" d="M256.0 65.6h0"/><path stroke="#1010e0" d="M211.7 32.8h0"/><path stroke="#10c010" d="M235.2 79.2h0m21.5-18.2h0m-16-20.4h0m-12 46.5h0m-4.2-38.2h0m12.6 29.9h0m-11.6-14.3h0m12.9-40.9h0"/><path stroke="#1010e0" d="M221.2 56.8h0"/><path stroke="#10c010" d="M230.9 38.6h0m-13.7 38.7h0"/><path stroke="#1010e0" d="M211.6 66.4h0"/><path stroke="#10c010" d="M232.7 63.6h0"/><path stroke="#1010e0" d="M206.3 66.9h0"/><path stroke="#10c010" d="M232.4 80.2h0m4.2-56.9h0m12.4 41.9h0m-12.7-4.7h0m-13.7-3.7h0"/><path stroke="#1010e0" d="M207.1 64.4h0"/><path stroke="#10c010" d="M236.3 50.8h0m19.4 10.8h0m-27.3-11.7h0m2.9-5h0m18.2-14.1h0"/><path stroke="#1010e0" d="M217.2 48.1h0m.4 6.5h0"/><path stroke="#10c010" d="M227.7 92.4h0m.7-59.6h0"/><path stroke="#1010e0" d="M208.8 42.5h0"/><path stroke="#10c010" d="M263.6 69.4h0m-3.6-12.3h0"/><path stroke="#1010e0" d="M218.7 41.5h0"/><path stroke="#10c010" d="M233.5 33.5h0m8.3 16.1h0m-12.2 12.7h0m34.3-4.9h0m-38.9-20.5h0m-7.8 40.3h0"/><path stroke="#1010e0" d="M213.8 40.6h0"/><path stroke="#10c010" d="M224.9 80.3h0m14.9-52.7h0m.9 29.9h0"/><path stroke="#1010e0" d="M215.9 33.0h0m-6.2 9.7h0"/><path stroke="#10c010" d="M228.7 30.1h0m5.7 10.6h0m5 25.9h0"/><path stroke="#1010e0" d="M209.4 60.7h0"/><path stroke="#10c010" d="M215.4 74.9h0m9 6.5h0m-2.7 5h0"/><path stroke="#1010e0" d="M204.4 75.7h0"/><path stroke="#10c010" d="M225.0 51.9h0"/><path stroke="#1010e0" d="M202.4 72.6h0"/><path stroke="#10c010" d="M235.6 52.9h0m20.6 7.5h0m-30.5 20.7h0"/><path stroke="#1010e0" d="M206.0 64.0h0"/><path stroke="#10c010" d="M219.9 77.3h0"/><path stroke="#1010e0" d="M227.4 26.1h0m-12.9 40h0"/><path stroke="#10c010" d="M260.8 56.7h0m-47.2 18h0m17.3-15.9h0m16.6-17.8h0m-19 20.2h0m26-1.9h0"/><path stroke="#1010e0" d="M206.8 42.9h0"/><path stroke="#10c010" d="M232.0 49.0h0"/><path stroke="#1010e0" d="M215.0 57.4h0"/><path stroke="#10c010" d="M220.2 77.0h0m14.7-2.5h0"/><path stroke="#1010e0" d="M218.5 47.9h0"/><path stroke="#10c010" d="M235.0 47.0h0m-6.7 24.2h0m29.3 1.8h0"/><path stroke="#1010e0" d="M220.8 30.1h0"/><path stroke="#10c010" d="M224.4 27.9h0m24.2 39.3h0"/><path stroke="#1010e0" d="M207.1 40.6h0m-7.4 41.8h0"/><path stroke="#10c010" d="M242.4 48.1h0m1.3-8.5h0"/><path stroke="#1010e0" d="M212.7 40.0h0"/><path stroke="#10c010" d="M227.5 71.5h0"/><path stroke="#1010e0" d="M209.5 68.2h0"/><path stroke="#10c010" d="M238.6 74.9h0"/><path stroke="#1010e0" d="M208.6 48.9h0"/><path stroke="#10c010" d="M262.2 66.2h0m-6.4 11.7h0m-24.4 7.2h0m8.1-11.5h0m19.3-8.2h0"/><path stroke="#1010e0" d="M199.7 84.8h0"/><path stroke="#10c010" d="M232.5 58.7h0m.4 1.8h0m-1.8 17.5h0m-13.1 .3h0m40.9-7.4h0m1.2-12.2h0m-12.7-31.1h0m-11.3 14.1h0m21.3 23.7h0m-44.4 11.1h0m35.2-8.4h0"/><path stroke="#1010e0" d="M209.2 42.4h0"/><path stroke="#10c010" d="M234.8 84.4h0"/><path stroke="#1010e0" d="M218.1 58.8h0m-3.1 26.8h0m-4.2-39.3h0"/><path stroke="#10c010" d="M240.7 26.3h0m-8.1 44.6h0"/><path stroke="#1010e0" d="M218.9 61.0h0"/><path stroke="#10c010" d="M226.6 65.3h0m10.7-13h0m2.8 7.1h0"/><path stroke="#1010e0" d="M210.3 43.9h0"/><path stroke="#10c010" d="M259.2 60.6h0m-3.1-2.6h0m-23.4-5.7h0"/><path stroke="#1010e0" d="M210.3 66.6h0"/><path stroke="#10c010" d="M224.5 42.5h0m3 9.7h0m8-.9h0m-.4 6.2h0"/><path stroke="#1010e0" d="M209.8 67.8h0"/><path stroke="#10c010" d="M228.2 25.0h0"/><path stroke="#1010e0" d="M215.6 29.9h0"/><path stroke="#10c010" d="M231.2 59.4h0m-10.4 19h0m32.4-10.4h0m-9.5-25.7h0m-9.1 8.4h0m-5-8.9h0"/><path stroke="#1010e0" d="M212.5 32.1h0m-.3 53.4h0"/><path stroke="#10c010" d="M241.7 43.1h0m-19.3 1.3h0"/><path stroke="#1010e0" d="M212.1 63.0h0"/><path stroke="#10c010" d="M254.1 56.4h0m-6.6-20.5h0"/><path stroke="#1010e0" d="M212.2 64.9h0"/><path stroke="#10c010" d="M238.9 40.9h0"/><path stroke="#1010e0" d="M211.6 53.1h0"/><path stroke="#10c010" d="M214.3 72.6h0m.6 12.8h0m3.4-.9h0"/><path stroke="#1010e0" d="M216.1 33.8h0"/><path stroke="#10c010" d="M260.9 56.5h0"/><path stroke="#1010e0" d="M211.7 39.6h0"/><path stroke="#10c010" d="M239.6 74.2h0m6.3-28.3h0m11.4 17.1h0"/><path stroke="#1010e0" d="M206.8 73.9h0m5.2-37.9h0m7.8 29h0m-5.1 3.4h0m-7.1-1.3h0m10.7-40.5h0m-.6 6.5h0m-4.5-1.1h0m-7 18.3h0m-8.2 28.4h0m11.4-14.2h0m8 20.5h0m-4.1-46.9h0m52.8-2.3h0m-45.7 30.8h0m-5.1 .8h0m3.4-11.2h0m-6.7 15.9h0m6.8-22.7h0m-3.7 13.9h0m.6 3.6h0m2.5-8.4h0m.2-19.6h0m-7.6 5.2h0m3.5-1.8h0m-4.8 29.7h0m1.3-30.7h0m.6 28h0m0-35.7h0m-3.5 22.9h0m8.8 10.6h0m-14.6 16.2h0m6.2-27h0m-2.1 7.4h0m3-27h0m13 22.8h0m-3.4 6.1h0m-5.2-32.8h0m9.7 16.5h0m-13.7-12.3h0m-2.4 33.4h0m10.9-14.1h0m-1.8 10.2h0m-11.7 1.5h0m3.9-20.9h0m-1.9 30.9h0m12.4-15h0m2.3-22.9h0m-15.2 32.7h0m4 10h0m10.6-32h0m-8.8-4.4h0m4.9 10h0m-5.1 24.1h0m-1.5-30.2h0m12-12.5h0m-14.4 16.9h0m3.6-19.1h0m-6.8 52.6h0m3.6-14.1h0m1.2 1h0m3.6-29.9h0m6.1 11h0m-.8 3.5h0m-11.5-.6h0m15.4-27.1h0m-8.3 .3h0m2.7 55h0m-6.1-27.1h0m-3.8-3.6h0m-2.3 20.4h0m12-43.5h0m-7.8 6.6h0m4.5 4h0m-7.4 12.6h0m21.2-31.2h0m-7.2 36.4h0m-8.8-20.3h0m4.1-12.3h0m6 .5h0m2.2 8.8h0m-7.4-7.6h0m1.6 21.4h0m-9.8-.2h0m9.9 7.4h0m-5 5.1h0m3.2 16.5h0m-7.2-11.8h0m-2.1-26.7h0m9.4-11.1h0m2.1 29.2h0m-13.2 17.6h0m4.7-23.6h0m-7.6 18h0m12.1 7.6h0m-6.6 5.6h0m6.5-15.9h0m-4.1-20.3h0m-6.1-3.7h0m5.7 22.6h0m11.4-43.3h0m5.6 4h0m-12.2 13.3h0m4.9-1.5h0m19.9 25.3h0m-22.8-3.2h0m2.3-12.8h0m2.3-22.7h0m-6.8 33h0m-12.4 25.2h0m12.7-26.6h0m5.4-27.3h0m-5.6 48.3h0m-5.6-6.8h0m2-13.6h0m4.5-14.8h0m-3.3-16.5h0m-2.3 14.9h0m-2.3 13.1h0m-2.9-11.6h0m9.6-12.1h0m8.4 5h0m-22.9 47.8h0m10.3-18.6h0m5.1-15.7h0m-6.1 34.6h0m5.7-23.5h0m52.9-26.7h0m-56.7 12.3h0m-12.5 36.1h0m10.2-33.8h0m-9.8 25.6h0m21.4-19.7h0m-11.6 25.6h0m4.9-33h0m3.4-1.8h0m-1.4 38.6h0m-5.1-26.7h0m5.2-29h0m7.5-2.4h0m-13.5 29.7h0m3.9 6h0m-2.4-14.4h0m8.7-20.1h0m5 4.5h0m-4.7 15.5h0m-10.4-.8h0m-7.2 20.4h0m21.2-19.9h0m-15.7-14.8h0m10.7 12.9h0m-11.6-15.1h0m0 32.6h0m5.3-26.1h0m4.1 2.9h0m-6.9-3.3h0m3.4 23h0m2.2-1.8h0m-1.2-19.7h0m14.9-12.7h0m-10.3 40.1h0m3.3-4.2h0m-10.3-25.3h0m.2 7.3h0m10.7-6.7h0m-18.7 40.5h0m8.4-19.5h0m-4.9 16h0m-4.5 1.6h0m-.9 6.2h0m4.1-5h0m15.7-40.1h0m-9-.6h0m2.4 24.2h0m-12.9 18.1h0m18.1-47.2h0m-1.7 9.9h0m-4.2 24.1h0m5.8-10.9h0m-16.6-16h0m-1.3 39.1h0m11.7-47.1h0m9.4 23h0m-2.2-6.7h0m-14.2 1h0m-2.4 29.2h0m15.6-33.9h0m3-12h0m-13 52.8h0m3.7-28.3h0m-2.7 4.6h0m-.2 14.1h0m-.6-14.7h0m9 8h0m-15.1 11.2h0m11.6-27.4h0m-1.9 11.2h0m-3.2 1h0m8.7-22.3h0m-15.3 8.3h0m6.5 11.9h0m1-27.7h0m2 23.2h0m-.9 4.9h0m-1-15.1h0m10.4 12.2h0m-10-22.9h0m-3.7 43h0m2.7-36.5h0m13.7-16.4h0m-11 27h0m-7.3-6.5h0m18.8-13.7h0m-8.7-.7h0m4.9 8.7h0m-.8 19.3h0m-14.4 8.2h0m16.4-6h0m-17.9-20.2h0m4.8 19.1h0m-7.9 20.6h0m7.8-36.6h0m7.9-4.1h0m.1-1.2h0m9.9-14.9h0m-21.2 45.8h0m9-5h0m3.7-32.2h0m45.6 1.1h0m-46.4 2.6h0m-2.9 24.2h0m6.6-13.2h0m-5.9 32.6h0m-6.1-1.7h0m3.9-16.2h0m-6.5 14.2h0m6.2-14.9h0m-8.3-15.4h0m5.5 3h0m-2.2 2.6h0m-1.7 15h0m8.3-33.9h0m.8 29h0m-7.7-28.6h0m3 3.9h0m.4-1h0m-14 43.8h0m8.6-34.8h0m-1.2 32.4h0m3.2-11.8h0m8.5-21.1h0m-.4 20.1h0m-9.8-3.9h0m7.3 11h0m.4-17.8h0m-10 21.9h0m13.4-11.5h0m-9.4-13.7h0m4 5h0m-.8-16.5h0m1.2 14.2h0m5.6-16.4h0m5.5 5.2h0m-10.2 29.5h0m9.6-19.5h0m-10.9-16.1h0m-13.4 49.8h0m13.5-14.3h0m11.2-19.4h0m44.5-16.5h0m-57.3 46.6h0m12.3-25.1h0m-23 25.8h0m11.9-47.2h0m-6.5 .7h0m12.9-4.4h0m-4.4 32.7h0m11.7-38.3h0m-17.9 38h0m4.7-24.1h0m-6.3 12.9h0m-2 .3h0m21-23.7h0m-2.9 6.7h0m-3.5 7.5h0m-3.5 22.3h0m-2.9-19h0m-1-14h0m.1 16.1h0m5.2-11h0m-.8 19.3h0m.4-3.2h0m-1.9 4.5h0m13.9-13h0m-11.4-3.5h0m-11.7 12.3h0m-.1 30.4h0m63.1-50.5h0m-58.2 31.2h0m3.2-23.8h0m-3.6 .1h0m.5 33.3h0m-.8-41.5h0m-4 34.4h0m8.2-13.3h0m-5.3-14.4h0m11.4 13.1h0m.6 .2h0m-.2 3.9h0m-15.2 15.6h0m17.1-30.3h0m-18 19.9h0m7.3-30.2h0m-5.7 10.7h0m7.5 11h0m-1.8-11.9h0m-11.5 35.7h0m7.9 5.7h0m5.8-38.7h0m7.6 4.1h0m.3 13.1h0m-14.7 3.5h0m3.5-24.2h0m2.9 23.4h0m.4-23.8h0m-4.6-7.1h0m9.7 2.8h0m-8.8 26.1h0m-2.1-17.2h0m19.9-21.5h0m-6.4 17.8h0m-11.4 8.2h0m1.5 3.5h0m1.9 5.4h0m-5.5 7.8h0m-3 9.2h0m18.8-24.1h0m-10.8 21.8h0m-2.3-11.1h0m3.4-13.3h0m52.2-14.1h0m-57.4 .8h0m-.2 50.5h0m6.2-38.4h0m2.8-4.4h0m-2.4-1.2h0m-1.9 21h0m-6.4-29.4h0m1.8 8.6h0m-8.7 36.1h0m10.4-25.1h0m11.1-5.7h0m-3.3 3.5h0m2.1-13.8h0m-16.1 4.8h0m12.7 24.1h0m-5.7-25.7h0m10.8 .7h0m-7.4 16.9h0m-3.5 19.1h0m-4.2-24.3h0m1.7 12.2h0m6.1 9.8h0m7.6-29h0m-22.3 31.4h0m8.3-22h0m8.9-25.7h0m-4.5 3.1h0m-4 2.3h0m0 22.2h0m5.1-2.5h0m9-7.5h0m-.5 12.3h0m-9 18.5h0m6-13.5h0m-14.9-28.9h0m63-.9h0m-62 40.8h0m9 3.3h0m4.2-19.6h0m-13.4-3.8h0m9.3 11.5h0m-7.7-28.9h0m8.9 1.2h0m-12.6 31.6h0m5.5 8.7h0m-1-9.1h0m5.3-15.9h0m-.6-17.4h0m53.1-3.4h0m-54.7 9.4h0m-5.9 32.1h0m3.5-28.6h0m14.6-2.5h0m-10.5 20.4h0m10.9-21.6h0m1.1-15.4h0m-14.4 55.3h0m3.2-15.2h0m-1.3 1.3h0m11-44.2h0m-9.1 6.6h0m1.6 2.2h0m-3.1 15.5h0m-3.2-8.3h0m8.8 24.8h0m-8.5-5.5h0m9 .2h0m-4.5-20.7h0m-5.8 4.3h0m6.2 19h0m3.1-31.9h0m-12.4 53.2h0m9.2-50h0m-5.1 4.3h0m5.4 3.6h0m.1 6.4h0m-9 14h0m9.2-19.3h0m3.3 5.2h0m-6.6 29.3h0m2.9 4.9h0m-1.1-10.9h0m1.1-37.1h0m8.1 14h0m-19 27.4h0m15-12.1h0m-9.5 12.5h0m3.5-41.1h0m6.5 23.7h0m2.4-28.3h0m-10.6 41.9h0m-.8 1.9h0m8.1-11.7h0m-10.7-8h0m.5 17.6h0m-2.1-18.5h0m13.7-13.4h0m1.3 19.7h0m-14.4-26.5h0m4 13.8h0m2.3 .7h0m56.4-12h0m-55.5 35h0m-3.5-4h0m-3.7 5.2h0m3.3-3.8h0m7.2-32.1h0m-10.3 25h0m5.1-30h0m-5.5 51.5h0m9.6-22.2h0m-7.1-27.2h0m12.9 19.4h0m-22 26.7h0m22.9-21.9h0m10.8 21.2h0m-22.3-28.7h0m14.4-24.3h0m-16.1 4.3h0m-2.5 22.8h0m-1.7 16.1h0m15.9-16.6h0m-7.9-22.5h0m-1.1 50.8h0m-.5-9.9h0m-7.2-4.7h0m17.7-35.7h0m-6.5 14.1h0m-1.1 4.5h0m.5 8.7h0m-5.4-21.9h0m-6.4 34.7h0m13.2-31.4h0m-3.8 2.2h0m-4.5-1.5h0m-5.1 46.3h0m12.9-27.4h0m4.2 3.6h0m1.2-21.3h0m1.6 4.2h0m-4.8 2.5h0m-7.1 11.6h0m1.6-3.6h0m3.8-.2h0m-7.9-12.6h0m12.4 .6h0m-9.9 18h0m-2.1-29.6h0m52.5-4.1h0m-53.4 11.5h0m4.8 41.1h0m-1.6 1.8h0m9.8-41.8h0m-9.1 28h0m8.5-33.8h0m2 49.2h0m-15.9-13.5h0m11.9-45.9h0m-7.6 31.4h0m0 11.9h0m-2.4-8.1h0m2.2-19h0m2.6 18.8h0m-4.7 1.6h0m-8.8 20.6h0m17.5-36.8h0m53.2-8.9h0m-59.1 30.5h0m10.3-23.8h0m-8.7-14.4h0m-.4-.3h0m-6.7 27.6h0m-3.2 14.4h0m-1.2 3.8h0m10-3.2h0m2.8-12h0m-11.4 25.2h0m19.5-47.8h0m-6.5 29.8h0m3.2-8.2h0m4.4-29.5h0m5.6-4h0m-26.4 53.7h0m24.4-50.7h0m-8.9 6.5h0m-1.3 16.5h0m9-21.5h0m-14.9 13.9h0m5.8 2.5h0m-2.1-17.9h0m6.9 3.3h0m.7 2h0m-9.6 35.2h0m-8 11.6h0m7.6-49.7h0m-7.9 47.2h0m11.2-38.9h0m.7 20.2h0m4.3-2h0m-7-2.5h0m-2.3-12.9h0m54.4-7.2h0m-49.6 26.7h0m-8.4-11.9h0m4.7 22.1h0m-3.9-37.6h0m3.6 23.9h0m5 6.4h0m-7.5-24.2h0m3.4 3.1h0m4.1 12.1h0m-11-9.2h0m11.5-9.2h0m-2.4 40.1h0m6.6-43.9h0m-.3 11.9h0m-17.3 36.3h0m8.6-30h0m-2.4 30.6h0m4-17.9h0m1.7-13.2h0m-6.5 2.7h0m-8.8 30h0m21.9-34.9h0m-11.7 23.4h0m-3.9 16.8h0m-1.1-4.5h0m-6.1-7.5h0m15.2-8.6h0m-10.6 14h0m61.8-47.5h0m-58.1 13.2h0m8 1.9h0m.6 6.7h0m-6.7 24.9h0m8.9-39.4h0m-.7-15.8h0m7 9h0m-18.8 12.5h0m-3 30.7h0m1.8-18.6h0m-.1 27.9h0m7.3-43.1h0m6.1 13.8h0m3.9-23.5h0m-12 28.1h0m2.5 3h0m9.5-30.6h0m-11.4-.1h0m-10.1 46.5h0m9.9-20.9h0m-1.7-7h0m-4.1 24.1h0m18.1-21.9h0m4.8-6.4h0m-2.7-12.6h0m-1.9 10.2h0m-12.7 22.2h0m11.2-4.6h0m-1.9-10.2h0"/><path stroke="#1010e0" d="M222.9 34.3h0m-5.5 5.1h0m.6 20.3h0m-8.9 12.1h0m12.9-20.1h0m46.3-12.2h0m-55 7.6h0m-10.1 42.7h0m16.7-21.8h0m-15.7-28.3h0m19.3-9.8h0m-8.2 12.9h0m-4.3-.2h0m-1.3 11.9h0m4.3-22.6h0m7.7-4.6h0m-18.8 45.9h0m9.4-11.1h0m5.1-17.7h0m-3.4 4.9h0m-7.6 24.3h0m6.7-43.7h0m2.9 30.7h0m7.4-9.2h0m-3.3-25.7h0m-12.3 28.6h0m16.7-29.1h0m-20.2 55.6h0m11.6-39h0m10.6-13.6h0m-22.1 48.9h0m8.7-14.6h0m5.7-33h0m-19.5 47.7h0m19.7-22.6h0m-.8-25.6h0m-.7 33.7h0m-.4-25.8h0m-6.3 30.8h0m-3.5-15.8h0m4 14h0m6.2-3.8h0m-10.9-26.4h0m-1.6 15.1h0m10.9 6.4h0m-.1-14h0"/></g></g>
<rect x="173.4" y="9.75" width="114.2" height="113.55" fill="none" stroke="#a8a8a8" stroke-width="0.9"/>
<text transform="matrix(1 0 0 1.18 179.80 135.50)" font-size="7.8" text-anchor="start" fill="#1a1a1a" color="#1a1a1a" >tSNE_CD45 population</text>
<text x="0" y="0" font-size="6.6" fill="#1a1a1a" color="#1a1a1a" text-anchor="middle" transform="translate(167.4,76.2) rotate(-90) scale(1.18,1)">tSNE_CD45 population</text>
<rect x="335.20" y="13.10" width="34.20" height="8.70" fill="#00d000"/>
<rect x="369.40" y="13.10" width="9.60" height="8.70" fill="#0000f5"/>
<rect x="379.00" y="13.10" width="40.80" height="8.70" fill="#ff8400"/>
<line x1="369.40" y1="13.10" x2="369.40" y2="21.80" stroke="#666" stroke-width="0.35"/>
<line x1="379.00" y1="13.10" x2="379.00" y2="21.80" stroke="#666" stroke-width="0.35"/>
<rect x="335.50" y="13.40" width="84.00" height="8.10" fill="none" stroke="#4a4a4a" stroke-width="0.6"/>
<line x1="331.60" y1="17.45" x2="335.20" y2="17.45" stroke="#2a2a2a" stroke-width="0.9"/>
<text transform="matrix(1 0 0 1.18 330.70 20.45)" font-size="7.7" text-anchor="end" fill="#1a1a1a" color="#1a1a1a">BBL- 28.<tspan font-style="italic">mζ</tspan></text>
<rect x="335.20" y="26.95" width="24.20" height="8.70" fill="#00d000"/>
<rect x="359.40" y="26.95" width="10.40" height="8.70" fill="#0000f5"/>
<rect x="369.80" y="26.95" width="50.00" height="8.70" fill="#ff8400"/>
<line x1="359.40" y1="26.95" x2="359.40" y2="35.65" stroke="#666" stroke-width="0.35"/>
<line x1="369.80" y1="26.95" x2="369.80" y2="35.65" stroke="#666" stroke-width="0.35"/>
<rect x="335.50" y="27.25" width="84.00" height="8.10" fill="none" stroke="#4a4a4a" stroke-width="0.6"/>
<line x1="331.60" y1="31.30" x2="335.20" y2="31.30" stroke="#2a2a2a" stroke-width="0.9"/>
<text transform="matrix(1 0 0 1.18 330.70 34.30)" font-size="7.7" text-anchor="end" fill="#1a1a1a" color="#1a1a1a"><tspan font-size="5.8" dy="-2.1">CD8tm</tspan><tspan dy="2.1">BB.</tspan><tspan font-style="italic">ζ</tspan></text>
<rect x="335.20" y="40.80" width="16.00" height="8.70" fill="#00d000"/>
<rect x="351.20" y="40.80" width="8.60" height="8.70" fill="#0000f5"/>
<rect x="359.80" y="40.80" width="60.00" height="8.70" fill="#ff8400"/>
<line x1="351.20" y1="40.80" x2="351.20" y2="49.50" stroke="#666" stroke-width="0.35"/>
<line x1="359.80" y1="40.80" x2="359.80" y2="49.50" stroke="#666" stroke-width="0.35"/>
<rect x="335.50" y="41.10" width="84.00" height="8.10" fill="none" stroke="#4a4a4a" stroke-width="0.6"/>
<line x1="331.60" y1="45.15" x2="335.20" y2="45.15" stroke="#2a2a2a" stroke-width="0.9"/>
<text transform="matrix(1 0 0 1.18 330.70 48.15)" font-size="7.7" text-anchor="end" fill="#1a1a1a" color="#1a1a1a"><tspan font-size="5.8" dy="-2.1">CD8tm</tspan><tspan dy="2.1">BB.</tspan><tspan font-style="italic">mζ</tspan></text>
<rect x="335.20" y="54.65" width="31.90" height="8.70" fill="#00d000"/>
<rect x="367.10" y="54.65" width="10.90" height="8.70" fill="#0000f5"/>
<rect x="378.00" y="54.65" width="41.80" height="8.70" fill="#ff8400"/>
<line x1="367.10" y1="54.65" x2="367.10" y2="63.35" stroke="#666" stroke-width="0.35"/>
<line x1="378.00" y1="54.65" x2="378.00" y2="63.35" stroke="#666" stroke-width="0.35"/>
<rect x="335.50" y="54.95" width="84.00" height="8.10" fill="none" stroke="#4a4a4a" stroke-width="0.6"/>
<line x1="331.60" y1="59.00" x2="335.20" y2="59.00" stroke="#2a2a2a" stroke-width="0.9"/>
<text transform="matrix(1 0 0 1.18 330.70 62.00)" font-size="7.7" text-anchor="end" fill="#1a1a1a" color="#1a1a1a">BB.<tspan font-style="italic">mζ</tspan></text>
<rect x="335.20" y="68.50" width="34.20" height="8.70" fill="#00d000"/>
<rect x="369.40" y="68.50" width="10.60" height="8.70" fill="#0000f5"/>
<rect x="380.00" y="68.50" width="39.80" height="8.70" fill="#ff8400"/>
<line x1="369.40" y1="68.50" x2="369.40" y2="77.20" stroke="#666" stroke-width="0.35"/>
<line x1="380.00" y1="68.50" x2="380.00" y2="77.20" stroke="#666" stroke-width="0.35"/>
<rect x="335.50" y="68.80" width="84.00" height="8.10" fill="none" stroke="#4a4a4a" stroke-width="0.6"/>
<line x1="331.60" y1="72.85" x2="335.20" y2="72.85" stroke="#2a2a2a" stroke-width="0.9"/>
<text transform="matrix(1 0 0 1.18 330.70 75.85)" font-size="7.7" text-anchor="end" fill="#1a1a1a" color="#1a1a1a">28.<tspan font-style="italic">ζ</tspan></text>
<rect x="335.20" y="82.35" width="19.80" height="8.70" fill="#00d000"/>
<rect x="355.00" y="82.35" width="9.00" height="8.70" fill="#0000f5"/>
<rect x="364.00" y="82.35" width="55.80" height="8.70" fill="#ff8400"/>
<line x1="355.00" y1="82.35" x2="355.00" y2="91.05" stroke="#666" stroke-width="0.35"/>
<line x1="364.00" y1="82.35" x2="364.00" y2="91.05" stroke="#666" stroke-width="0.35"/>
<rect x="335.50" y="82.65" width="84.00" height="8.10" fill="none" stroke="#4a4a4a" stroke-width="0.6"/>
<line x1="331.60" y1="86.70" x2="335.20" y2="86.70" stroke="#2a2a2a" stroke-width="0.9"/>
<text transform="matrix(1 0 0 1.18 330.70 89.70)" font-size="7.7" text-anchor="end" fill="#1a1a1a" color="#1a1a1a">Ctrl</text>
<rect x="335.20" y="96.20" width="64.40" height="8.70" fill="#00d000"/>
<rect x="399.60" y="96.20" width="5.40" height="8.70" fill="#0000f5"/>
<rect x="405.00" y="96.20" width="14.80" height="8.70" fill="#ff8400"/>
<line x1="399.60" y1="96.20" x2="399.60" y2="104.90" stroke="#666" stroke-width="0.35"/>
<line x1="405.00" y1="96.20" x2="405.00" y2="104.90" stroke="#666" stroke-width="0.35"/>
<rect x="335.50" y="96.50" width="84.00" height="8.10" fill="none" stroke="#4a4a4a" stroke-width="0.6"/>
<line x1="331.60" y1="100.55" x2="335.20" y2="100.55" stroke="#2a2a2a" stroke-width="0.9"/>
<text transform="matrix(1 0 0 1.18 330.70 103.55)" font-size="7.7" text-anchor="end" fill="#1a1a1a" color="#1a1a1a">WT</text>
<line x1="379.00" y1="17.45" x2="384.50" y2="17.45" stroke="#333" stroke-width="0.5"/>
<line x1="384.50" y1="16.25" x2="384.50" y2="18.65" stroke="#333" stroke-width="0.5"/>
<line x1="419.80" y1="17.45" x2="426.00" y2="17.45" stroke="#333" stroke-width="0.5"/>
<line x1="426.00" y1="16.25" x2="426.00" y2="18.65" stroke="#333" stroke-width="0.5"/>
<line x1="419.80" y1="72.85" x2="423.50" y2="72.85" stroke="#333" stroke-width="0.5"/>
<line x1="423.50" y1="71.65" x2="423.50" y2="74.05" stroke="#333" stroke-width="0.5"/>
<line x1="419.80" y1="100.55" x2="422.00" y2="100.55" stroke="#333" stroke-width="0.5"/>
<line x1="422.00" y1="99.35" x2="422.00" y2="101.75" stroke="#333" stroke-width="0.5"/>
<line x1="335.20" y1="7.80" x2="335.20" y2="110.00" stroke="#555555" stroke-width="0.8"/>
<line x1="334.80" y1="109.60" x2="436.50" y2="109.60" stroke="#555555" stroke-width="0.8"/>
<line x1="335.30" y1="109.60" x2="335.30" y2="113.00" stroke="#555555" stroke-width="0.7"/>
<line x1="356.35" y1="109.60" x2="356.35" y2="111.50" stroke="#555555" stroke-width="0.7"/>
<line x1="377.40" y1="109.60" x2="377.40" y2="113.00" stroke="#555555" stroke-width="0.7"/>
<line x1="398.45" y1="109.60" x2="398.45" y2="111.50" stroke="#555555" stroke-width="0.7"/>
<line x1="419.50" y1="109.60" x2="419.50" y2="113.00" stroke="#555555" stroke-width="0.7"/>
<text transform="matrix(1 0 0 1.18 335.30 122.60)" font-size="7.9" text-anchor="middle" fill="#1a1a1a" color="#1a1a1a" >0</text>
<text transform="matrix(1 0 0 1.18 377.40 122.60)" font-size="7.9" text-anchor="middle" fill="#1a1a1a" color="#1a1a1a" >50</text>
<text transform="matrix(1 0 0 1.18 419.50 122.60)" font-size="7.9" text-anchor="middle" fill="#1a1a1a" color="#1a1a1a" >100</text>
<text transform="matrix(1 0 0 1.18 334.80 135.00)" font-size="8.1" text-anchor="start" fill="#1a1a1a" color="#1a1a1a" >Fraction of CD45+ Cells (%)</text>
<rect x="445.00" y="43.30" width="11.30" height="4.00" fill="#00d000" stroke="#4a4a4a" stroke-width="0.5"/>
<text transform="matrix(1 0 0 1.18 462.00 47.70)" font-size="6.7" text-anchor="start" fill="#1a1a1a" color="#1a1a1a" style="stroke-width:0">Microglia</text>
<rect x="445.00" y="55.40" width="11.30" height="4.00" fill="#0000f5" stroke="#4a4a4a" stroke-width="0.5"/>
<text transform="matrix(1 0 0 1.18 462.00 59.80)" font-size="6.7" text-anchor="start" fill="#1a1a1a" color="#1a1a1a" style="stroke-width:0">Activated Microglia</text>
<rect x="445.00" y="67.50" width="11.30" height="4.00" fill="#ff8400" stroke="#4a4a4a" stroke-width="0.5"/>
<text transform="matrix(1 0 0 1.18 462.00 71.90)" font-size="6.7" text-anchor="start" fill="#1a1a1a" color="#1a1a1a" style="stroke-width:0">Immune Infiltrates</text>
<text transform="matrix(1 0 0 1.12 0.70 158.30)" font-size="9.3" text-anchor="start" fill="#000" color="#000" font-weight="bold" >C</text>
<rect x="45.40" y="172.00" width="44.60" height="8.70" fill="#a0a0a0"/>
<rect x="90.00" y="172.00" width="13.00" height="8.70" fill="#ff0f82"/>
<rect x="103.00" y="172.00" width="24.20" height="8.70" fill="#ffff99"/>
<rect x="127.20" y="172.00" width="4.00" height="8.70" fill="#00cc00"/>
<rect x="131.20" y="172.00" width="1.30" height="8.70" fill="#99c8ff"/>
<rect x="132.50" y="172.00" width="1.30" height="8.70" fill="#a0f8e0"/>
<rect x="133.80" y="172.00" width="3.10" height="8.70" fill="#ffdfbf"/>
<rect x="136.90" y="172.00" width="1.60" height="8.70" fill="#ff5a00"/>
<line x1="90.00" y1="172.00" x2="90.00" y2="180.70" stroke="#666" stroke-width="0.35"/>
<line x1="103.00" y1="172.00" x2="103.00" y2="180.70" stroke="#666" stroke-width="0.35"/>
<line x1="127.20" y1="172.00" x2="127.20" y2="180.70" stroke="#666" stroke-width="0.35"/>
<line x1="131.20" y1="172.00" x2="131.20" y2="180.70" stroke="#666" stroke-width="0.35"/>
<line x1="132.50" y1="172.00" x2="132.50" y2="180.70" stroke="#666" stroke-width="0.35"/>
<line x1="133.80" y1="172.00" x2="133.80" y2="180.70" stroke="#666" stroke-width="0.35"/>
<line x1="136.90" y1="172.00" x2="136.90" y2="180.70" stroke="#666" stroke-width="0.35"/>
<rect x="45.70" y="172.30" width="92.50" height="8.10" fill="none" stroke="#4a4a4a" stroke-width="0.6"/>
<line x1="41.80" y1="176.35" x2="45.40" y2="176.35" stroke="#2a2a2a" stroke-width="0.9"/>
<text transform="matrix(1 0 0 1.18 40.90 179.35)" font-size="7.7" text-anchor="end" fill="#1a1a1a" color="#1a1a1a">BBL- 28.<tspan font-style="italic">mζ</tspan></text>
<rect x="45.40" y="185.98" width="36.50" height="8.70" fill="#a0a0a0"/>
<rect x="81.90" y="185.98" width="26.50" height="8.70" fill="#ff0f82"/>
<rect x="108.40" y="185.98" width="13.50" height="8.70" fill="#ffff99"/>
<rect x="121.90" y="185.98" width="0.80" height="8.70" fill="#00cc00"/>
<rect x="122.70" y="185.98" width="1.30" height="8.70" fill="#8a00cc"/>
<rect x="124.00" y="185.98" width="1.60" height="8.70" fill="#99c8ff"/>
<rect x="125.60" y="185.98" width="7.10" height="8.70" fill="#a0f8e0"/>
<rect x="132.70" y="185.98" width="6.00" height="8.70" fill="#ffdfbf"/>
<rect x="138.70" y="185.98" width="0.70" height="8.70" fill="#ff5a00"/>
<line x1="81.90" y1="185.98" x2="81.90" y2="194.68" stroke="#666" stroke-width="0.35"/>
<line x1="108.40" y1="185.98" x2="108.40" y2="194.68" stroke="#666" stroke-width="0.35"/>
<line x1="121.90" y1="185.98" x2="121.90" y2="194.68" stroke="#666" stroke-width="0.35"/>
<line x1="122.70" y1="185.98" x2="122.70" y2="194.68" stroke="#666" stroke-width="0.35"/>
<line x1="124.00" y1="185.98" x2="124.00" y2="194.68" stroke="#666" stroke-width="0.35"/>
<line x1="125.60" y1="185.98" x2="125.60" y2="194.68" stroke="#666" stroke-width="0.35"/>
<line x1="132.70" y1="185.98" x2="132.70" y2="194.68" stroke="#666" stroke-width="0.35"/>
<line x1="138.70" y1="185.98" x2="138.70" y2="194.68" stroke="#666" stroke-width="0.35"/>
<rect x="45.70" y="186.28" width="93.40" height="8.10" fill="none" stroke="#4a4a4a" stroke-width="0.6"/>
<line x1="41.80" y1="190.33" x2="45.40" y2="190.33" stroke="#2a2a2a" stroke-width="0.9"/>
<text transform="matrix(1 0 0 1.18 40.90 193.33)" font-size="7.7" text-anchor="end" fill="#1a1a1a" color="#1a1a1a"><tspan font-size="5.8" dy="-2.1">CD8tm</tspan><tspan dy="2.1">BB.</tspan><tspan font-style="italic">ζ</tspan></text>
<rect x="45.40" y="199.96" width="34.90" height="8.70" fill="#a0a0a0"/>
<rect x="80.30" y="199.96" width="22.80" height="8.70" fill="#ff0f82"/>
<rect x="103.10" y="199.96" width="15.40" height="8.70" fill="#ffff99"/>
<rect x="118.50" y="199.96" width="3.40" height="8.70" fill="#00cc00"/>
<rect x="121.90" y="199.96" width="1.20" height="8.70" fill="#99c8ff"/>
<rect x="123.10" y="199.96" width="3.10" height="8.70" fill="#a0f8e0"/>
<rect x="126.20" y="199.96" width="16.90" height="8.70" fill="#ffdfbf"/>
<rect x="143.10" y="199.96" width="1.60" height="8.70" fill="#ff5a00"/>
<line x1="80.30" y1="199.96" x2="80.30" y2="208.66" stroke="#666" stroke-width="0.35"/>
<line x1="103.10" y1="199.96" x2="103.10" y2="208.66" stroke="#666" stroke-width="0.35"/>
<line x1="118.50" y1="199.96" x2="118.50" y2="208.66" stroke="#666" stroke-width="0.35"/>
<line x1="121.90" y1="199.96" x2="121.90" y2="208.66" stroke="#666" stroke-width="0.35"/>
<line x1="123.10" y1="199.96" x2="123.10" y2="208.66" stroke="#666" stroke-width="0.35"/>
<line x1="126.20" y1="199.96" x2="126.20" y2="208.66" stroke="#666" stroke-width="0.35"/>
<line x1="143.10" y1="199.96" x2="143.10" y2="208.66" stroke="#666" stroke-width="0.35"/>
<rect x="45.70" y="200.26" width="98.70" height="8.10" fill="none" stroke="#4a4a4a" stroke-width="0.6"/>
<line x1="41.80" y1="204.31" x2="45.40" y2="204.31" stroke="#2a2a2a" stroke-width="0.9"/>
<text transform="matrix(1 0 0 1.18 40.90 207.31)" font-size="7.7" text-anchor="end" fill="#1a1a1a" color="#1a1a1a"><tspan font-size="5.8" dy="-2.1">CD8tm</tspan><tspan dy="2.1">BB.</tspan><tspan font-style="italic">mζ</tspan></text>
<rect x="45.40" y="213.94" width="41.10" height="8.70" fill="#a0a0a0"/>
<rect x="86.50" y="213.94" width="28.20" height="8.70" fill="#ff0f82"/>
<rect x="114.70" y="213.94" width="8.00" height="8.70" fill="#ffff99"/>
<rect x="122.70" y="213.94" width="1.70" height="8.70" fill="#8a00cc"/>
<rect x="124.40" y="213.94" width="4.10" height="8.70" fill="#a0f8e0"/>
<rect x="128.50" y="213.94" width="13.40" height="8.70" fill="#ffdfbf"/>
<rect x="141.90" y="213.94" width="2.50" height="8.70" fill="#ff5a00"/>
<line x1="86.50" y1="213.94" x2="86.50" y2="222.64" stroke="#666" stroke-width="0.35"/>
<line x1="114.70" y1="213.94" x2="114.70" y2="222.64" stroke="#666" stroke-width="0.35"/>
<line x1="122.70" y1="213.94" x2="122.70" y2="222.64" stroke="#666" stroke-width="0.35"/>
<line x1="124.40" y1="213.94" x2="124.40" y2="222.64" stroke="#666" stroke-width="0.35"/>
<line x1="128.50" y1="213.94" x2="128.50" y2="222.64" stroke="#666" stroke-width="0.35"/>
<line x1="141.90" y1="213.94" x2="141.90" y2="222.64" stroke="#666" stroke-width="0.35"/>
<rect x="45.70" y="214.24" width="98.40" height="8.10" fill="none" stroke="#4a4a4a" stroke-width="0.6"/>
<line x1="41.80" y1="218.29" x2="45.40" y2="218.29" stroke="#2a2a2a" stroke-width="0.9"/>
<text transform="matrix(1 0 0 1.18 40.90 221.29)" font-size="7.7" text-anchor="end" fill="#1a1a1a" color="#1a1a1a">BB.<tspan font-style="italic">mζ</tspan></text>
<rect x="45.40" y="227.92" width="47.10" height="8.70" fill="#a0a0a0"/>
<rect x="92.50" y="227.92" width="13.70" height="8.70" fill="#ff0f82"/>
<rect x="106.20" y="227.92" width="21.90" height="8.70" fill="#ffff99"/>
<rect x="128.10" y="227.92" width="1.90" height="8.70" fill="#00cc00"/>
<rect x="130.00" y="227.92" width="2.50" height="8.70" fill="#a0f8e0"/>
<rect x="132.50" y="227.92" width="3.70" height="8.70" fill="#ffdfbf"/>
<rect x="136.20" y="227.92" width="1.90" height="8.70" fill="#ff5a00"/>
<line x1="92.50" y1="227.92" x2="92.50" y2="236.62" stroke="#666" stroke-width="0.35"/>
<line x1="106.20" y1="227.92" x2="106.20" y2="236.62" stroke="#666" stroke-width="0.35"/>
<line x1="128.10" y1="227.92" x2="128.10" y2="236.62" stroke="#666" stroke-width="0.35"/>
<line x1="130.00" y1="227.92" x2="130.00" y2="236.62" stroke="#666" stroke-width="0.35"/>
<line x1="132.50" y1="227.92" x2="132.50" y2="236.62" stroke="#666" stroke-width="0.35"/>
<line x1="136.20" y1="227.92" x2="136.20" y2="236.62" stroke="#666" stroke-width="0.35"/>
<rect x="45.70" y="228.22" width="92.10" height="8.10" fill="none" stroke="#4a4a4a" stroke-width="0.6"/>
<line x1="41.80" y1="232.27" x2="45.40" y2="232.27" stroke="#2a2a2a" stroke-width="0.9"/>
<text transform="matrix(1 0 0 1.18 40.90 235.27)" font-size="7.7" text-anchor="end" fill="#1a1a1a" color="#1a1a1a">28.<tspan font-style="italic">ζ</tspan></text>
<rect x="45.40" y="241.90" width="39.30" height="8.70" fill="#a0a0a0"/>
<rect x="84.70" y="241.90" width="25.50" height="8.70" fill="#ff0f82"/>
<rect x="110.20" y="241.90" width="13.90" height="8.70" fill="#ffff99"/>
<rect x="124.10" y="241.90" width="1.30" height="8.70" fill="#00cc00"/>
<rect x="125.40" y="241.90" width="0.80" height="8.70" fill="#8a00cc"/>
<rect x="126.20" y="241.90" width="1.00" height="8.70" fill="#99c8ff"/>
<rect x="127.20" y="241.90" width="5.00" height="8.70" fill="#a0f8e0"/>
<rect x="132.20" y="241.90" width="6.80" height="8.70" fill="#ffdfbf"/>
<line x1="84.70" y1="241.90" x2="84.70" y2="250.60" stroke="#666" stroke-width="0.35"/>
<line x1="110.20" y1="241.90" x2="110.20" y2="250.60" stroke="#666" stroke-width="0.35"/>
<line x1="124.10" y1="241.90" x2="124.10" y2="250.60" stroke="#666" stroke-width="0.35"/>
<line x1="125.40" y1="241.90" x2="125.40" y2="250.60" stroke="#666" stroke-width="0.35"/>
<line x1="126.20" y1="241.90" x2="126.20" y2="250.60" stroke="#666" stroke-width="0.35"/>
<line x1="127.20" y1="241.90" x2="127.20" y2="250.60" stroke="#666" stroke-width="0.35"/>
<line x1="132.20" y1="241.90" x2="132.20" y2="250.60" stroke="#666" stroke-width="0.35"/>
<rect x="45.70" y="242.20" width="93.00" height="8.10" fill="none" stroke="#4a4a4a" stroke-width="0.6"/>
<line x1="41.80" y1="246.25" x2="45.40" y2="246.25" stroke="#2a2a2a" stroke-width="0.9"/>
<text transform="matrix(1 0 0 1.18 40.90 249.25)" font-size="7.7" text-anchor="end" fill="#1a1a1a" color="#1a1a1a">Ctrl</text>
<rect x="45.40" y="255.88" width="72.70" height="8.70" fill="#a0a0a0"/>
<rect x="118.10" y="255.88" width="5.60" height="8.70" fill="#ff0f82"/>
<rect x="123.70" y="255.88" width="6.50" height="8.70" fill="#ffff99"/>
<rect x="130.20" y="255.88" width="1.70" height="8.70" fill="#00cc00"/>
<rect x="131.90" y="255.88" width="0.80" height="8.70" fill="#8a00cc"/>
<rect x="132.70" y="255.88" width="2.30" height="8.70" fill="#99c8ff"/>
<rect x="135.00" y="255.88" width="1.30" height="8.70" fill="#a0f8e0"/>
<rect x="136.30" y="255.88" width="1.80" height="8.70" fill="#ffdfbf"/>
<line x1="118.10" y1="255.88" x2="118.10" y2="264.58" stroke="#666" stroke-width="0.35"/>
<line x1="123.70" y1="255.88" x2="123.70" y2="264.58" stroke="#666" stroke-width="0.35"/>
<line x1="130.20" y1="255.88" x2="130.20" y2="264.58" stroke="#666" stroke-width="0.35"/>
<line x1="131.90" y1="255.88" x2="131.90" y2="264.58" stroke="#666" stroke-width="0.35"/>
<line x1="132.70" y1="255.88" x2="132.70" y2="264.58" stroke="#666" stroke-width="0.35"/>
<line x1="135.00" y1="255.88" x2="135.00" y2="264.58" stroke="#666" stroke-width="0.35"/>
<line x1="136.30" y1="255.88" x2="136.30" y2="264.58" stroke="#666" stroke-width="0.35"/>
<rect x="45.70" y="256.18" width="92.10" height="8.10" fill="none" stroke="#4a4a4a" stroke-width="0.6"/>
<line x1="41.80" y1="260.23" x2="45.40" y2="260.23" stroke="#2a2a2a" stroke-width="0.9"/>
<text transform="matrix(1 0 0 1.18 40.90 263.23)" font-size="7.7" text-anchor="end" fill="#1a1a1a" color="#1a1a1a">WT</text>
<line x1="90.00" y1="176.35" x2="95.00" y2="176.35" stroke="#333" stroke-width="0.5"/>
<line x1="95.00" y1="175.15" x2="95.00" y2="177.55" stroke="#333" stroke-width="0.5"/>
<line x1="103.00" y1="176.35" x2="104.00" y2="176.35" stroke="#333" stroke-width="0.5"/>
<line x1="104.00" y1="175.15" x2="104.00" y2="177.55" stroke="#333" stroke-width="0.5"/>
<line x1="80.30" y1="204.31" x2="87.00" y2="204.31" stroke="#333" stroke-width="0.5"/>
<line x1="87.00" y1="203.11" x2="87.00" y2="205.51" stroke="#333" stroke-width="0.5"/>
<line x1="103.10" y1="204.31" x2="111.50" y2="204.31" stroke="#333" stroke-width="0.5"/>
<line x1="111.50" y1="203.11" x2="111.50" y2="205.51" stroke="#333" stroke-width="0.5"/>
<line x1="144.70" y1="204.31" x2="146.30" y2="204.31" stroke="#333" stroke-width="0.5"/>
<line x1="146.30" y1="203.11" x2="146.30" y2="205.51" stroke="#333" stroke-width="0.5"/>
<line x1="86.50" y1="218.29" x2="90.00" y2="218.29" stroke="#333" stroke-width="0.5"/>
<line x1="90.00" y1="217.09" x2="90.00" y2="219.49" stroke="#333" stroke-width="0.5"/>
<line x1="84.70" y1="246.25" x2="93.00" y2="246.25" stroke="#333" stroke-width="0.5"/>
<line x1="93.00" y1="245.05" x2="93.00" y2="247.45" stroke="#333" stroke-width="0.5"/>
<line x1="110.20" y1="246.25" x2="120.00" y2="246.25" stroke="#333" stroke-width="0.5"/>
<line x1="120.00" y1="245.05" x2="120.00" y2="247.45" stroke="#333" stroke-width="0.5"/>
<line x1="139.00" y1="246.25" x2="142.20" y2="246.25" stroke="#333" stroke-width="0.5"/>
<line x1="142.20" y1="245.05" x2="142.20" y2="247.45" stroke="#333" stroke-width="0.5"/>
<line x1="118.10" y1="260.23" x2="120.00" y2="260.23" stroke="#333" stroke-width="0.5"/>
<line x1="120.00" y1="259.03" x2="120.00" y2="261.43" stroke="#333" stroke-width="0.5"/>
<line x1="138.50" y1="176.35" x2="139.60" y2="176.35" stroke="#333" stroke-width="0.5"/>
<line x1="139.60" y1="175.15" x2="139.60" y2="177.55" stroke="#333" stroke-width="0.5"/>
<line x1="139.40" y1="190.33" x2="140.60" y2="190.33" stroke="#333" stroke-width="0.5"/>
<line x1="140.60" y1="189.13" x2="140.60" y2="191.53" stroke="#333" stroke-width="0.5"/>
<line x1="144.40" y1="218.29" x2="145.60" y2="218.29" stroke="#333" stroke-width="0.5"/>
<line x1="145.60" y1="217.09" x2="145.60" y2="219.49" stroke="#333" stroke-width="0.5"/>
<line x1="138.10" y1="232.27" x2="139.40" y2="232.27" stroke="#333" stroke-width="0.5"/>
<line x1="139.40" y1="231.07" x2="139.40" y2="233.47" stroke="#333" stroke-width="0.5"/>
<line x1="138.10" y1="260.23" x2="140.20" y2="260.23" stroke="#333" stroke-width="0.5"/>
<line x1="140.20" y1="259.03" x2="140.20" y2="261.43" stroke="#333" stroke-width="0.5"/>
<line x1="108.40" y1="190.33" x2="109.20" y2="190.33" stroke="#333" stroke-width="0.5"/>
<line x1="109.20" y1="189.13" x2="109.20" y2="191.53" stroke="#333" stroke-width="0.5"/>
<line x1="106.20" y1="232.27" x2="107.20" y2="232.27" stroke="#333" stroke-width="0.5"/>
<line x1="107.20" y1="231.07" x2="107.20" y2="233.47" stroke="#333" stroke-width="0.5"/>
<line x1="127.20" y1="176.35" x2="128.00" y2="176.35" stroke="#333" stroke-width="0.5"/>
<line x1="128.00" y1="175.15" x2="128.00" y2="177.55" stroke="#333" stroke-width="0.5"/>
<line x1="124.10" y1="246.25" x2="125.00" y2="246.25" stroke="#333" stroke-width="0.5"/>
<line x1="125.00" y1="245.05" x2="125.00" y2="247.45" stroke="#333" stroke-width="0.5"/>
<line x1="45.40" y1="167.30" x2="45.40" y2="270.10" stroke="#555555" stroke-width="0.8"/>
<line x1="45.00" y1="269.70" x2="145.50" y2="269.70" stroke="#555555" stroke-width="0.8"/>
<line x1="45.50" y1="269.70" x2="45.50" y2="273.10" stroke="#555555" stroke-width="0.7"/>
<line x1="68.62" y1="269.70" x2="68.62" y2="271.60" stroke="#555555" stroke-width="0.7"/>
<line x1="91.75" y1="269.70" x2="91.75" y2="273.10" stroke="#555555" stroke-width="0.7"/>
<line x1="114.88" y1="269.70" x2="114.88" y2="271.60" stroke="#555555" stroke-width="0.7"/>
<line x1="138.00" y1="269.70" x2="138.00" y2="273.10" stroke="#555555" stroke-width="0.7"/>
<text transform="matrix(1 0 0 1.18 45.50 280.90)" font-size="7.9" text-anchor="middle" fill="#1a1a1a" color="#1a1a1a" >0</text>
<text transform="matrix(1 0 0 1.18 91.75 280.90)" font-size="7.9" text-anchor="middle" fill="#1a1a1a" color="#1a1a1a" >50</text>
<text transform="matrix(1 0 0 1.18 138.00 280.90)" font-size="7.9" text-anchor="middle" fill="#1a1a1a" color="#1a1a1a" >100</text>
<text transform="matrix(1 0 0 1.18 45.70 294.00)" font-size="8.1" text-anchor="start" fill="#1a1a1a" color="#1a1a1a" >Fraction of CD45+ Cells (%)</text>
<rect x="157.30" y="176.60" width="11.60" height="3.50" fill="#ff5a00" stroke="#4a4a4a" stroke-width="0.5"/>
<text transform="matrix(1 0 0 1.18 175.00 180.75)" font-size="6.75" text-anchor="start" fill="#1a1a1a" color="#1a1a1a" style="stroke-width:0">CAR T cells</text>
<rect x="157.30" y="186.82" width="11.60" height="3.50" fill="#ffdfbf" stroke="#4a4a4a" stroke-width="0.5"/>
<text transform="matrix(1 0 0 1.18 175.00 190.97)" font-size="6.75" text-anchor="start" fill="#1a1a1a" color="#1a1a1a" style="stroke-width:0">T Lymphocytes</text>
<rect x="157.30" y="197.04" width="11.60" height="3.50" fill="#a0f8e0" stroke="#4a4a4a" stroke-width="0.5"/>
<text transform="matrix(1 0 0 1.18 175.00 201.19)" font-size="6.75" text-anchor="start" fill="#1a1a1a" color="#1a1a1a" style="stroke-width:0">NK cells</text>
<rect x="157.30" y="207.26" width="11.60" height="3.50" fill="#99c8ff" stroke="#4a4a4a" stroke-width="0.5"/>
<text transform="matrix(1 0 0 1.18 175.00 211.41)" font-size="6.75" text-anchor="start" fill="#1a1a1a" color="#1a1a1a" style="stroke-width:0">B Lymphocytes</text>
<rect x="157.30" y="217.48" width="11.60" height="3.50" fill="#8a00cc" stroke="#4a4a4a" stroke-width="0.5"/>
<text transform="matrix(1 0 0 1.18 175.00 221.63)" font-size="6.75" text-anchor="start" fill="#1a1a1a" color="#1a1a1a" style="stroke-width:0">Neutrophils</text>
<rect x="157.30" y="227.70" width="11.60" height="3.50" fill="#00cc00" stroke="#4a4a4a" stroke-width="0.5"/>
<text transform="matrix(1 0 0 1.18 175.00 231.85)" font-size="6.75" text-anchor="start" fill="#1a1a1a" color="#1a1a1a" style="stroke-width:0">Eosinophils</text>
<rect x="157.30" y="237.92" width="11.60" height="3.50" fill="#ffff99" stroke="#4a4a4a" stroke-width="0.5"/>
<text transform="matrix(1 0 0 1.18 175.00 242.07)" font-size="6.75" text-anchor="start" fill="#1a1a1a" color="#1a1a1a" style="stroke-width:0">Dendritic cells</text>
<rect x="157.30" y="248.14" width="11.60" height="3.50" fill="#ff0f82" stroke="#4a4a4a" stroke-width="0.5"/>
<text transform="matrix(1 0 0 1.18 175.00 252.29)" font-size="6.75" text-anchor="start" fill="#1a1a1a" color="#1a1a1a" style="stroke-width:0">Macrophages</text>
<rect x="157.30" y="258.36" width="11.60" height="3.50" fill="#a0a0a0" stroke="#4a4a4a" stroke-width="0.5"/>
<text transform="matrix(1 0 0 1.18 175.00 262.51)" font-size="6.75" text-anchor="start" fill="#1a1a1a" color="#1a1a1a" style="stroke-width:0">Microglia</text>
<text transform="matrix(1 0 0 1.0 236.40 158.50)" font-size="10.7" text-anchor="start" fill="#000" color="#000" font-weight="bold" >D</text>
<rect x="277.40" y="172.75" width="1.40" height="10.50" fill="#939393"/>
<rect x="278.80" y="172.75" width="4.30" height="10.50" fill="#44eeaa"/>
<rect x="283.10" y="172.75" width="2.20" height="10.50" fill="#00b800"/>
<rect x="285.30" y="172.75" width="37.80" height="10.50" fill="#c2c2ff"/>
<rect x="323.10" y="172.75" width="5.00" height="10.50" fill="#8a8aff"/>
<rect x="328.10" y="172.75" width="9.00" height="10.50" fill="#4c4cf2"/>
<rect x="337.10" y="172.75" width="3.90" height="10.50" fill="#0000ee"/>
<rect x="341.00" y="172.75" width="11.20" height="10.50" fill="#f2cdf8"/>
<rect x="352.20" y="172.75" width="7.20" height="10.50" fill="#e38af2"/>
<rect x="359.40" y="172.75" width="3.30" height="10.50" fill="#a000dc"/>
<line x1="278.80" y1="172.75" x2="278.80" y2="183.25" stroke="#666" stroke-width="0.35"/>
<line x1="283.10" y1="172.75" x2="283.10" y2="183.25" stroke="#666" stroke-width="0.35"/>
<line x1="285.30" y1="172.75" x2="285.30" y2="183.25" stroke="#666" stroke-width="0.35"/>
<line x1="323.10" y1="172.75" x2="323.10" y2="183.25" stroke="#666" stroke-width="0.35"/>
<line x1="328.10" y1="172.75" x2="328.10" y2="183.25" stroke="#666" stroke-width="0.35"/>
<line x1="337.10" y1="172.75" x2="337.10" y2="183.25" stroke="#666" stroke-width="0.35"/>
<line x1="341.00" y1="172.75" x2="341.00" y2="183.25" stroke="#666" stroke-width="0.35"/>
<line x1="352.20" y1="172.75" x2="352.20" y2="183.25" stroke="#666" stroke-width="0.35"/>
<line x1="359.40" y1="172.75" x2="359.40" y2="183.25" stroke="#666" stroke-width="0.35"/>
<rect x="277.70" y="173.05" width="84.70" height="9.90" fill="none" stroke="#4a4a4a" stroke-width="0.6"/>
<line x1="273.80" y1="178.00" x2="277.40" y2="178.00" stroke="#2a2a2a" stroke-width="0.9"/>
<text transform="matrix(1 0 0 1.18 272.90 181.00)" font-size="7.7" text-anchor="end" fill="#1a1a1a" color="#1a1a1a">BBL- 28.<tspan font-style="italic">mζ</tspan></text>
<rect x="277.40" y="188.85" width="2.30" height="10.50" fill="#939393"/>
<rect x="279.70" y="188.85" width="6.50" height="10.50" fill="#c8fcec"/>
<rect x="286.20" y="188.85" width="9.70" height="10.50" fill="#44eeaa"/>
<rect x="295.90" y="188.85" width="4.70" height="10.50" fill="#00b800"/>
<rect x="300.60" y="188.85" width="25.60" height="10.50" fill="#c2c2ff"/>
<rect x="326.20" y="188.85" width="6.30" height="10.50" fill="#8a8aff"/>
<rect x="332.50" y="188.85" width="10.00" height="10.50" fill="#4c4cf2"/>
<rect x="342.50" y="188.85" width="0.60" height="10.50" fill="#0000ee"/>
<rect x="343.10" y="188.85" width="11.30" height="10.50" fill="#e38af2"/>
<rect x="354.40" y="188.85" width="5.60" height="10.50" fill="#f9abe9"/>
<rect x="360.00" y="188.85" width="10.20" height="10.50" fill="#a000dc"/>
<line x1="279.70" y1="188.85" x2="279.70" y2="199.35" stroke="#666" stroke-width="0.35"/>
<line x1="286.20" y1="188.85" x2="286.20" y2="199.35" stroke="#666" stroke-width="0.35"/>
<line x1="295.90" y1="188.85" x2="295.90" y2="199.35" stroke="#666" stroke-width="0.35"/>
<line x1="300.60" y1="188.85" x2="300.60" y2="199.35" stroke="#666" stroke-width="0.35"/>
<line x1="326.20" y1="188.85" x2="326.20" y2="199.35" stroke="#666" stroke-width="0.35"/>
<line x1="332.50" y1="188.85" x2="332.50" y2="199.35" stroke="#666" stroke-width="0.35"/>
<line x1="342.50" y1="188.85" x2="342.50" y2="199.35" stroke="#666" stroke-width="0.35"/>
<line x1="343.10" y1="188.85" x2="343.10" y2="199.35" stroke="#666" stroke-width="0.35"/>
<line x1="354.40" y1="188.85" x2="354.40" y2="199.35" stroke="#666" stroke-width="0.35"/>
<line x1="360.00" y1="188.85" x2="360.00" y2="199.35" stroke="#666" stroke-width="0.35"/>
<rect x="277.70" y="189.15" width="92.20" height="9.90" fill="none" stroke="#4a4a4a" stroke-width="0.6"/>
<line x1="273.80" y1="194.10" x2="277.40" y2="194.10" stroke="#2a2a2a" stroke-width="0.9"/>
<text transform="matrix(1 0 0 1.18 272.90 197.10)" font-size="7.7" text-anchor="end" fill="#1a1a1a" color="#1a1a1a"><tspan font-size="5.8" dy="-2.1">CD8tm</tspan><tspan dy="2.1">BB.</tspan><tspan font-style="italic">ζ</tspan></text>
<rect x="277.40" y="204.95" width="1.20" height="10.50" fill="#939393"/>
<rect x="278.60" y="204.95" width="8.90" height="10.50" fill="#44eeaa"/>
<rect x="287.50" y="204.95" width="3.10" height="10.50" fill="#00b800"/>
<rect x="290.60" y="204.95" width="27.80" height="10.50" fill="#c2c2ff"/>
<rect x="318.40" y="204.95" width="5.60" height="10.50" fill="#8a8aff"/>
<rect x="324.00" y="204.95" width="19.10" height="10.50" fill="#4c4cf2"/>
<rect x="343.10" y="204.95" width="4.00" height="10.50" fill="#0000ee"/>
<rect x="347.10" y="204.95" width="3.90" height="10.50" fill="#f2cdf8"/>
<rect x="351.00" y="204.95" width="8.60" height="10.50" fill="#e38af2"/>
<rect x="359.60" y="204.95" width="3.50" height="10.50" fill="#f9abe9"/>
<rect x="363.10" y="204.95" width="5.40" height="10.50" fill="#a000dc"/>
<line x1="278.60" y1="204.95" x2="278.60" y2="215.45" stroke="#666" stroke-width="0.35"/>
<line x1="287.50" y1="204.95" x2="287.50" y2="215.45" stroke="#666" stroke-width="0.35"/>
<line x1="290.60" y1="204.95" x2="290.60" y2="215.45" stroke="#666" stroke-width="0.35"/>
<line x1="318.40" y1="204.95" x2="318.40" y2="215.45" stroke="#666" stroke-width="0.35"/>
<line x1="324.00" y1="204.95" x2="324.00" y2="215.45" stroke="#666" stroke-width="0.35"/>
<line x1="343.10" y1="204.95" x2="343.10" y2="215.45" stroke="#666" stroke-width="0.35"/>
<line x1="347.10" y1="204.95" x2="347.10" y2="215.45" stroke="#666" stroke-width="0.35"/>
<line x1="351.00" y1="204.95" x2="351.00" y2="215.45" stroke="#666" stroke-width="0.35"/>
<line x1="359.60" y1="204.95" x2="359.60" y2="215.45" stroke="#666" stroke-width="0.35"/>
<line x1="363.10" y1="204.95" x2="363.10" y2="215.45" stroke="#666" stroke-width="0.35"/>
<rect x="277.70" y="205.25" width="90.50" height="9.90" fill="none" stroke="#4a4a4a" stroke-width="0.6"/>
<line x1="273.80" y1="210.20" x2="277.40" y2="210.20" stroke="#2a2a2a" stroke-width="0.9"/>
<text transform="matrix(1 0 0 1.18 272.90 213.20)" font-size="7.7" text-anchor="end" fill="#1a1a1a" color="#1a1a1a"><tspan font-size="5.8" dy="-2.1">CD8tm</tspan><tspan dy="2.1">BB.</tspan><tspan font-style="italic">mζ</tspan></text>
<rect x="277.40" y="221.05" width="4.50" height="10.50" fill="#939393"/>
<rect x="281.90" y="221.05" width="1.00" height="10.50" fill="#c8fcec"/>
<rect x="282.90" y="221.05" width="8.70" height="10.50" fill="#44eeaa"/>
<rect x="291.60" y="221.05" width="2.80" height="10.50" fill="#00b800"/>
<rect x="294.40" y="221.05" width="20.00" height="10.50" fill="#c2c2ff"/>
<rect x="314.40" y="221.05" width="6.00" height="10.50" fill="#8a8aff"/>
<rect x="320.40" y="221.05" width="19.60" height="10.50" fill="#4c4cf2"/>
<rect x="340.00" y="221.05" width="1.20" height="10.50" fill="#0000ee"/>
<rect x="341.20" y="221.05" width="3.50" height="10.50" fill="#f2cdf8"/>
<rect x="344.70" y="221.05" width="12.50" height="10.50" fill="#e38af2"/>
<rect x="357.20" y="221.05" width="3.40" height="10.50" fill="#f9abe9"/>
<rect x="360.60" y="221.05" width="6.30" height="10.50" fill="#b146d2"/>
<rect x="366.90" y="221.05" width="9.60" height="10.50" fill="#a000dc"/>
<line x1="281.90" y1="221.05" x2="281.90" y2="231.55" stroke="#666" stroke-width="0.35"/>
<line x1="282.90" y1="221.05" x2="282.90" y2="231.55" stroke="#666" stroke-width="0.35"/>
<line x1="291.60" y1="221.05" x2="291.60" y2="231.55" stroke="#666" stroke-width="0.35"/>
<line x1="294.40" y1="221.05" x2="294.40" y2="231.55" stroke="#666" stroke-width="0.35"/>
<line x1="314.40" y1="221.05" x2="314.40" y2="231.55" stroke="#666" stroke-width="0.35"/>
<line x1="320.40" y1="221.05" x2="320.40" y2="231.55" stroke="#666" stroke-width="0.35"/>
<line x1="340.00" y1="221.05" x2="340.00" y2="231.55" stroke="#666" stroke-width="0.35"/>
<line x1="341.20" y1="221.05" x2="341.20" y2="231.55" stroke="#666" stroke-width="0.35"/>
<line x1="344.70" y1="221.05" x2="344.70" y2="231.55" stroke="#666" stroke-width="0.35"/>
<line x1="357.20" y1="221.05" x2="357.20" y2="231.55" stroke="#666" stroke-width="0.35"/>
<line x1="360.60" y1="221.05" x2="360.60" y2="231.55" stroke="#666" stroke-width="0.35"/>
<line x1="366.90" y1="221.05" x2="366.90" y2="231.55" stroke="#666" stroke-width="0.35"/>
<rect x="277.70" y="221.35" width="98.50" height="9.90" fill="none" stroke="#4a4a4a" stroke-width="0.6"/>
<line x1="273.80" y1="226.30" x2="277.40" y2="226.30" stroke="#2a2a2a" stroke-width="0.9"/>
<text transform="matrix(1 0 0 1.18 272.90 229.30)" font-size="7.7" text-anchor="end" fill="#1a1a1a" color="#1a1a1a">BB.<tspan font-style="italic">mζ</tspan></text>
<rect x="277.40" y="237.15" width="1.70" height="10.50" fill="#939393"/>
<rect x="279.10" y="237.15" width="0.90" height="10.50" fill="#c8fcec"/>
<rect x="280.00" y="237.15" width="3.10" height="10.50" fill="#44eeaa"/>
<rect x="283.10" y="237.15" width="1.90" height="10.50" fill="#00b800"/>
<rect x="285.00" y="237.15" width="39.40" height="10.50" fill="#c2c2ff"/>
<rect x="324.40" y="237.15" width="3.70" height="10.50" fill="#8a8aff"/>
<rect x="328.10" y="237.15" width="11.00" height="10.50" fill="#4c4cf2"/>
<rect x="339.10" y="237.15" width="4.00" height="10.50" fill="#0000ee"/>
<rect x="343.10" y="237.15" width="9.40" height="10.50" fill="#f2cdf8"/>
<rect x="352.50" y="237.15" width="3.70" height="10.50" fill="#e38af2"/>
<rect x="356.20" y="237.15" width="1.90" height="10.50" fill="#f9abe9"/>
<rect x="358.10" y="237.15" width="1.90" height="10.50" fill="#a000dc"/>
<line x1="279.10" y1="237.15" x2="279.10" y2="247.65" stroke="#666" stroke-width="0.35"/>
<line x1="280.00" y1="237.15" x2="280.00" y2="247.65" stroke="#666" stroke-width="0.35"/>
<line x1="283.10" y1="237.15" x2="283.10" y2="247.65" stroke="#666" stroke-width="0.35"/>
<line x1="285.00" y1="237.15" x2="285.00" y2="247.65" stroke="#666" stroke-width="0.35"/>
<line x1="324.40" y1="237.15" x2="324.40" y2="247.65" stroke="#666" stroke-width="0.35"/>
<line x1="328.10" y1="237.15" x2="328.10" y2="247.65" stroke="#666" stroke-width="0.35"/>
<line x1="339.10" y1="237.15" x2="339.10" y2="247.65" stroke="#666" stroke-width="0.35"/>
<line x1="343.10" y1="237.15" x2="343.10" y2="247.65" stroke="#666" stroke-width="0.35"/>
<line x1="352.50" y1="237.15" x2="352.50" y2="247.65" stroke="#666" stroke-width="0.35"/>
<line x1="356.20" y1="237.15" x2="356.20" y2="247.65" stroke="#666" stroke-width="0.35"/>
<line x1="358.10" y1="237.15" x2="358.10" y2="247.65" stroke="#666" stroke-width="0.35"/>
<rect x="277.70" y="237.45" width="82.00" height="9.90" fill="none" stroke="#4a4a4a" stroke-width="0.6"/>
<line x1="273.80" y1="242.40" x2="277.40" y2="242.40" stroke="#2a2a2a" stroke-width="0.9"/>
<text transform="matrix(1 0 0 1.18 272.90 245.40)" font-size="7.7" text-anchor="end" fill="#1a1a1a" color="#1a1a1a">28.<tspan font-style="italic">ζ</tspan></text>
<rect x="277.40" y="253.25" width="3.80" height="10.50" fill="#c8fcec"/>
<rect x="281.20" y="253.25" width="10.00" height="10.50" fill="#44eeaa"/>
<rect x="291.20" y="253.25" width="2.50" height="10.50" fill="#00b800"/>
<rect x="293.70" y="253.25" width="28.50" height="10.50" fill="#c2c2ff"/>
<rect x="322.20" y="253.25" width="9.00" height="10.50" fill="#8a8aff"/>
<rect x="331.20" y="253.25" width="13.20" height="10.50" fill="#4c4cf2"/>
<rect x="344.40" y="253.25" width="5.30" height="10.50" fill="#0000ee"/>
<rect x="349.70" y="253.25" width="3.40" height="10.50" fill="#f2cdf8"/>
<rect x="353.10" y="253.25" width="6.30" height="10.50" fill="#e38af2"/>
<rect x="359.40" y="253.25" width="5.00" height="10.50" fill="#f9abe9"/>
<rect x="364.40" y="253.25" width="5.00" height="10.50" fill="#a000dc"/>
<line x1="281.20" y1="253.25" x2="281.20" y2="263.75" stroke="#666" stroke-width="0.35"/>
<line x1="291.20" y1="253.25" x2="291.20" y2="263.75" stroke="#666" stroke-width="0.35"/>
<line x1="293.70" y1="253.25" x2="293.70" y2="263.75" stroke="#666" stroke-width="0.35"/>
<line x1="322.20" y1="253.25" x2="322.20" y2="263.75" stroke="#666" stroke-width="0.35"/>
<line x1="331.20" y1="253.25" x2="331.20" y2="263.75" stroke="#666" stroke-width="0.35"/>
<line x1="344.40" y1="253.25" x2="344.40" y2="263.75" stroke="#666" stroke-width="0.35"/>
<line x1="349.70" y1="253.25" x2="349.70" y2="263.75" stroke="#666" stroke-width="0.35"/>
<line x1="353.10" y1="253.25" x2="353.10" y2="263.75" stroke="#666" stroke-width="0.35"/>
<line x1="359.40" y1="253.25" x2="359.40" y2="263.75" stroke="#666" stroke-width="0.35"/>
<line x1="364.40" y1="253.25" x2="364.40" y2="263.75" stroke="#666" stroke-width="0.35"/>
<rect x="277.70" y="253.55" width="91.40" height="9.90" fill="none" stroke="#4a4a4a" stroke-width="0.6"/>
<line x1="273.80" y1="258.50" x2="277.40" y2="258.50" stroke="#2a2a2a" stroke-width="0.9"/>
<text transform="matrix(1 0 0 1.18 272.90 261.50)" font-size="7.7" text-anchor="end" fill="#1a1a1a" color="#1a1a1a">Ctrl</text>
<line x1="370.20" y1="194.10" x2="372.50" y2="194.10" stroke="#333" stroke-width="0.5"/>
<line x1="372.50" y1="192.90" x2="372.50" y2="195.30" stroke="#333" stroke-width="0.5"/>
<line x1="368.50" y1="210.20" x2="373.50" y2="210.20" stroke="#333" stroke-width="0.5"/>
<line x1="373.50" y1="209.00" x2="373.50" y2="211.40" stroke="#333" stroke-width="0.5"/>
<line x1="369.40" y1="258.50" x2="372.50" y2="258.50" stroke="#333" stroke-width="0.5"/>
<line x1="372.50" y1="257.30" x2="372.50" y2="259.70" stroke="#333" stroke-width="0.5"/>
<line x1="318.40" y1="210.20" x2="324.00" y2="210.20" stroke="#333" stroke-width="0.5"/>
<line x1="324.00" y1="209.00" x2="324.00" y2="211.40" stroke="#333" stroke-width="0.5"/>
<line x1="322.20" y1="258.50" x2="327.00" y2="258.50" stroke="#333" stroke-width="0.5"/>
<line x1="327.00" y1="257.30" x2="327.00" y2="259.70" stroke="#333" stroke-width="0.5"/>
<line x1="285.30" y1="178.00" x2="286.80" y2="178.00" stroke="#333" stroke-width="0.5"/>
<line x1="286.80" y1="176.80" x2="286.80" y2="179.20" stroke="#333" stroke-width="0.5"/>
<line x1="328.10" y1="178.00" x2="331.00" y2="178.00" stroke="#333" stroke-width="0.5"/>
<line x1="331.00" y1="176.80" x2="331.00" y2="179.20" stroke="#333" stroke-width="0.5"/>
<line x1="295.90" y1="194.10" x2="297.50" y2="194.10" stroke="#333" stroke-width="0.5"/>
<line x1="297.50" y1="192.90" x2="297.50" y2="195.30" stroke="#333" stroke-width="0.5"/>
<line x1="332.50" y1="194.10" x2="336.50" y2="194.10" stroke="#333" stroke-width="0.5"/>
<line x1="336.50" y1="192.90" x2="336.50" y2="195.30" stroke="#333" stroke-width="0.5"/>
<line x1="290.60" y1="210.20" x2="292.50" y2="210.20" stroke="#333" stroke-width="0.5"/>
<line x1="292.50" y1="209.00" x2="292.50" y2="211.40" stroke="#333" stroke-width="0.5"/>
<line x1="291.60" y1="226.30" x2="293.00" y2="226.30" stroke="#333" stroke-width="0.5"/>
<line x1="293.00" y1="225.10" x2="293.00" y2="227.50" stroke="#333" stroke-width="0.5"/>
<line x1="357.20" y1="226.30" x2="358.80" y2="226.30" stroke="#333" stroke-width="0.5"/>
<line x1="358.80" y1="225.10" x2="358.80" y2="227.50" stroke="#333" stroke-width="0.5"/>
<line x1="352.50" y1="242.40" x2="356.00" y2="242.40" stroke="#333" stroke-width="0.5"/>
<line x1="356.00" y1="241.20" x2="356.00" y2="243.60" stroke="#333" stroke-width="0.5"/>
<line x1="283.00" y1="258.50" x2="285.50" y2="258.50" stroke="#333" stroke-width="0.5"/>
<line x1="285.50" y1="257.30" x2="285.50" y2="259.70" stroke="#333" stroke-width="0.5"/>
<line x1="331.20" y1="258.50" x2="333.50" y2="258.50" stroke="#333" stroke-width="0.5"/>
<line x1="333.50" y1="257.30" x2="333.50" y2="259.70" stroke="#333" stroke-width="0.5"/>
<line x1="359.40" y1="258.50" x2="361.00" y2="258.50" stroke="#333" stroke-width="0.5"/>
<line x1="361.00" y1="257.30" x2="361.00" y2="259.70" stroke="#333" stroke-width="0.5"/>
<line x1="354.40" y1="194.10" x2="356.00" y2="194.10" stroke="#333" stroke-width="0.5"/>
<line x1="356.00" y1="192.90" x2="356.00" y2="195.30" stroke="#333" stroke-width="0.5"/>
<line x1="352.20" y1="178.00" x2="354.00" y2="178.00" stroke="#333" stroke-width="0.5"/>
<line x1="354.00" y1="176.80" x2="354.00" y2="179.20" stroke="#333" stroke-width="0.5"/>
<line x1="277.40" y1="167.00" x2="277.40" y2="269.80" stroke="#555555" stroke-width="0.8"/>
<line x1="277.00" y1="269.40" x2="379.20" y2="269.40" stroke="#555555" stroke-width="0.8"/>
<line x1="277.50" y1="269.40" x2="277.50" y2="272.80" stroke="#555555" stroke-width="0.7"/>
<line x1="298.62" y1="269.40" x2="298.62" y2="271.30" stroke="#555555" stroke-width="0.7"/>
<line x1="319.75" y1="269.40" x2="319.75" y2="272.80" stroke="#555555" stroke-width="0.7"/>
<line x1="340.88" y1="269.40" x2="340.88" y2="271.30" stroke="#555555" stroke-width="0.7"/>
<line x1="362.00" y1="269.40" x2="362.00" y2="272.80" stroke="#555555" stroke-width="0.7"/>
<text transform="matrix(1 0 0 1.18 277.50 282.30)" font-size="7.9" text-anchor="middle" fill="#1a1a1a" color="#1a1a1a" >0</text>
<text transform="matrix(1 0 0 1.18 319.75 282.30)" font-size="7.9" text-anchor="middle" fill="#1a1a1a" color="#1a1a1a" >50</text>
<text transform="matrix(1 0 0 1.18 362.00 282.30)" font-size="7.9" text-anchor="middle" fill="#1a1a1a" color="#1a1a1a" >100</text>
<text transform="matrix(1 0 0 1.18 276.30 294.10)" font-size="8.1" text-anchor="start" fill="#1a1a1a" color="#1a1a1a" >Fraction of CD4+ T Cells (%)</text>
<rect x="401.30" y="168.40" width="12.90" height="2.60" fill="#a000dc" stroke="#4a4a4a" stroke-width="0.5"/>
<text transform="matrix(1 0 0 1.18 421.70 171.90)" font-size="6.25" text-anchor="start" fill="#1a1a1a" color="#1a1a1a" style="stroke-width:0">PD1 hi, TIM3 hi, LAG3 hi, CTLA4 hi</text>
<rect x="401.30" y="176.73" width="12.90" height="2.60" fill="#b146d2" stroke="#4a4a4a" stroke-width="0.5"/>
<text transform="matrix(1 0 0 1.18 421.70 180.23)" font-size="6.25" text-anchor="start" fill="#1a1a1a" color="#1a1a1a" style="stroke-width:0">CTLA4 hi</text>
<rect x="401.30" y="185.07" width="12.90" height="2.60" fill="#f9abe9" stroke="#4a4a4a" stroke-width="0.5"/>
<text transform="matrix(1 0 0 1.18 421.70 188.57)" font-size="6.25" text-anchor="start" fill="#1a1a1a" color="#1a1a1a" style="stroke-width:0">PD1 hi, TIM3 hi, LAG3 hi</text>
<rect x="401.30" y="193.40" width="12.90" height="2.60" fill="#e38af2" stroke="#4a4a4a" stroke-width="0.5"/>
<text transform="matrix(1 0 0 1.18 421.70 196.90)" font-size="6.25" text-anchor="start" fill="#1a1a1a" color="#1a1a1a" style="stroke-width:0">PD1 hi, TIM3 hi</text>
<rect x="401.30" y="201.73" width="12.90" height="2.60" fill="#f2cdf8" stroke="#4a4a4a" stroke-width="0.5"/>
<text transform="matrix(1 0 0 1.18 421.70 205.23)" font-size="6.25" text-anchor="start" fill="#1a1a1a" color="#1a1a1a" style="stroke-width:0">Activated</text>
<rect x="401.30" y="210.06" width="12.90" height="2.60" fill="#0000ee" stroke="#4a4a4a" stroke-width="0.5"/>
<text transform="matrix(1 0 0 1.18 421.70 213.56)" font-size="6.25" text-anchor="start" fill="#1a1a1a" color="#1a1a1a" style="stroke-width:0">PD1 hi, TIM3 hi, LAG3 hi, CTLA4 hi</text>
<rect x="401.30" y="218.40" width="12.90" height="2.60" fill="#4c4cf2" stroke="#4a4a4a" stroke-width="0.5"/>
<text transform="matrix(1 0 0 1.18 421.70 221.90)" font-size="6.25" text-anchor="start" fill="#1a1a1a" color="#1a1a1a" style="stroke-width:0">PD1 hi, TIM3 hi, LAG3 hi</text>
<rect x="401.30" y="226.73" width="12.90" height="2.60" fill="#8a8aff" stroke="#4a4a4a" stroke-width="0.5"/>
<text transform="matrix(1 0 0 1.18 421.70 230.23)" font-size="6.25" text-anchor="start" fill="#1a1a1a" color="#1a1a1a" style="stroke-width:0">PD1 hi, TIM3 hi</text>
<rect x="401.30" y="235.06" width="12.90" height="2.60" fill="#c2c2ff" stroke="#4a4a4a" stroke-width="0.5"/>
<text transform="matrix(1 0 0 1.18 421.70 238.56)" font-size="6.25" text-anchor="start" fill="#1a1a1a" color="#1a1a1a" style="stroke-width:0">Activated</text>
<rect x="401.30" y="243.40" width="12.90" height="2.60" fill="#00b800" stroke="#4a4a4a" stroke-width="0.5"/>
<text transform="matrix(1 0 0 1.18 421.70 246.90)" font-size="6.25" text-anchor="start" fill="#1a1a1a" color="#1a1a1a" style="stroke-width:0">PD1 hi, TIM3 hi, LAG3 hi</text>
<rect x="401.30" y="251.73" width="12.90" height="2.60" fill="#44eeaa" stroke="#4a4a4a" stroke-width="0.5"/>
<text transform="matrix(1 0 0 1.18 421.70 255.23)" font-size="6.25" text-anchor="start" fill="#1a1a1a" color="#1a1a1a" style="stroke-width:0">PD1 hi, TIM3 hi</text>
<rect x="401.30" y="260.06" width="12.90" height="2.60" fill="#c8fcec" stroke="#4a4a4a" stroke-width="0.5"/>
<text transform="matrix(1 0 0 1.18 421.70 263.56)" font-size="6.25" text-anchor="start" fill="#1a1a1a" color="#1a1a1a" style="stroke-width:0">Naive-like</text>
<rect x="401.30" y="268.40" width="12.90" height="2.60" fill="#939393" stroke="#4a4a4a" stroke-width="0.5"/>
<text transform="matrix(1 0 0 1.18 421.70 271.90)" font-size="6.25" text-anchor="start" fill="#1a1a1a" color="#1a1a1a" style="stroke-width:0">Unclassified</text>
<line x1="397.60" y1="167.70" x2="397.60" y2="204.80" stroke="#444" stroke-width="0.8"/>
<line x1="397.60" y1="210.30" x2="397.60" y2="237.70" stroke="#444" stroke-width="0.8"/>
<line x1="397.60" y1="241.90" x2="397.60" y2="254.00" stroke="#444" stroke-width="0.8"/>
<text transform="matrix(1 0 0 1.18 393.80 190.10)" font-size="7.0" text-anchor="end" fill="#1a1a1a" color="#1a1a1a" >TRM</text>
<text transform="matrix(1 0 0 1.18 393.80 227.90)" font-size="7.0" text-anchor="end" fill="#1a1a1a" color="#1a1a1a" >EM</text>
<text transform="matrix(1 0 0 1.18 393.80 252.10)" font-size="7.0" text-anchor="end" fill="#1a1a1a" color="#1a1a1a" >CM</text>
<text transform="matrix(1 0 0 1.0 3.10 327.40)" font-size="10.7" text-anchor="start" fill="#000" color="#000" font-weight="bold" >E</text>
<rect x="45.40" y="344.00" width="1.50" height="10.45" fill="#939393"/>
<rect x="46.90" y="344.00" width="1.80" height="10.45" fill="#00b800"/>
<rect x="48.70" y="344.00" width="27.50" height="10.45" fill="#c2c2ff"/>
<rect x="76.20" y="344.00" width="14.80" height="10.45" fill="#8a8aff"/>
<rect x="91.00" y="344.00" width="13.40" height="10.45" fill="#4c4cf2"/>
<rect x="104.40" y="344.00" width="2.50" height="10.45" fill="#0000dd"/>
<rect x="106.90" y="344.00" width="9.30" height="10.45" fill="#f9abe9"/>
<rect x="116.20" y="344.00" width="3.80" height="10.45" fill="#e384f2"/>
<rect x="120.00" y="344.00" width="3.70" height="10.45" fill="#a000dc"/>
<rect x="123.70" y="344.00" width="1.90" height="10.45" fill="#ffe1c2"/>
<rect x="125.60" y="344.00" width="5.00" height="10.45" fill="#ffba72"/>
<rect x="130.60" y="344.00" width="2.10" height="10.45" fill="#f27200"/>
<line x1="46.90" y1="344.00" x2="46.90" y2="354.45" stroke="#666" stroke-width="0.35"/>
<line x1="48.70" y1="344.00" x2="48.70" y2="354.45" stroke="#666" stroke-width="0.35"/>
<line x1="76.20" y1="344.00" x2="76.20" y2="354.45" stroke="#666" stroke-width="0.35"/>
<line x1="91.00" y1="344.00" x2="91.00" y2="354.45" stroke="#666" stroke-width="0.35"/>
<line x1="104.40" y1="344.00" x2="104.40" y2="354.45" stroke="#666" stroke-width="0.35"/>
<line x1="106.90" y1="344.00" x2="106.90" y2="354.45" stroke="#666" stroke-width="0.35"/>
<line x1="116.20" y1="344.00" x2="116.20" y2="354.45" stroke="#666" stroke-width="0.35"/>
<line x1="120.00" y1="344.00" x2="120.00" y2="354.45" stroke="#666" stroke-width="0.35"/>
<line x1="123.70" y1="344.00" x2="123.70" y2="354.45" stroke="#666" stroke-width="0.35"/>
<line x1="125.60" y1="344.00" x2="125.60" y2="354.45" stroke="#666" stroke-width="0.35"/>
<line x1="130.60" y1="344.00" x2="130.60" y2="354.45" stroke="#666" stroke-width="0.35"/>
<rect x="45.70" y="344.30" width="86.70" height="9.85" fill="none" stroke="#4a4a4a" stroke-width="0.6"/>
<line x1="41.80" y1="349.23" x2="45.40" y2="349.23" stroke="#2a2a2a" stroke-width="0.9"/>
<text transform="matrix(1 0 0 1.18 40.90 352.23)" font-size="7.7" text-anchor="end" fill="#1a1a1a" color="#1a1a1a">BBL- 28.<tspan font-style="italic">mζ</tspan></text>
<rect x="45.40" y="360.08" width="1.10" height="10.45" fill="#939393"/>
<rect x="46.50" y="360.08" width="13.70" height="10.45" fill="#b2f2da"/>
<rect x="60.20" y="360.08" width="10.70" height="10.45" fill="#00b800"/>
<rect x="70.90" y="360.08" width="12.50" height="10.45" fill="#c2c2ff"/>
<rect x="83.40" y="360.08" width="21.60" height="10.45" fill="#8a8aff"/>
<rect x="105.00" y="360.08" width="7.10" height="10.45" fill="#4c4cf2"/>
<rect x="112.10" y="360.08" width="1.60" height="10.45" fill="#0000dd"/>
<rect x="113.70" y="360.08" width="1.90" height="10.45" fill="#a000dc"/>
<rect x="115.60" y="360.08" width="6.90" height="10.45" fill="#ffe1c2"/>
<rect x="122.50" y="360.08" width="3.70" height="10.45" fill="#ffba72"/>
<rect x="126.20" y="360.08" width="13.20" height="10.45" fill="#ff9a38"/>
<rect x="139.40" y="360.08" width="0.80" height="10.45" fill="#f27200"/>
<line x1="46.50" y1="360.08" x2="46.50" y2="370.53" stroke="#666" stroke-width="0.35"/>
<line x1="60.20" y1="360.08" x2="60.20" y2="370.53" stroke="#666" stroke-width="0.35"/>
<line x1="70.90" y1="360.08" x2="70.90" y2="370.53" stroke="#666" stroke-width="0.35"/>
<line x1="83.40" y1="360.08" x2="83.40" y2="370.53" stroke="#666" stroke-width="0.35"/>
<line x1="105.00" y1="360.08" x2="105.00" y2="370.53" stroke="#666" stroke-width="0.35"/>
<line x1="112.10" y1="360.08" x2="112.10" y2="370.53" stroke="#666" stroke-width="0.35"/>
<line x1="113.70" y1="360.08" x2="113.70" y2="370.53" stroke="#666" stroke-width="0.35"/>
<line x1="115.60" y1="360.08" x2="115.60" y2="370.53" stroke="#666" stroke-width="0.35"/>
<line x1="122.50" y1="360.08" x2="122.50" y2="370.53" stroke="#666" stroke-width="0.35"/>
<line x1="126.20" y1="360.08" x2="126.20" y2="370.53" stroke="#666" stroke-width="0.35"/>
<line x1="139.40" y1="360.08" x2="139.40" y2="370.53" stroke="#666" stroke-width="0.35"/>
<rect x="45.70" y="360.38" width="94.20" height="9.85" fill="none" stroke="#4a4a4a" stroke-width="0.6"/>
<line x1="41.80" y1="365.31" x2="45.40" y2="365.31" stroke="#2a2a2a" stroke-width="0.9"/>
<text transform="matrix(1 0 0 1.18 40.90 368.31)" font-size="7.7" text-anchor="end" fill="#1a1a1a" color="#1a1a1a"><tspan font-size="5.8" dy="-2.1">CD8tm</tspan><tspan dy="2.1">BB.</tspan><tspan font-style="italic">ζ</tspan></text>
<rect x="45.40" y="376.16" width="1.60" height="10.45" fill="#b2f2da"/>
<rect x="47.00" y="376.16" width="2.00" height="10.45" fill="#00b800"/>
<rect x="49.00" y="376.16" width="5.40" height="10.45" fill="#c2c2ff"/>
<rect x="54.40" y="376.16" width="28.70" height="10.45" fill="#8a8aff"/>
<rect x="83.10" y="376.16" width="31.00" height="10.45" fill="#4c4cf2"/>
<rect x="114.10" y="376.16" width="4.00" height="10.45" fill="#0000dd"/>
<rect x="118.10" y="376.16" width="2.50" height="10.45" fill="#f9abe9"/>
<rect x="120.60" y="376.16" width="1.90" height="10.45" fill="#e384f2"/>
<rect x="122.50" y="376.16" width="2.10" height="10.45" fill="#a444cc"/>
<rect x="124.60" y="376.16" width="3.10" height="10.45" fill="#a000dc"/>
<rect x="127.70" y="376.16" width="7.70" height="10.45" fill="#ffe1c2"/>
<rect x="135.40" y="376.16" width="5.20" height="10.45" fill="#ffba72"/>
<line x1="47.00" y1="376.16" x2="47.00" y2="386.61" stroke="#666" stroke-width="0.35"/>
<line x1="49.00" y1="376.16" x2="49.00" y2="386.61" stroke="#666" stroke-width="0.35"/>
<line x1="54.40" y1="376.16" x2="54.40" y2="386.61" stroke="#666" stroke-width="0.35"/>
<line x1="83.10" y1="376.16" x2="83.10" y2="386.61" stroke="#666" stroke-width="0.35"/>
<line x1="114.10" y1="376.16" x2="114.10" y2="386.61" stroke="#666" stroke-width="0.35"/>
<line x1="118.10" y1="376.16" x2="118.10" y2="386.61" stroke="#666" stroke-width="0.35"/>
<line x1="120.60" y1="376.16" x2="120.60" y2="386.61" stroke="#666" stroke-width="0.35"/>
<line x1="122.50" y1="376.16" x2="122.50" y2="386.61" stroke="#666" stroke-width="0.35"/>
<line x1="124.60" y1="376.16" x2="124.60" y2="386.61" stroke="#666" stroke-width="0.35"/>
<line x1="127.70" y1="376.16" x2="127.70" y2="386.61" stroke="#666" stroke-width="0.35"/>
<line x1="135.40" y1="376.16" x2="135.40" y2="386.61" stroke="#666" stroke-width="0.35"/>
<rect x="45.70" y="376.46" width="94.60" height="9.85" fill="none" stroke="#4a4a4a" stroke-width="0.6"/>
<line x1="41.80" y1="381.38" x2="45.40" y2="381.38" stroke="#2a2a2a" stroke-width="0.9"/>
<text transform="matrix(1 0 0 1.18 40.90 384.38)" font-size="7.7" text-anchor="end" fill="#1a1a1a" color="#1a1a1a"><tspan font-size="5.8" dy="-2.1">CD8tm</tspan><tspan dy="2.1">BB.</tspan><tspan font-style="italic">mζ</tspan></text>
<rect x="45.40" y="392.24" width="3.60" height="10.45" fill="#b2f2da"/>
<rect x="49.00" y="392.24" width="3.10" height="10.45" fill="#00b800"/>
<rect x="52.10" y="392.24" width="2.30" height="10.45" fill="#c2c2ff"/>
<rect x="54.40" y="392.24" width="38.70" height="10.45" fill="#8a8aff"/>
<rect x="93.10" y="392.24" width="26.90" height="10.45" fill="#4c4cf2"/>
<rect x="120.00" y="392.24" width="2.20" height="10.45" fill="#f2d0f2"/>
<rect x="122.20" y="392.24" width="2.20" height="10.45" fill="#f9abe9"/>
<rect x="124.40" y="392.24" width="1.80" height="10.45" fill="#a444cc"/>
<rect x="126.20" y="392.24" width="2.80" height="10.45" fill="#a000dc"/>
<rect x="129.00" y="392.24" width="2.20" height="10.45" fill="#ffba72"/>
<rect x="131.20" y="392.24" width="4.20" height="10.45" fill="#ff9a38"/>
<rect x="135.40" y="392.24" width="4.30" height="10.45" fill="#f27200"/>
<line x1="49.00" y1="392.24" x2="49.00" y2="402.69" stroke="#666" stroke-width="0.35"/>
<line x1="52.10" y1="392.24" x2="52.10" y2="402.69" stroke="#666" stroke-width="0.35"/>
<line x1="54.40" y1="392.24" x2="54.40" y2="402.69" stroke="#666" stroke-width="0.35"/>
<line x1="93.10" y1="392.24" x2="93.10" y2="402.69" stroke="#666" stroke-width="0.35"/>
<line x1="120.00" y1="392.24" x2="120.00" y2="402.69" stroke="#666" stroke-width="0.35"/>
<line x1="122.20" y1="392.24" x2="122.20" y2="402.69" stroke="#666" stroke-width="0.35"/>
<line x1="124.40" y1="392.24" x2="124.40" y2="402.69" stroke="#666" stroke-width="0.35"/>
<line x1="126.20" y1="392.24" x2="126.20" y2="402.69" stroke="#666" stroke-width="0.35"/>
<line x1="129.00" y1="392.24" x2="129.00" y2="402.69" stroke="#666" stroke-width="0.35"/>
<line x1="131.20" y1="392.24" x2="131.20" y2="402.69" stroke="#666" stroke-width="0.35"/>
<line x1="135.40" y1="392.24" x2="135.40" y2="402.69" stroke="#666" stroke-width="0.35"/>
<rect x="45.70" y="392.54" width="93.70" height="9.85" fill="none" stroke="#4a4a4a" stroke-width="0.6"/>
<line x1="41.80" y1="397.47" x2="45.40" y2="397.47" stroke="#2a2a2a" stroke-width="0.9"/>
<text transform="matrix(1 0 0 1.18 40.90 400.47)" font-size="7.7" text-anchor="end" fill="#1a1a1a" color="#1a1a1a">BB.<tspan font-style="italic">mζ</tspan></text>
<rect x="45.40" y="408.32" width="2.10" height="10.45" fill="#939393"/>
<rect x="47.50" y="408.32" width="1.90" height="10.45" fill="#b2f2da"/>
<rect x="49.40" y="408.32" width="2.50" height="10.45" fill="#00b800"/>
<rect x="51.90" y="408.32" width="23.30" height="10.45" fill="#c2c2ff"/>
<rect x="75.20" y="408.32" width="16.30" height="10.45" fill="#8a8aff"/>
<rect x="91.50" y="408.32" width="10.00" height="10.45" fill="#4c4cf2"/>
<rect x="101.50" y="408.32" width="1.60" height="10.45" fill="#0000dd"/>
<rect x="103.10" y="408.32" width="13.80" height="10.45" fill="#f9abe9"/>
<rect x="116.90" y="408.32" width="2.50" height="10.45" fill="#e384f2"/>
<rect x="119.40" y="408.32" width="1.60" height="10.45" fill="#a000dc"/>
<rect x="121.00" y="408.32" width="4.00" height="10.45" fill="#ffe1c2"/>
<rect x="125.00" y="408.32" width="5.60" height="10.45" fill="#ffba72"/>
<rect x="130.60" y="408.32" width="1.60" height="10.45" fill="#ff9a38"/>
<rect x="132.20" y="408.32" width="0.90" height="10.45" fill="#f27200"/>
<line x1="47.50" y1="408.32" x2="47.50" y2="418.77" stroke="#666" stroke-width="0.35"/>
<line x1="49.40" y1="408.32" x2="49.40" y2="418.77" stroke="#666" stroke-width="0.35"/>
<line x1="51.90" y1="408.32" x2="51.90" y2="418.77" stroke="#666" stroke-width="0.35"/>
<line x1="75.20" y1="408.32" x2="75.20" y2="418.77" stroke="#666" stroke-width="0.35"/>
<line x1="91.50" y1="408.32" x2="91.50" y2="418.77" stroke="#666" stroke-width="0.35"/>
<line x1="101.50" y1="408.32" x2="101.50" y2="418.77" stroke="#666" stroke-width="0.35"/>
<line x1="103.10" y1="408.32" x2="103.10" y2="418.77" stroke="#666" stroke-width="0.35"/>
<line x1="116.90" y1="408.32" x2="116.90" y2="418.77" stroke="#666" stroke-width="0.35"/>
<line x1="119.40" y1="408.32" x2="119.40" y2="418.77" stroke="#666" stroke-width="0.35"/>
<line x1="121.00" y1="408.32" x2="121.00" y2="418.77" stroke="#666" stroke-width="0.35"/>
<line x1="125.00" y1="408.32" x2="125.00" y2="418.77" stroke="#666" stroke-width="0.35"/>
<line x1="130.60" y1="408.32" x2="130.60" y2="418.77" stroke="#666" stroke-width="0.35"/>
<line x1="132.20" y1="408.32" x2="132.20" y2="418.77" stroke="#666" stroke-width="0.35"/>
<rect x="45.70" y="408.62" width="87.10" height="9.85" fill="none" stroke="#4a4a4a" stroke-width="0.6"/>
<line x1="41.80" y1="413.55" x2="45.40" y2="413.55" stroke="#2a2a2a" stroke-width="0.9"/>
<text transform="matrix(1 0 0 1.18 40.90 416.55)" font-size="7.7" text-anchor="end" fill="#1a1a1a" color="#1a1a1a">28.<tspan font-style="italic">ζ</tspan></text>
<rect x="45.40" y="424.40" width="11.50" height="10.45" fill="#939393"/>
<rect x="56.90" y="424.40" width="4.60" height="10.45" fill="#b2f2da"/>
<rect x="61.50" y="424.40" width="4.50" height="10.45" fill="#00b800"/>
<rect x="66.00" y="424.40" width="9.20" height="10.45" fill="#c2c2ff"/>
<rect x="75.20" y="424.40" width="23.50" height="10.45" fill="#8a8aff"/>
<rect x="98.70" y="424.40" width="21.00" height="10.45" fill="#4c4cf2"/>
<rect x="119.70" y="424.40" width="2.50" height="10.45" fill="#0000dd"/>
<rect x="122.20" y="424.40" width="1.50" height="10.45" fill="#f2d0f2"/>
<rect x="123.70" y="424.40" width="1.90" height="10.45" fill="#f9abe9"/>
<rect x="125.60" y="424.40" width="2.90" height="10.45" fill="#e384f2"/>
<rect x="128.50" y="424.40" width="2.10" height="10.45" fill="#a444cc"/>
<rect x="130.60" y="424.40" width="1.90" height="10.45" fill="#a000dc"/>
<rect x="132.50" y="424.40" width="1.90" height="10.45" fill="#ff9a38"/>
<line x1="56.90" y1="424.40" x2="56.90" y2="434.85" stroke="#666" stroke-width="0.35"/>
<line x1="61.50" y1="424.40" x2="61.50" y2="434.85" stroke="#666" stroke-width="0.35"/>
<line x1="66.00" y1="424.40" x2="66.00" y2="434.85" stroke="#666" stroke-width="0.35"/>
<line x1="75.20" y1="424.40" x2="75.20" y2="434.85" stroke="#666" stroke-width="0.35"/>
<line x1="98.70" y1="424.40" x2="98.70" y2="434.85" stroke="#666" stroke-width="0.35"/>
<line x1="119.70" y1="424.40" x2="119.70" y2="434.85" stroke="#666" stroke-width="0.35"/>
<line x1="122.20" y1="424.40" x2="122.20" y2="434.85" stroke="#666" stroke-width="0.35"/>
<line x1="123.70" y1="424.40" x2="123.70" y2="434.85" stroke="#666" stroke-width="0.35"/>
<line x1="125.60" y1="424.40" x2="125.60" y2="434.85" stroke="#666" stroke-width="0.35"/>
<line x1="128.50" y1="424.40" x2="128.50" y2="434.85" stroke="#666" stroke-width="0.35"/>
<line x1="130.60" y1="424.40" x2="130.60" y2="434.85" stroke="#666" stroke-width="0.35"/>
<line x1="132.50" y1="424.40" x2="132.50" y2="434.85" stroke="#666" stroke-width="0.35"/>
<rect x="45.70" y="424.70" width="88.40" height="9.85" fill="none" stroke="#4a4a4a" stroke-width="0.6"/>
<line x1="41.80" y1="429.62" x2="45.40" y2="429.62" stroke="#2a2a2a" stroke-width="0.9"/>
<text transform="matrix(1 0 0 1.18 40.90 432.62)" font-size="7.7" text-anchor="end" fill="#1a1a1a" color="#1a1a1a">Ctrl</text>
<line x1="76.20" y1="349.23" x2="84.00" y2="349.23" stroke="#333" stroke-width="0.5"/>
<line x1="84.00" y1="348.03" x2="84.00" y2="350.43" stroke="#333" stroke-width="0.5"/>
<line x1="70.90" y1="365.31" x2="74.00" y2="365.31" stroke="#333" stroke-width="0.5"/>
<line x1="74.00" y1="364.11" x2="74.00" y2="366.50" stroke="#333" stroke-width="0.5"/>
<line x1="83.40" y1="365.31" x2="88.50" y2="365.31" stroke="#333" stroke-width="0.5"/>
<line x1="88.50" y1="364.11" x2="88.50" y2="366.50" stroke="#333" stroke-width="0.5"/>
<line x1="140.20" y1="365.31" x2="143.10" y2="365.31" stroke="#333" stroke-width="0.5"/>
<line x1="143.10" y1="364.11" x2="143.10" y2="366.50" stroke="#333" stroke-width="0.5"/>
<line x1="54.40" y1="381.38" x2="59.50" y2="381.38" stroke="#333" stroke-width="0.5"/>
<line x1="59.50" y1="380.19" x2="59.50" y2="382.58" stroke="#333" stroke-width="0.5"/>
<line x1="83.10" y1="381.38" x2="104.00" y2="381.38" stroke="#333" stroke-width="0.5"/>
<line x1="104.00" y1="380.19" x2="104.00" y2="382.58" stroke="#333" stroke-width="0.5"/>
<line x1="66.00" y1="429.62" x2="70.00" y2="429.62" stroke="#333" stroke-width="0.5"/>
<line x1="70.00" y1="428.43" x2="70.00" y2="430.82" stroke="#333" stroke-width="0.5"/>
<line x1="75.20" y1="429.62" x2="80.00" y2="429.62" stroke="#333" stroke-width="0.5"/>
<line x1="80.00" y1="428.43" x2="80.00" y2="430.82" stroke="#333" stroke-width="0.5"/>
<line x1="98.70" y1="429.62" x2="115.00" y2="429.62" stroke="#333" stroke-width="0.5"/>
<line x1="115.00" y1="428.43" x2="115.00" y2="430.82" stroke="#333" stroke-width="0.5"/>
<line x1="60.20" y1="365.31" x2="62.00" y2="365.31" stroke="#333" stroke-width="0.5"/>
<line x1="62.00" y1="364.11" x2="62.00" y2="366.50" stroke="#333" stroke-width="0.5"/>
<line x1="120.00" y1="349.23" x2="121.50" y2="349.23" stroke="#333" stroke-width="0.5"/>
<line x1="121.50" y1="348.03" x2="121.50" y2="350.43" stroke="#333" stroke-width="0.5"/>
<line x1="105.00" y1="365.31" x2="108.00" y2="365.31" stroke="#333" stroke-width="0.5"/>
<line x1="108.00" y1="364.11" x2="108.00" y2="366.50" stroke="#333" stroke-width="0.5"/>
<line x1="52.10" y1="397.47" x2="54.50" y2="397.47" stroke="#333" stroke-width="0.5"/>
<line x1="54.50" y1="396.27" x2="54.50" y2="398.67" stroke="#333" stroke-width="0.5"/>
<line x1="116.90" y1="413.55" x2="118.50" y2="413.55" stroke="#333" stroke-width="0.5"/>
<line x1="118.50" y1="412.35" x2="118.50" y2="414.75" stroke="#333" stroke-width="0.5"/>
<line x1="120.60" y1="381.38" x2="122.00" y2="381.38" stroke="#333" stroke-width="0.5"/>
<line x1="122.00" y1="380.19" x2="122.00" y2="382.58" stroke="#333" stroke-width="0.5"/>
<line x1="45.40" y1="338.60" x2="45.40" y2="441.00" stroke="#555555" stroke-width="0.8"/>
<line x1="45.00" y1="440.60" x2="146.90" y2="440.60" stroke="#555555" stroke-width="0.8"/>
<line x1="45.30" y1="440.60" x2="45.30" y2="444.00" stroke="#555555" stroke-width="0.7"/>
<line x1="66.70" y1="440.60" x2="66.70" y2="442.50" stroke="#555555" stroke-width="0.7"/>
<line x1="88.10" y1="440.60" x2="88.10" y2="444.00" stroke="#555555" stroke-width="0.7"/>
<line x1="109.50" y1="440.60" x2="109.50" y2="442.50" stroke="#555555" stroke-width="0.7"/>
<line x1="130.90" y1="440.60" x2="130.90" y2="444.00" stroke="#555555" stroke-width="0.7"/>
<text transform="matrix(1 0 0 1.18 45.30 452.80)" font-size="7.9" text-anchor="middle" fill="#1a1a1a" color="#1a1a1a" >0</text>
<text transform="matrix(1 0 0 1.18 88.10 452.80)" font-size="7.9" text-anchor="middle" fill="#1a1a1a" color="#1a1a1a" >50</text>
<text transform="matrix(1 0 0 1.18 130.90 452.80)" font-size="7.9" text-anchor="middle" fill="#1a1a1a" color="#1a1a1a" >100</text>
<text transform="matrix(1 0 0 1.18 44.70 465.10)" font-size="8.1" text-anchor="start" fill="#1a1a1a" color="#1a1a1a" >Fraction of CD8+ T Cells (%)</text>
<rect x="167.40" y="335.30" width="12.90" height="2.40" fill="#f27200" stroke="#4a4a4a" stroke-width="0.5"/>
<text transform="matrix(1 0 0 1.18 186.90 338.70)" font-size="6.15" text-anchor="start" fill="#1a1a1a" color="#1a1a1a" style="stroke-width:0">EM, PD1 hi, TIM3 hi, LAG3 hi, CTLA4 hi</text>
<rect x="167.40" y="343.37" width="12.90" height="2.40" fill="#ff9a38" stroke="#4a4a4a" stroke-width="0.5"/>
<text transform="matrix(1 0 0 1.18 186.90 346.77)" font-size="6.15" text-anchor="start" fill="#1a1a1a" color="#1a1a1a" style="stroke-width:0">EM, PD1 hi, TIM3 hi, LAG3 hi</text>
<rect x="167.40" y="351.44" width="12.90" height="2.40" fill="#ffba72" stroke="#4a4a4a" stroke-width="0.5"/>
<text transform="matrix(1 0 0 1.18 186.90 354.84)" font-size="6.15" text-anchor="start" fill="#1a1a1a" color="#1a1a1a" style="stroke-width:0">EM, activated</text>
<rect x="167.40" y="359.51" width="12.90" height="2.40" fill="#ffe1c2" stroke="#4a4a4a" stroke-width="0.5"/>
<text transform="matrix(1 0 0 1.18 186.90 362.91)" font-size="6.15" text-anchor="start" fill="#1a1a1a" color="#1a1a1a" style="stroke-width:0">CM</text>
<rect x="167.40" y="367.58" width="12.90" height="2.40" fill="#a000dc" stroke="#4a4a4a" stroke-width="0.5"/>
<text transform="matrix(1 0 0 1.18 186.90 370.98)" font-size="6.15" text-anchor="start" fill="#1a1a1a" color="#1a1a1a" style="stroke-width:0">PD1 hi, TIM3 hi, LAG3 hi</text>
<rect x="167.40" y="375.65" width="12.90" height="2.40" fill="#a444cc" stroke="#4a4a4a" stroke-width="0.5"/>
<text transform="matrix(1 0 0 1.18 186.90 379.05)" font-size="6.15" text-anchor="start" fill="#1a1a1a" color="#1a1a1a" style="stroke-width:0">PD1 hi, TIM3 hi, LAG3 hi, CTLA4 hi</text>
<rect x="167.40" y="383.72" width="12.90" height="2.40" fill="#e384f2" stroke="#4a4a4a" stroke-width="0.5"/>
<text transform="matrix(1 0 0 1.18 186.90 387.12)" font-size="6.15" text-anchor="start" fill="#1a1a1a" color="#1a1a1a" style="stroke-width:0">PD1 hi, TIM3 hi</text>
<rect x="167.40" y="391.79" width="12.90" height="2.40" fill="#f9abe9" stroke="#4a4a4a" stroke-width="0.5"/>
<text transform="matrix(1 0 0 1.18 186.90 395.19)" font-size="6.15" text-anchor="start" fill="#1a1a1a" color="#1a1a1a" style="stroke-width:0">Activated</text>
<rect x="167.40" y="399.86" width="12.90" height="2.40" fill="#f2d0f2" stroke="#4a4a4a" stroke-width="0.5"/>
<text transform="matrix(1 0 0 1.18 186.90 403.26)" font-size="6.15" text-anchor="start" fill="#1a1a1a" color="#1a1a1a" style="stroke-width:0">Naive-like</text>
<rect x="167.40" y="407.93" width="12.90" height="2.40" fill="#0000dd" stroke="#4a4a4a" stroke-width="0.5"/>
<text transform="matrix(1 0 0 1.18 186.90 411.33)" font-size="6.15" text-anchor="start" fill="#1a1a1a" color="#1a1a1a" style="stroke-width:0">PD1 hi, TIM3 hi, LAG3 hi, CTLA4 hi</text>
<rect x="167.40" y="416.00" width="12.90" height="2.40" fill="#4c4cf2" stroke="#4a4a4a" stroke-width="0.5"/>
<text transform="matrix(1 0 0 1.18 186.90 419.40)" font-size="6.15" text-anchor="start" fill="#1a1a1a" color="#1a1a1a" style="stroke-width:0">PD1 hi, TIM3 hi, LAG3 hi</text>
<rect x="167.40" y="424.07" width="12.90" height="2.40" fill="#8a8aff" stroke="#4a4a4a" stroke-width="0.5"/>
<text transform="matrix(1 0 0 1.18 186.90 427.47)" font-size="6.15" text-anchor="start" fill="#1a1a1a" color="#1a1a1a" style="stroke-width:0">PD1 hi, TIM3 hi</text>
<rect x="167.40" y="432.14" width="12.90" height="2.40" fill="#c2c2ff" stroke="#4a4a4a" stroke-width="0.5"/>
<text transform="matrix(1 0 0 1.18 186.90 435.54)" font-size="6.15" text-anchor="start" fill="#1a1a1a" color="#1a1a1a" style="stroke-width:0">Activated</text>
<rect x="167.40" y="440.21" width="12.90" height="2.40" fill="#00b800" stroke="#4a4a4a" stroke-width="0.5"/>
<text transform="matrix(1 0 0 1.18 186.90 443.61)" font-size="6.15" text-anchor="start" fill="#1a1a1a" color="#1a1a1a" style="stroke-width:0">Activated</text>
<rect x="167.40" y="448.28" width="12.90" height="2.40" fill="#b2f2da" stroke="#4a4a4a" stroke-width="0.5"/>
<text transform="matrix(1 0 0 1.18 186.90 451.68)" font-size="6.15" text-anchor="start" fill="#1a1a1a" color="#1a1a1a" style="stroke-width:0">Inactive</text>
<rect x="167.40" y="456.35" width="12.90" height="2.40" fill="#939393" stroke="#4a4a4a" stroke-width="0.5"/>
<text transform="matrix(1 0 0 1.18 186.90 459.75)" font-size="6.15" text-anchor="start" fill="#1a1a1a" color="#1a1a1a" style="stroke-width:0">Unclassified</text>
<line x1="163.70" y1="333.50" x2="163.70" y2="363.70" stroke="#444" stroke-width="0.8"/>
<line x1="163.70" y1="368.50" x2="163.70" y2="401.20" stroke="#444" stroke-width="0.8"/>
<line x1="163.70" y1="406.60" x2="163.70" y2="433.60" stroke="#444" stroke-width="0.8"/>
<line x1="163.70" y1="438.70" x2="163.70" y2="449.80" stroke="#444" stroke-width="0.8"/>
<text transform="matrix(1 0 0 1.18 159.90 352.50)" font-size="7.0" text-anchor="end" fill="#1a1a1a" color="#1a1a1a" >CAR T</text>
<text transform="matrix(1 0 0 1.18 159.90 361.00)" font-size="7.0" text-anchor="end" fill="#1a1a1a" color="#1a1a1a" >cells</text>
<text transform="matrix(1 0 0 1.18 159.90 388.40)" font-size="7.0" text-anchor="end" fill="#1a1a1a" color="#1a1a1a" >TRM</text>
<text transform="matrix(1 0 0 1.18 159.90 424.10)" font-size="7.0" text-anchor="end" fill="#1a1a1a" color="#1a1a1a" >EM</text>
<text transform="matrix(1 0 0 1.18 159.90 448.00)" font-size="7.0" text-anchor="end" fill="#1a1a1a" color="#1a1a1a" >CM</text>
<text transform="matrix(1 0 0 1.0 298.60 325.40)" font-size="10.7" text-anchor="start" fill="#000" color="#000" font-weight="bold" >F</text>
<rect x="346.20" y="344.00" width="8.20" height="10.35" fill="#a0a0a0"/>
<rect x="354.40" y="344.00" width="10.00" height="10.35" fill="#00c000"/>
<rect x="364.40" y="344.00" width="1.80" height="10.35" fill="#a000e0"/>
<rect x="366.20" y="344.00" width="5.40" height="10.35" fill="#c262e8"/>
<rect x="371.60" y="344.00" width="5.90" height="10.35" fill="#0000ff"/>
<rect x="377.50" y="344.00" width="20.60" height="10.35" fill="#ff6393"/>
<rect x="398.10" y="344.00" width="16.60" height="10.35" fill="#ffa244"/>
<rect x="414.70" y="344.00" width="3.40" height="10.35" fill="#8282ff"/>
<rect x="418.10" y="344.00" width="3.80" height="10.35" fill="#ffff00"/>
<rect x="421.90" y="344.00" width="2.50" height="10.35" fill="#f9b982"/>
<rect x="424.40" y="344.00" width="13.10" height="10.35" fill="#ffdfc0"/>
<line x1="354.40" y1="344.00" x2="354.40" y2="354.35" stroke="#666" stroke-width="0.35"/>
<line x1="364.40" y1="344.00" x2="364.40" y2="354.35" stroke="#666" stroke-width="0.35"/>
<line x1="366.20" y1="344.00" x2="366.20" y2="354.35" stroke="#666" stroke-width="0.35"/>
<line x1="371.60" y1="344.00" x2="371.60" y2="354.35" stroke="#666" stroke-width="0.35"/>
<line x1="377.50" y1="344.00" x2="377.50" y2="354.35" stroke="#666" stroke-width="0.35"/>
<line x1="398.10" y1="344.00" x2="398.10" y2="354.35" stroke="#666" stroke-width="0.35"/>
<line x1="414.70" y1="344.00" x2="414.70" y2="354.35" stroke="#666" stroke-width="0.35"/>
<line x1="418.10" y1="344.00" x2="418.10" y2="354.35" stroke="#666" stroke-width="0.35"/>
<line x1="421.90" y1="344.00" x2="421.90" y2="354.35" stroke="#666" stroke-width="0.35"/>
<line x1="424.40" y1="344.00" x2="424.40" y2="354.35" stroke="#666" stroke-width="0.35"/>
<rect x="346.50" y="344.30" width="90.70" height="9.75" fill="none" stroke="#4a4a4a" stroke-width="0.6"/>
<line x1="342.60" y1="349.18" x2="346.20" y2="349.18" stroke="#2a2a2a" stroke-width="0.9"/>
<text transform="matrix(1 0 0 1.18 341.70 352.18)" font-size="7.7" text-anchor="end" fill="#1a1a1a" color="#1a1a1a">BBL- 28.<tspan font-style="italic">mζ</tspan></text>
<rect x="346.20" y="360.05" width="20.00" height="10.35" fill="#a0a0a0"/>
<rect x="366.20" y="360.05" width="1.00" height="10.35" fill="#00c000"/>
<rect x="367.20" y="360.05" width="1.80" height="10.35" fill="#a000e0"/>
<rect x="369.00" y="360.05" width="4.10" height="10.35" fill="#c262e8"/>
<rect x="373.10" y="360.05" width="11.90" height="10.35" fill="#0000ff"/>
<rect x="385.00" y="360.05" width="15.50" height="10.35" fill="#ff6393"/>
<rect x="400.50" y="360.05" width="15.10" height="10.35" fill="#ff6000"/>
<rect x="415.60" y="360.05" width="1.30" height="10.35" fill="#8282ff"/>
<rect x="416.90" y="360.05" width="9.10" height="10.35" fill="#ffff00"/>
<rect x="426.00" y="360.05" width="5.50" height="10.35" fill="#f9b982"/>
<line x1="366.20" y1="360.05" x2="366.20" y2="370.40" stroke="#666" stroke-width="0.35"/>
<line x1="367.20" y1="360.05" x2="367.20" y2="370.40" stroke="#666" stroke-width="0.35"/>
<line x1="369.00" y1="360.05" x2="369.00" y2="370.40" stroke="#666" stroke-width="0.35"/>
<line x1="373.10" y1="360.05" x2="373.10" y2="370.40" stroke="#666" stroke-width="0.35"/>
<line x1="385.00" y1="360.05" x2="385.00" y2="370.40" stroke="#666" stroke-width="0.35"/>
<line x1="400.50" y1="360.05" x2="400.50" y2="370.40" stroke="#666" stroke-width="0.35"/>
<line x1="415.60" y1="360.05" x2="415.60" y2="370.40" stroke="#666" stroke-width="0.35"/>
<line x1="416.90" y1="360.05" x2="416.90" y2="370.40" stroke="#666" stroke-width="0.35"/>
<line x1="426.00" y1="360.05" x2="426.00" y2="370.40" stroke="#666" stroke-width="0.35"/>
<rect x="346.50" y="360.35" width="84.70" height="9.75" fill="none" stroke="#4a4a4a" stroke-width="0.6"/>
<line x1="342.60" y1="365.23" x2="346.20" y2="365.23" stroke="#2a2a2a" stroke-width="0.9"/>
<text transform="matrix(1 0 0 1.18 341.70 368.23)" font-size="7.7" text-anchor="end" fill="#1a1a1a" color="#1a1a1a"><tspan font-size="5.8" dy="-2.1">CD8tm</tspan><tspan dy="2.1">BB.</tspan><tspan font-style="italic">ζ</tspan></text>
<rect x="346.20" y="376.10" width="23.80" height="10.35" fill="#a0a0a0"/>
<rect x="370.00" y="376.10" width="2.70" height="10.35" fill="#00c000"/>
<rect x="372.70" y="376.10" width="5.80" height="10.35" fill="#c262e8"/>
<rect x="378.50" y="376.10" width="6.20" height="10.35" fill="#0000ff"/>
<rect x="384.70" y="376.10" width="23.70" height="10.35" fill="#ff6393"/>
<rect x="408.40" y="376.10" width="4.70" height="10.35" fill="#ff6000"/>
<rect x="413.10" y="376.10" width="10.00" height="10.35" fill="#ffa244"/>
<rect x="423.10" y="376.10" width="3.10" height="10.35" fill="#8282ff"/>
<rect x="426.20" y="376.10" width="5.00" height="10.35" fill="#ffff00"/>
<rect x="431.20" y="376.10" width="1.90" height="10.35" fill="#f9b982"/>
<rect x="433.10" y="376.10" width="1.60" height="10.35" fill="#ffdfc0"/>
<line x1="370.00" y1="376.10" x2="370.00" y2="386.45" stroke="#666" stroke-width="0.35"/>
<line x1="372.70" y1="376.10" x2="372.70" y2="386.45" stroke="#666" stroke-width="0.35"/>
<line x1="378.50" y1="376.10" x2="378.50" y2="386.45" stroke="#666" stroke-width="0.35"/>
<line x1="384.70" y1="376.10" x2="384.70" y2="386.45" stroke="#666" stroke-width="0.35"/>
<line x1="408.40" y1="376.10" x2="408.40" y2="386.45" stroke="#666" stroke-width="0.35"/>
<line x1="413.10" y1="376.10" x2="413.10" y2="386.45" stroke="#666" stroke-width="0.35"/>
<line x1="423.10" y1="376.10" x2="423.10" y2="386.45" stroke="#666" stroke-width="0.35"/>
<line x1="426.20" y1="376.10" x2="426.20" y2="386.45" stroke="#666" stroke-width="0.35"/>
<line x1="431.20" y1="376.10" x2="431.20" y2="386.45" stroke="#666" stroke-width="0.35"/>
<line x1="433.10" y1="376.10" x2="433.10" y2="386.45" stroke="#666" stroke-width="0.35"/>
<rect x="346.50" y="376.40" width="87.90" height="9.75" fill="none" stroke="#4a4a4a" stroke-width="0.6"/>
<line x1="342.60" y1="381.28" x2="346.20" y2="381.28" stroke="#2a2a2a" stroke-width="0.9"/>
<text transform="matrix(1 0 0 1.18 341.70 384.28)" font-size="7.7" text-anchor="end" fill="#1a1a1a" color="#1a1a1a"><tspan font-size="5.8" dy="-2.1">CD8tm</tspan><tspan dy="2.1">BB.</tspan><tspan font-style="italic">mζ</tspan></text>
<rect x="346.20" y="392.15" width="21.50" height="10.35" fill="#a0a0a0"/>
<rect x="367.70" y="392.15" width="0.80" height="10.35" fill="#00c000"/>
<rect x="368.50" y="392.15" width="4.20" height="10.35" fill="#a000e0"/>
<rect x="372.70" y="392.15" width="7.30" height="10.35" fill="#0000ff"/>
<rect x="380.00" y="392.15" width="34.40" height="10.35" fill="#ff6393"/>
<rect x="414.40" y="392.15" width="5.30" height="10.35" fill="#ff6000"/>
<rect x="419.70" y="392.15" width="2.20" height="10.35" fill="#ffa244"/>
<rect x="421.90" y="392.15" width="2.80" height="10.35" fill="#8282ff"/>
<rect x="424.70" y="392.15" width="7.80" height="10.35" fill="#ffff00"/>
<rect x="432.50" y="392.15" width="2.70" height="10.35" fill="#f9b982"/>
<line x1="367.70" y1="392.15" x2="367.70" y2="402.50" stroke="#666" stroke-width="0.35"/>
<line x1="368.50" y1="392.15" x2="368.50" y2="402.50" stroke="#666" stroke-width="0.35"/>
<line x1="372.70" y1="392.15" x2="372.70" y2="402.50" stroke="#666" stroke-width="0.35"/>
<line x1="380.00" y1="392.15" x2="380.00" y2="402.50" stroke="#666" stroke-width="0.35"/>
<line x1="414.40" y1="392.15" x2="414.40" y2="402.50" stroke="#666" stroke-width="0.35"/>
<line x1="419.70" y1="392.15" x2="419.70" y2="402.50" stroke="#666" stroke-width="0.35"/>
<line x1="421.90" y1="392.15" x2="421.90" y2="402.50" stroke="#666" stroke-width="0.35"/>
<line x1="424.70" y1="392.15" x2="424.70" y2="402.50" stroke="#666" stroke-width="0.35"/>
<line x1="432.50" y1="392.15" x2="432.50" y2="402.50" stroke="#666" stroke-width="0.35"/>
<rect x="346.50" y="392.45" width="88.40" height="9.75" fill="none" stroke="#4a4a4a" stroke-width="0.6"/>
<line x1="342.60" y1="397.32" x2="346.20" y2="397.32" stroke="#2a2a2a" stroke-width="0.9"/>
<text transform="matrix(1 0 0 1.18 341.70 400.32)" font-size="7.7" text-anchor="end" fill="#1a1a1a" color="#1a1a1a">BB.<tspan font-style="italic">mζ</tspan></text>
<rect x="346.20" y="408.20" width="11.90" height="10.35" fill="#a0a0a0"/>
<rect x="358.10" y="408.20" width="2.50" height="10.35" fill="#00c000"/>
<rect x="360.60" y="408.20" width="1.90" height="10.35" fill="#a000e0"/>
<rect x="362.50" y="408.20" width="4.40" height="10.35" fill="#c262e8"/>
<rect x="366.90" y="408.20" width="6.20" height="10.35" fill="#0000ff"/>
<rect x="373.10" y="408.20" width="26.30" height="10.35" fill="#ff6393"/>
<rect x="399.40" y="408.20" width="8.10" height="10.35" fill="#ffa244"/>
<rect x="407.50" y="408.20" width="5.20" height="10.35" fill="#8282ff"/>
<rect x="412.70" y="408.20" width="5.80" height="10.35" fill="#ffff00"/>
<rect x="418.50" y="408.20" width="1.50" height="10.35" fill="#f9b982"/>
<rect x="420.00" y="408.20" width="5.60" height="10.35" fill="#ffdfc0"/>
<line x1="358.10" y1="408.20" x2="358.10" y2="418.55" stroke="#666" stroke-width="0.35"/>
<line x1="360.60" y1="408.20" x2="360.60" y2="418.55" stroke="#666" stroke-width="0.35"/>
<line x1="362.50" y1="408.20" x2="362.50" y2="418.55" stroke="#666" stroke-width="0.35"/>
<line x1="366.90" y1="408.20" x2="366.90" y2="418.55" stroke="#666" stroke-width="0.35"/>
<line x1="373.10" y1="408.20" x2="373.10" y2="418.55" stroke="#666" stroke-width="0.35"/>
<line x1="399.40" y1="408.20" x2="399.40" y2="418.55" stroke="#666" stroke-width="0.35"/>
<line x1="407.50" y1="408.20" x2="407.50" y2="418.55" stroke="#666" stroke-width="0.35"/>
<line x1="412.70" y1="408.20" x2="412.70" y2="418.55" stroke="#666" stroke-width="0.35"/>
<line x1="418.50" y1="408.20" x2="418.50" y2="418.55" stroke="#666" stroke-width="0.35"/>
<line x1="420.00" y1="408.20" x2="420.00" y2="418.55" stroke="#666" stroke-width="0.35"/>
<rect x="346.50" y="408.50" width="78.80" height="9.75" fill="none" stroke="#4a4a4a" stroke-width="0.6"/>
<line x1="342.60" y1="413.38" x2="346.20" y2="413.38" stroke="#2a2a2a" stroke-width="0.9"/>
<text transform="matrix(1 0 0 1.18 341.70 416.38)" font-size="7.7" text-anchor="end" fill="#1a1a1a" color="#1a1a1a">28.<tspan font-style="italic">ζ</tspan></text>
<rect x="346.20" y="424.25" width="16.30" height="10.35" fill="#a0a0a0"/>
<rect x="362.50" y="424.25" width="2.20" height="10.35" fill="#00c000"/>
<rect x="364.70" y="424.25" width="1.50" height="10.35" fill="#a000e0"/>
<rect x="366.20" y="424.25" width="3.20" height="10.35" fill="#c262e8"/>
<rect x="369.40" y="424.25" width="6.60" height="10.35" fill="#0000ff"/>
<rect x="376.00" y="424.25" width="31.50" height="10.35" fill="#ff6393"/>
<rect x="407.50" y="424.25" width="4.10" height="10.35" fill="#ff6000"/>
<rect x="411.60" y="424.25" width="10.60" height="10.35" fill="#ffa244"/>
<rect x="422.20" y="424.25" width="4.70" height="10.35" fill="#8282ff"/>
<rect x="426.90" y="424.25" width="5.30" height="10.35" fill="#ffff00"/>
<rect x="432.20" y="424.25" width="1.30" height="10.35" fill="#f9b982"/>
<rect x="433.50" y="424.25" width="3.40" height="10.35" fill="#ffdfc0"/>
<line x1="362.50" y1="424.25" x2="362.50" y2="434.60" stroke="#666" stroke-width="0.35"/>
<line x1="364.70" y1="424.25" x2="364.70" y2="434.60" stroke="#666" stroke-width="0.35"/>
<line x1="366.20" y1="424.25" x2="366.20" y2="434.60" stroke="#666" stroke-width="0.35"/>
<line x1="369.40" y1="424.25" x2="369.40" y2="434.60" stroke="#666" stroke-width="0.35"/>
<line x1="376.00" y1="424.25" x2="376.00" y2="434.60" stroke="#666" stroke-width="0.35"/>
<line x1="407.50" y1="424.25" x2="407.50" y2="434.60" stroke="#666" stroke-width="0.35"/>
<line x1="411.60" y1="424.25" x2="411.60" y2="434.60" stroke="#666" stroke-width="0.35"/>
<line x1="422.20" y1="424.25" x2="422.20" y2="434.60" stroke="#666" stroke-width="0.35"/>
<line x1="426.90" y1="424.25" x2="426.90" y2="434.60" stroke="#666" stroke-width="0.35"/>
<line x1="432.20" y1="424.25" x2="432.20" y2="434.60" stroke="#666" stroke-width="0.35"/>
<line x1="433.50" y1="424.25" x2="433.50" y2="434.60" stroke="#666" stroke-width="0.35"/>
<rect x="346.50" y="424.55" width="90.10" height="9.75" fill="none" stroke="#4a4a4a" stroke-width="0.6"/>
<line x1="342.60" y1="429.43" x2="346.20" y2="429.43" stroke="#2a2a2a" stroke-width="0.9"/>
<text transform="matrix(1 0 0 1.18 341.70 432.43)" font-size="7.7" text-anchor="end" fill="#1a1a1a" color="#1a1a1a">Ctrl</text>
<line x1="398.10" y1="349.18" x2="405.00" y2="349.18" stroke="#333" stroke-width="0.5"/>
<line x1="405.00" y1="347.98" x2="405.00" y2="350.38" stroke="#333" stroke-width="0.5"/>
<line x1="376.00" y1="365.23" x2="380.00" y2="365.23" stroke="#333" stroke-width="0.5"/>
<line x1="380.00" y1="364.03" x2="380.00" y2="366.43" stroke="#333" stroke-width="0.5"/>
<line x1="400.50" y1="365.23" x2="404.00" y2="365.23" stroke="#333" stroke-width="0.5"/>
<line x1="404.00" y1="364.03" x2="404.00" y2="366.43" stroke="#333" stroke-width="0.5"/>
<line x1="431.50" y1="365.23" x2="433.50" y2="365.23" stroke="#333" stroke-width="0.5"/>
<line x1="433.50" y1="364.03" x2="433.50" y2="366.43" stroke="#333" stroke-width="0.5"/>
<line x1="413.10" y1="381.28" x2="417.00" y2="381.28" stroke="#333" stroke-width="0.5"/>
<line x1="417.00" y1="380.08" x2="417.00" y2="382.48" stroke="#333" stroke-width="0.5"/>
<line x1="414.40" y1="397.32" x2="416.00" y2="397.32" stroke="#333" stroke-width="0.5"/>
<line x1="416.00" y1="396.12" x2="416.00" y2="398.52" stroke="#333" stroke-width="0.5"/>
<line x1="424.70" y1="397.32" x2="427.00" y2="397.32" stroke="#333" stroke-width="0.5"/>
<line x1="427.00" y1="396.12" x2="427.00" y2="398.52" stroke="#333" stroke-width="0.5"/>
<line x1="425.60" y1="413.38" x2="428.00" y2="413.38" stroke="#333" stroke-width="0.5"/>
<line x1="428.00" y1="412.18" x2="428.00" y2="414.57" stroke="#333" stroke-width="0.5"/>
<line x1="436.90" y1="429.43" x2="439.00" y2="429.43" stroke="#333" stroke-width="0.5"/>
<line x1="439.00" y1="428.23" x2="439.00" y2="430.62" stroke="#333" stroke-width="0.5"/>
<line x1="411.60" y1="429.43" x2="414.00" y2="429.43" stroke="#333" stroke-width="0.5"/>
<line x1="414.00" y1="428.23" x2="414.00" y2="430.62" stroke="#333" stroke-width="0.5"/>
<line x1="369.40" y1="429.43" x2="372.00" y2="429.43" stroke="#333" stroke-width="0.5"/>
<line x1="372.00" y1="428.23" x2="372.00" y2="430.62" stroke="#333" stroke-width="0.5"/>
<line x1="437.50" y1="349.18" x2="438.50" y2="349.18" stroke="#333" stroke-width="0.5"/>
<line x1="438.50" y1="347.98" x2="438.50" y2="350.38" stroke="#333" stroke-width="0.5"/>
<line x1="434.70" y1="381.28" x2="436.00" y2="381.28" stroke="#333" stroke-width="0.5"/>
<line x1="436.00" y1="380.08" x2="436.00" y2="382.48" stroke="#333" stroke-width="0.5"/>
<line x1="346.20" y1="338.30" x2="346.20" y2="440.90" stroke="#555555" stroke-width="0.8"/>
<line x1="345.80" y1="440.50" x2="447.50" y2="440.50" stroke="#555555" stroke-width="0.8"/>
<line x1="346.00" y1="440.50" x2="346.00" y2="443.90" stroke="#555555" stroke-width="0.7"/>
<line x1="367.00" y1="440.50" x2="367.00" y2="442.40" stroke="#555555" stroke-width="0.7"/>
<line x1="388.00" y1="440.50" x2="388.00" y2="443.90" stroke="#555555" stroke-width="0.7"/>
<line x1="409.00" y1="440.50" x2="409.00" y2="442.40" stroke="#555555" stroke-width="0.7"/>
<line x1="430.00" y1="440.50" x2="430.00" y2="443.90" stroke="#555555" stroke-width="0.7"/>
<text transform="matrix(1 0 0 1.18 346.00 452.30)" font-size="7.9" text-anchor="middle" fill="#1a1a1a" color="#1a1a1a" >0</text>
<text transform="matrix(1 0 0 1.18 388.00 452.30)" font-size="7.9" text-anchor="middle" fill="#1a1a1a" color="#1a1a1a" >50</text>
<text transform="matrix(1 0 0 1.18 430.00 452.30)" font-size="7.9" text-anchor="middle" fill="#1a1a1a" color="#1a1a1a" >100</text>
<text transform="matrix(1 0 0 1.18 345.00 464.50)" font-size="8.1" text-anchor="start" fill="#1a1a1a" color="#1a1a1a" >Fraction of Myeloid Cells (%)</text>
<rect x="452.20" y="345.50" width="11.30" height="3.70" fill="#ffdfc0" stroke="#4a4a4a" stroke-width="0.5"/>
<text transform="matrix(1 0 0 1.18 469.20 349.70)" font-size="6.85" text-anchor="start" fill="#1a1a1a" color="#1a1a1a" style="stroke-width:0">cDC1</text>
<rect x="452.20" y="353.87" width="11.30" height="3.70" fill="#f9b982" stroke="#4a4a4a" stroke-width="0.5"/>
<text transform="matrix(1 0 0 1.18 469.20 358.07)" font-size="6.85" text-anchor="start" fill="#1a1a1a" color="#1a1a1a" style="stroke-width:0">pDC</text>
<rect x="452.20" y="362.24" width="11.30" height="3.70" fill="#ffff00" stroke="#4a4a4a" stroke-width="0.5"/>
<text transform="matrix(1 0 0 1.18 469.20 366.44)" font-size="6.85" text-anchor="start" fill="#1a1a1a" color="#1a1a1a" style="stroke-width:0">TipDC</text>
<rect x="452.20" y="370.61" width="11.30" height="3.70" fill="#8282ff" stroke="#4a4a4a" stroke-width="0.5"/>
<text transform="matrix(1 0 0 1.18 469.20 374.81)" font-size="6.85" text-anchor="start" fill="#1a1a1a" color="#1a1a1a" style="stroke-width:0">PMN-MDSC</text>
<rect x="452.20" y="378.98" width="11.30" height="3.70" fill="#ffa244" stroke="#4a4a4a" stroke-width="0.5"/>
<text transform="matrix(1 0 0 1.18 469.20 383.18)" font-size="6.85" text-anchor="start" fill="#1a1a1a" color="#1a1a1a" style="stroke-width:0">M-MDSC</text>
<rect x="452.20" y="387.35" width="11.30" height="3.70" fill="#ff6000" stroke="#4a4a4a" stroke-width="0.5"/>
<text transform="matrix(1 0 0 1.18 469.20 391.55)" font-size="6.85" text-anchor="start" fill="#1a1a1a" color="#1a1a1a" style="stroke-width:0">MO-TAMs</text>
<rect x="452.20" y="395.72" width="11.30" height="3.70" fill="#ff6393" stroke="#4a4a4a" stroke-width="0.5"/>
<text transform="matrix(1 0 0 1.18 469.20 399.92)" font-size="6.85" text-anchor="start" fill="#1a1a1a" color="#1a1a1a" style="stroke-width:0">MG-TAMs</text>
<rect x="452.20" y="404.09" width="11.30" height="3.70" fill="#0000ff" stroke="#4a4a4a" stroke-width="0.5"/>
<text transform="matrix(1 0 0 1.18 469.20 408.29)" font-size="6.85" text-anchor="start" fill="#1a1a1a" color="#1a1a1a" style="stroke-width:0">M1 macrophage</text>
<rect x="452.20" y="412.46" width="11.30" height="3.70" fill="#c262e8" stroke="#4a4a4a" stroke-width="0.5"/>
<text transform="matrix(1 0 0 1.18 469.20 416.66)" font-size="6.85" text-anchor="start" fill="#1a1a1a" color="#1a1a1a" style="stroke-width:0">Monocytes</text>
<rect x="452.20" y="420.83" width="11.30" height="3.70" fill="#a000e0" stroke="#4a4a4a" stroke-width="0.5"/>
<text transform="matrix(1 0 0 1.18 469.20 425.03)" font-size="6.85" text-anchor="start" fill="#1a1a1a" color="#1a1a1a" style="stroke-width:0">Neutrophils</text>
<rect x="452.20" y="429.20" width="11.30" height="3.70" fill="#00c000" stroke="#4a4a4a" stroke-width="0.5"/>
<text transform="matrix(1 0 0 1.18 469.20 433.40)" font-size="6.85" text-anchor="start" fill="#1a1a1a" color="#1a1a1a" style="stroke-width:0">Eosinophils</text>
<rect x="452.20" y="437.57" width="11.30" height="3.70" fill="#a0a0a0" stroke="#4a4a4a" stroke-width="0.5"/>
<text transform="matrix(1 0 0 1.18 469.20 441.77)" font-size="6.85" text-anchor="start" fill="#1a1a1a" color="#1a1a1a" style="stroke-width:0">Undefined</text>
</svg></body></html>
